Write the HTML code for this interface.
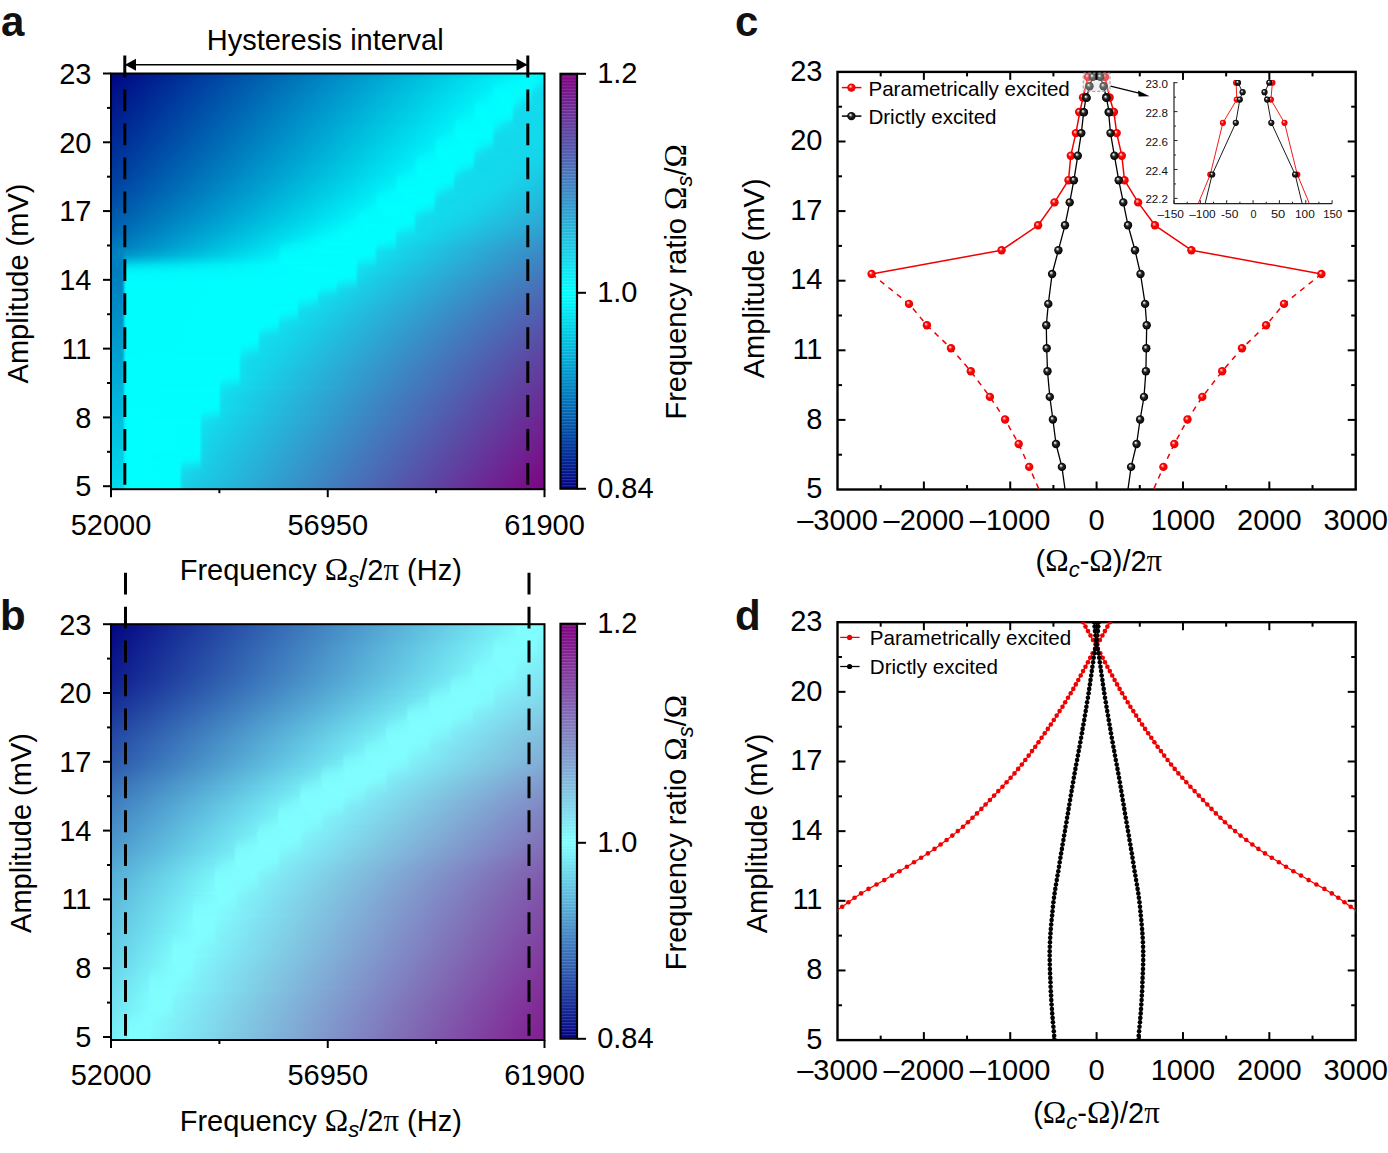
<!DOCTYPE html>
<html><head><meta charset="utf-8"><style>
html,body{margin:0;padding:0;background:#fff;}
svg{display:block;font-family:"Liberation Sans", sans-serif;}
</style></head><body>
<svg width="1388" height="1153" viewBox="0 0 1388 1153">
<defs>
<linearGradient id="g1" x1="0" x2="1" y1="0" y2="0"><stop offset="0.0012" stop-color="#000683"/><stop offset="0.9735" stop-color="#00feff"/><stop offset="0.9988" stop-color="#04f6fb"/></linearGradient>
<linearGradient id="g2" x1="0" x2="1" y1="0" y2="0"><stop offset="0.0012" stop-color="#000784"/><stop offset="0.9689" stop-color="#00feff"/><stop offset="0.9988" stop-color="#06f3f9"/></linearGradient>
<linearGradient id="g3" x1="0" x2="1" y1="0" y2="0"><stop offset="0.0012" stop-color="#000884"/><stop offset="0.8836" stop-color="#00edf6"/><stop offset="0.9689" stop-color="#01fefe"/><stop offset="0.9942" stop-color="#07f1f8"/><stop offset="0.9988" stop-color="#09eef7"/></linearGradient>
<linearGradient id="g4" x1="0" x2="1" y1="0" y2="0"><stop offset="0.0012" stop-color="#000985"/><stop offset="0.8790" stop-color="#00ecf5"/><stop offset="0.9551" stop-color="#00feff"/><stop offset="0.9827" stop-color="#04f6fb"/><stop offset="0.9988" stop-color="#0be9f4"/></linearGradient>
<linearGradient id="g5" x1="0" x2="1" y1="0" y2="0"><stop offset="0.0012" stop-color="#000a85"/><stop offset="0.8790" stop-color="#00eef6"/><stop offset="0.8998" stop-color="#00f5fa"/><stop offset="0.9620" stop-color="#01fdfe"/><stop offset="0.9850" stop-color="#08f0f8"/><stop offset="0.9988" stop-color="#0de4f2"/></linearGradient>
<linearGradient id="g6" x1="0" x2="1" y1="0" y2="0"><stop offset="0.0012" stop-color="#000c86"/><stop offset="0.8790" stop-color="#00f0f7"/><stop offset="0.8906" stop-color="#00f6fb"/><stop offset="0.9574" stop-color="#01fefe"/><stop offset="0.9735" stop-color="#05f5fa"/><stop offset="0.9988" stop-color="#0fe0f0"/></linearGradient>
<linearGradient id="g7" x1="0" x2="1" y1="0" y2="0"><stop offset="0.0012" stop-color="#000d86"/><stop offset="0.8767" stop-color="#00eff7"/><stop offset="0.8882" stop-color="#00f8fc"/><stop offset="0.9551" stop-color="#01fdfe"/><stop offset="0.9689" stop-color="#04f7fb"/><stop offset="0.9896" stop-color="#0fe1f0"/><stop offset="0.9988" stop-color="#11deee"/></linearGradient>
<linearGradient id="g8" x1="0" x2="1" y1="0" y2="0"><stop offset="0.0012" stop-color="#000e87"/><stop offset="0.8767" stop-color="#00f0f8"/><stop offset="0.8859" stop-color="#00fafd"/><stop offset="0.9528" stop-color="#01fdfe"/><stop offset="0.9666" stop-color="#03f8fc"/><stop offset="0.9781" stop-color="#0de5f2"/><stop offset="0.9988" stop-color="#12dced"/></linearGradient>
<linearGradient id="g9" x1="0" x2="1" y1="0" y2="0"><stop offset="0.0012" stop-color="#000f87"/><stop offset="0.8767" stop-color="#00f2f9"/><stop offset="0.8859" stop-color="#00fcfd"/><stop offset="0.9528" stop-color="#01fdfe"/><stop offset="0.9666" stop-color="#04f7fb"/><stop offset="0.9758" stop-color="#0fe2f1"/><stop offset="0.9988" stop-color="#12daed"/></linearGradient>
<linearGradient id="g10" x1="0" x2="1" y1="0" y2="0"><stop offset="0.0012" stop-color="#001088"/><stop offset="0.8767" stop-color="#00f4f9"/><stop offset="0.8859" stop-color="#00fdfe"/><stop offset="0.9505" stop-color="#02fcfd"/><stop offset="0.9666" stop-color="#05f5fa"/><stop offset="0.9735" stop-color="#0fe1f0"/><stop offset="0.9896" stop-color="#13daed"/><stop offset="0.9988" stop-color="#13daec"/></linearGradient>
<linearGradient id="g11" x1="0" x2="1" y1="0" y2="0"><stop offset="0.0012" stop-color="#001189"/><stop offset="0.8399" stop-color="#00ecf5"/><stop offset="0.8790" stop-color="#00f8fb"/><stop offset="0.8882" stop-color="#00fefe"/><stop offset="0.9435" stop-color="#02fcfd"/><stop offset="0.9666" stop-color="#07f1f8"/><stop offset="0.9735" stop-color="#11deef"/><stop offset="0.9988" stop-color="#13d9ec"/></linearGradient>
<linearGradient id="g12" x1="0" x2="1" y1="0" y2="0"><stop offset="0.0012" stop-color="#001289"/><stop offset="0.8353" stop-color="#00ebf5"/><stop offset="0.8790" stop-color="#00f9fc"/><stop offset="0.8906" stop-color="#00feff"/><stop offset="0.9343" stop-color="#02fcfd"/><stop offset="0.9666" stop-color="#09ecf6"/><stop offset="0.9735" stop-color="#11dcee"/><stop offset="0.9988" stop-color="#13d9ec"/></linearGradient>
<linearGradient id="g13" x1="0" x2="1" y1="0" y2="0"><stop offset="0.0012" stop-color="#00138a"/><stop offset="0.8353" stop-color="#00edf6"/><stop offset="0.8560" stop-color="#00f4fa"/><stop offset="0.8790" stop-color="#00fafd"/><stop offset="0.8952" stop-color="#00ffff"/><stop offset="0.9274" stop-color="#01fcfe"/><stop offset="0.9689" stop-color="#0ee3f1"/><stop offset="0.9758" stop-color="#13daec"/><stop offset="0.9988" stop-color="#13d9ec"/></linearGradient>
<linearGradient id="g14" x1="0" x2="1" y1="0" y2="0"><stop offset="0.0012" stop-color="#00148a"/><stop offset="0.8353" stop-color="#00eef7"/><stop offset="0.8468" stop-color="#00f5fa"/><stop offset="0.8998" stop-color="#00ffff"/><stop offset="0.9251" stop-color="#01fdfe"/><stop offset="0.9551" stop-color="#0de5f2"/><stop offset="0.9689" stop-color="#10e0ef"/><stop offset="0.9781" stop-color="#13d9ec"/><stop offset="0.9988" stop-color="#13d9ec"/></linearGradient>
<linearGradient id="g15" x1="0" x2="1" y1="0" y2="0"><stop offset="0.0012" stop-color="#00158b"/><stop offset="0.8329" stop-color="#00eef6"/><stop offset="0.8445" stop-color="#00f7fb"/><stop offset="0.9067" stop-color="#00ffff"/><stop offset="0.9251" stop-color="#02fcfd"/><stop offset="0.9459" stop-color="#0de5f2"/><stop offset="0.9827" stop-color="#13d9ec"/><stop offset="0.9988" stop-color="#13d9ec"/></linearGradient>
<linearGradient id="g16" x1="0" x2="1" y1="0" y2="0"><stop offset="0.0012" stop-color="#00168b"/><stop offset="0.8329" stop-color="#00eff7"/><stop offset="0.8422" stop-color="#00f9fc"/><stop offset="0.9182" stop-color="#00ffff"/><stop offset="0.9251" stop-color="#02fafd"/><stop offset="0.9343" stop-color="#0beaf5"/><stop offset="0.9528" stop-color="#11deee"/><stop offset="0.9988" stop-color="#13d9ec"/></linearGradient>
<linearGradient id="g17" x1="0" x2="1" y1="0" y2="0"><stop offset="0.0012" stop-color="#00178c"/><stop offset="0.8329" stop-color="#00f0f8"/><stop offset="0.8422" stop-color="#00fbfd"/><stop offset="0.9205" stop-color="#00ffff"/><stop offset="0.9251" stop-color="#03f8fc"/><stop offset="0.9320" stop-color="#0ce8f3"/><stop offset="0.9505" stop-color="#12dcee"/><stop offset="0.9988" stop-color="#13d9ec"/></linearGradient>
<linearGradient id="g18" x1="0" x2="1" y1="0" y2="0"><stop offset="0.0012" stop-color="#00188c"/><stop offset="0.8329" stop-color="#00f2f8"/><stop offset="0.8422" stop-color="#00fdfe"/><stop offset="0.9205" stop-color="#00feff"/><stop offset="0.9251" stop-color="#04f7fb"/><stop offset="0.9320" stop-color="#0ee4f1"/><stop offset="0.9528" stop-color="#12daed"/><stop offset="0.9988" stop-color="#13d9ec"/></linearGradient>
<linearGradient id="g19" x1="0" x2="1" y1="0" y2="0"><stop offset="0.0012" stop-color="#00198d"/><stop offset="0.8329" stop-color="#00f3f9"/><stop offset="0.8422" stop-color="#00fdfe"/><stop offset="0.9205" stop-color="#01fefe"/><stop offset="0.9251" stop-color="#05f5fa"/><stop offset="0.9297" stop-color="#0ee4f1"/><stop offset="0.9412" stop-color="#12dbed"/><stop offset="0.9988" stop-color="#13d9ec"/></linearGradient>
<linearGradient id="g20" x1="0" x2="1" y1="0" y2="0"><stop offset="0.0012" stop-color="#001a8d"/><stop offset="0.8329" stop-color="#00f5fa"/><stop offset="0.8422" stop-color="#00feff"/><stop offset="0.9205" stop-color="#01fdfe"/><stop offset="0.9251" stop-color="#06f3f9"/><stop offset="0.9297" stop-color="#0fe1f0"/><stop offset="0.9412" stop-color="#12daed"/><stop offset="0.9988" stop-color="#13d9ec"/></linearGradient>
<linearGradient id="g21" x1="0" x2="1" y1="0" y2="0"><stop offset="0.0012" stop-color="#001b8e"/><stop offset="0.7915" stop-color="#00ebf5"/><stop offset="0.8353" stop-color="#00f8fc"/><stop offset="0.8445" stop-color="#00ffff"/><stop offset="0.9205" stop-color="#02fbfd"/><stop offset="0.9251" stop-color="#07f1f8"/><stop offset="0.9297" stop-color="#10dfef"/><stop offset="0.9435" stop-color="#13d9ec"/><stop offset="0.9988" stop-color="#13d9ec"/></linearGradient>
<linearGradient id="g22" x1="0" x2="1" y1="0" y2="0"><stop offset="0.0012" stop-color="#001c8e"/><stop offset="0.7892" stop-color="#00ebf5"/><stop offset="0.8168" stop-color="#00f4f9"/><stop offset="0.8353" stop-color="#00fafc"/><stop offset="0.8468" stop-color="#00ffff"/><stop offset="0.9113" stop-color="#02fafd"/><stop offset="0.9228" stop-color="#05f5fa"/><stop offset="0.9297" stop-color="#11deee"/><stop offset="0.9482" stop-color="#13d9ec"/><stop offset="0.9988" stop-color="#13d9ec"/></linearGradient>
<linearGradient id="g23" x1="0" x2="1" y1="0" y2="0"><stop offset="0.0012" stop-color="#001d8f"/><stop offset="0.7892" stop-color="#00edf6"/><stop offset="0.8030" stop-color="#00f4f9"/><stop offset="0.8353" stop-color="#00fbfd"/><stop offset="0.8537" stop-color="#00ffff"/><stop offset="0.8998" stop-color="#02fafd"/><stop offset="0.9228" stop-color="#07f1f8"/><stop offset="0.9297" stop-color="#11dcee"/><stop offset="0.9689" stop-color="#13d9ec"/><stop offset="0.9988" stop-color="#13d9ec"/></linearGradient>
<linearGradient id="g24" x1="0" x2="1" y1="0" y2="0"><stop offset="0.0012" stop-color="#001e8f"/><stop offset="0.7869" stop-color="#00ecf5"/><stop offset="0.7984" stop-color="#00f6fa"/><stop offset="0.8583" stop-color="#00ffff"/><stop offset="0.8882" stop-color="#02fbfd"/><stop offset="0.9228" stop-color="#0aebf5"/><stop offset="0.9297" stop-color="#12dbed"/><stop offset="0.9988" stop-color="#13d9ec"/></linearGradient>
<linearGradient id="g25" x1="0" x2="1" y1="0" y2="0"><stop offset="0.0012" stop-color="#001f90"/><stop offset="0.7869" stop-color="#00edf6"/><stop offset="0.7961" stop-color="#00f8fb"/><stop offset="0.8652" stop-color="#00ffff"/><stop offset="0.8813" stop-color="#02fcfd"/><stop offset="0.9182" stop-color="#0ce7f3"/><stop offset="0.9251" stop-color="#0ee2f1"/><stop offset="0.9320" stop-color="#13d9ec"/><stop offset="0.9988" stop-color="#13d9ec"/></linearGradient>
<linearGradient id="g26" x1="0" x2="1" y1="0" y2="0"><stop offset="0.0012" stop-color="#002090"/><stop offset="0.7869" stop-color="#00eff7"/><stop offset="0.7961" stop-color="#00fafc"/><stop offset="0.8744" stop-color="#00ffff"/><stop offset="0.9113" stop-color="#0ee4f1"/><stop offset="0.9251" stop-color="#10dfef"/><stop offset="0.9343" stop-color="#13d9ec"/><stop offset="0.9988" stop-color="#13d9ec"/></linearGradient>
<linearGradient id="g27" x1="0" x2="1" y1="0" y2="0"><stop offset="0.0012" stop-color="#002191"/><stop offset="0.7869" stop-color="#00f0f8"/><stop offset="0.7961" stop-color="#00fcfd"/><stop offset="0.8767" stop-color="#01fefe"/><stop offset="0.8998" stop-color="#0de5f2"/><stop offset="0.9389" stop-color="#13d9ec"/><stop offset="0.9988" stop-color="#13d9ec"/></linearGradient>
<linearGradient id="g28" x1="0" x2="1" y1="0" y2="0"><stop offset="0.0012" stop-color="#002291"/><stop offset="0.7869" stop-color="#00f1f8"/><stop offset="0.7961" stop-color="#00fdfe"/><stop offset="0.8767" stop-color="#01fefe"/><stop offset="0.8882" stop-color="#0aebf5"/><stop offset="0.9090" stop-color="#11ddee"/><stop offset="0.9689" stop-color="#13d9ec"/><stop offset="0.9988" stop-color="#13d9ec"/></linearGradient>
<linearGradient id="g29" x1="0" x2="1" y1="0" y2="0"><stop offset="0.0012" stop-color="#002392"/><stop offset="0.7869" stop-color="#00f3f9"/><stop offset="0.7961" stop-color="#00fefe"/><stop offset="0.8767" stop-color="#01fdfe"/><stop offset="0.8859" stop-color="#0be9f4"/><stop offset="0.9044" stop-color="#12dcee"/><stop offset="0.9988" stop-color="#13d9ec"/></linearGradient>
<linearGradient id="g30" x1="0" x2="1" y1="0" y2="0"><stop offset="0.0012" stop-color="#002492"/><stop offset="0.7477" stop-color="#00eaf4"/><stop offset="0.7869" stop-color="#00f4fa"/><stop offset="0.7961" stop-color="#00feff"/><stop offset="0.8767" stop-color="#01fcfe"/><stop offset="0.8859" stop-color="#0de4f2"/><stop offset="0.9044" stop-color="#12dbed"/><stop offset="0.9988" stop-color="#13d9ec"/></linearGradient>
<linearGradient id="g31" x1="0" x2="1" y1="0" y2="0"><stop offset="0.0012" stop-color="#002593"/><stop offset="0.7454" stop-color="#00eaf4"/><stop offset="0.7892" stop-color="#00f9fc"/><stop offset="0.7984" stop-color="#00ffff"/><stop offset="0.8744" stop-color="#01fefe"/><stop offset="0.8790" stop-color="#05f5fa"/><stop offset="0.8836" stop-color="#0de5f2"/><stop offset="0.8952" stop-color="#12dbed"/><stop offset="0.9988" stop-color="#13d9ec"/></linearGradient>
<linearGradient id="g32" x1="0" x2="1" y1="0" y2="0"><stop offset="0.0012" stop-color="#002693"/><stop offset="0.7454" stop-color="#00ebf5"/><stop offset="0.7615" stop-color="#00f3f9"/><stop offset="0.7892" stop-color="#00fafc"/><stop offset="0.8007" stop-color="#00ffff"/><stop offset="0.8744" stop-color="#01fdfe"/><stop offset="0.8790" stop-color="#06f4f9"/><stop offset="0.8836" stop-color="#0fe2f0"/><stop offset="0.8952" stop-color="#12daed"/><stop offset="0.9988" stop-color="#13d9ec"/></linearGradient>
<linearGradient id="g33" x1="0" x2="1" y1="0" y2="0"><stop offset="0.0012" stop-color="#002794"/><stop offset="0.7431" stop-color="#00ebf5"/><stop offset="0.7546" stop-color="#00f4fa"/><stop offset="0.7915" stop-color="#00fdfe"/><stop offset="0.8721" stop-color="#02fcfd"/><stop offset="0.8767" stop-color="#03f9fc"/><stop offset="0.8836" stop-color="#10dfef"/><stop offset="0.8975" stop-color="#13d9ec"/><stop offset="0.9988" stop-color="#13d9ec"/></linearGradient>
<linearGradient id="g34" x1="0" x2="1" y1="0" y2="0"><stop offset="0.0012" stop-color="#002894"/><stop offset="0.7431" stop-color="#00ecf6"/><stop offset="0.7523" stop-color="#00f7fb"/><stop offset="0.8145" stop-color="#00ffff"/><stop offset="0.8744" stop-color="#03f8fc"/><stop offset="0.8790" stop-color="#08eff7"/><stop offset="0.8836" stop-color="#11deee"/><stop offset="0.8998" stop-color="#13d9ec"/><stop offset="0.9988" stop-color="#13d9ec"/></linearGradient>
<linearGradient id="g35" x1="0" x2="1" y1="0" y2="0"><stop offset="0.0012" stop-color="#002995"/><stop offset="0.7431" stop-color="#00eef6"/><stop offset="0.7523" stop-color="#00f9fc"/><stop offset="0.8283" stop-color="#00ffff"/><stop offset="0.8767" stop-color="#07f1f8"/><stop offset="0.8836" stop-color="#11dcee"/><stop offset="0.9182" stop-color="#13d9ec"/><stop offset="0.9988" stop-color="#13d8ec"/></linearGradient>
<linearGradient id="g36" x1="0" x2="1" y1="0" y2="0"><stop offset="0.0012" stop-color="#002a95"/><stop offset="0.7431" stop-color="#00eff7"/><stop offset="0.7523" stop-color="#00fbfd"/><stop offset="0.8329" stop-color="#00ffff"/><stop offset="0.8767" stop-color="#0aecf5"/><stop offset="0.8836" stop-color="#12dbed"/><stop offset="0.9988" stop-color="#14d8eb"/></linearGradient>
<linearGradient id="g37" x1="0" x2="1" y1="0" y2="0"><stop offset="0.0012" stop-color="#002b96"/><stop offset="0.7431" stop-color="#00f0f8"/><stop offset="0.7523" stop-color="#00fcfe"/><stop offset="0.8353" stop-color="#01fdfe"/><stop offset="0.8698" stop-color="#0be8f4"/><stop offset="0.8790" stop-color="#0ee2f1"/><stop offset="0.8859" stop-color="#13d9ec"/><stop offset="0.9988" stop-color="#14d7eb"/></linearGradient>
<linearGradient id="g38" x1="0" x2="1" y1="0" y2="0"><stop offset="0.0012" stop-color="#002c96"/><stop offset="0.7431" stop-color="#00f2f8"/><stop offset="0.7523" stop-color="#00fdfe"/><stop offset="0.8329" stop-color="#00feff"/><stop offset="0.8560" stop-color="#0be8f4"/><stop offset="0.8790" stop-color="#10dfef"/><stop offset="0.8882" stop-color="#13d9ec"/><stop offset="0.9988" stop-color="#15d6ea"/></linearGradient>
<linearGradient id="g39" x1="0" x2="1" y1="0" y2="0"><stop offset="0.0012" stop-color="#002d97"/><stop offset="0.7016" stop-color="#00e8f3"/><stop offset="0.7431" stop-color="#00f4f9"/><stop offset="0.7523" stop-color="#00fefe"/><stop offset="0.8329" stop-color="#01fefe"/><stop offset="0.8445" stop-color="#0aecf5"/><stop offset="0.8652" stop-color="#10dfef"/><stop offset="0.8998" stop-color="#13d9ec"/><stop offset="0.9919" stop-color="#15d6eb"/><stop offset="0.9988" stop-color="#15d5ea"/></linearGradient>
<linearGradient id="g40" x1="0" x2="1" y1="0" y2="0"><stop offset="0.0012" stop-color="#002e97"/><stop offset="0.6993" stop-color="#00e8f4"/><stop offset="0.7454" stop-color="#00f8fb"/><stop offset="0.7546" stop-color="#00ffff"/><stop offset="0.8329" stop-color="#01fdfe"/><stop offset="0.8422" stop-color="#0be9f4"/><stop offset="0.8629" stop-color="#11ddee"/><stop offset="0.9251" stop-color="#13d9ec"/><stop offset="0.9896" stop-color="#15d5ea"/><stop offset="0.9988" stop-color="#16d4e9"/></linearGradient>
<linearGradient id="g41" x1="0" x2="1" y1="0" y2="0"><stop offset="0.0012" stop-color="#003098"/><stop offset="0.6993" stop-color="#00eaf4"/><stop offset="0.7154" stop-color="#00f1f8"/><stop offset="0.7454" stop-color="#00f9fc"/><stop offset="0.7569" stop-color="#00ffff"/><stop offset="0.8329" stop-color="#01fcfe"/><stop offset="0.8422" stop-color="#0de4f2"/><stop offset="0.8629" stop-color="#12dbed"/><stop offset="0.9850" stop-color="#15d5ea"/><stop offset="0.9988" stop-color="#16d3e9"/></linearGradient>
<linearGradient id="g42" x1="0" x2="1" y1="0" y2="0"><stop offset="0.0012" stop-color="#003198"/><stop offset="0.6970" stop-color="#00e9f4"/><stop offset="0.7085" stop-color="#00f3f9"/><stop offset="0.7454" stop-color="#00fbfd"/><stop offset="0.7615" stop-color="#00ffff"/><stop offset="0.8306" stop-color="#01fefe"/><stop offset="0.8353" stop-color="#05f5fa"/><stop offset="0.8399" stop-color="#0de4f2"/><stop offset="0.8514" stop-color="#12dced"/><stop offset="0.9804" stop-color="#15d5ea"/><stop offset="0.9988" stop-color="#17d2e8"/></linearGradient>
<linearGradient id="g43" x1="0" x2="1" y1="0" y2="0"><stop offset="0.0012" stop-color="#003299"/><stop offset="0.6970" stop-color="#00ebf5"/><stop offset="0.7062" stop-color="#00f5fa"/><stop offset="0.7684" stop-color="#00ffff"/><stop offset="0.8306" stop-color="#01fdfe"/><stop offset="0.8353" stop-color="#06f3f9"/><stop offset="0.8399" stop-color="#0fe1f0"/><stop offset="0.8514" stop-color="#12daed"/><stop offset="0.9735" stop-color="#15d6ea"/><stop offset="0.9988" stop-color="#17d1e8"/></linearGradient>
<linearGradient id="g44" x1="0" x2="1" y1="0" y2="0"><stop offset="0.0012" stop-color="#003399"/><stop offset="0.6970" stop-color="#00ecf6"/><stop offset="0.7062" stop-color="#00f8fc"/><stop offset="0.7776" stop-color="#00ffff"/><stop offset="0.8306" stop-color="#02fbfd"/><stop offset="0.8353" stop-color="#07f1f8"/><stop offset="0.8399" stop-color="#10dfef"/><stop offset="0.8537" stop-color="#13d9ec"/><stop offset="0.9689" stop-color="#15d6ea"/><stop offset="0.9988" stop-color="#18d0e7"/></linearGradient>
<linearGradient id="g45" x1="0" x2="1" y1="0" y2="0"><stop offset="0.0012" stop-color="#00349a"/><stop offset="0.6970" stop-color="#00eef6"/><stop offset="0.7062" stop-color="#00fafd"/><stop offset="0.7892" stop-color="#00ffff"/><stop offset="0.8329" stop-color="#05f5fa"/><stop offset="0.8399" stop-color="#11deee"/><stop offset="0.8583" stop-color="#13d9ec"/><stop offset="0.9643" stop-color="#15d6ea"/><stop offset="0.9988" stop-color="#18cfe7"/></linearGradient>
<linearGradient id="g46" x1="0" x2="1" y1="0" y2="0"><stop offset="0.0012" stop-color="#00359a"/><stop offset="0.6970" stop-color="#00eff7"/><stop offset="0.7062" stop-color="#00fcfd"/><stop offset="0.7915" stop-color="#01fdfe"/><stop offset="0.8329" stop-color="#07f1f8"/><stop offset="0.8399" stop-color="#11dcee"/><stop offset="0.8790" stop-color="#13d9ec"/><stop offset="0.9597" stop-color="#15d6ea"/><stop offset="0.9988" stop-color="#19cee6"/></linearGradient>
<linearGradient id="g47" x1="0" x2="1" y1="0" y2="0"><stop offset="0.0012" stop-color="#00369b"/><stop offset="0.6970" stop-color="#00f1f8"/><stop offset="0.7062" stop-color="#00fdfe"/><stop offset="0.7892" stop-color="#01fefe"/><stop offset="0.8329" stop-color="#0aebf5"/><stop offset="0.8399" stop-color="#12dbed"/><stop offset="0.9551" stop-color="#15d5ea"/><stop offset="0.9988" stop-color="#19cce6"/></linearGradient>
<linearGradient id="g48" x1="0" x2="1" y1="0" y2="0"><stop offset="0.0012" stop-color="#00379c"/><stop offset="0.6578" stop-color="#00e7f3"/><stop offset="0.6970" stop-color="#00f3f9"/><stop offset="0.7062" stop-color="#00fefe"/><stop offset="0.7892" stop-color="#01fdfe"/><stop offset="0.8260" stop-color="#0ce8f4"/><stop offset="0.8353" stop-color="#0ee2f1"/><stop offset="0.8422" stop-color="#13d9ec"/><stop offset="0.9482" stop-color="#15d6ea"/><stop offset="0.9988" stop-color="#1acbe5"/></linearGradient>
<linearGradient id="g49" x1="0" x2="1" y1="0" y2="0"><stop offset="0.0012" stop-color="#00399c"/><stop offset="0.6555" stop-color="#00e8f3"/><stop offset="0.6993" stop-color="#00f7fb"/><stop offset="0.7085" stop-color="#00feff"/><stop offset="0.7869" stop-color="#01fefe"/><stop offset="0.8053" stop-color="#0aecf5"/><stop offset="0.8283" stop-color="#0ee2f1"/><stop offset="0.8445" stop-color="#13d9ec"/><stop offset="0.9435" stop-color="#15d6ea"/><stop offset="0.9988" stop-color="#1bcae5"/></linearGradient>
<linearGradient id="g50" x1="0" x2="1" y1="0" y2="0"><stop offset="0.0012" stop-color="#003a9d"/><stop offset="0.6555" stop-color="#00eaf4"/><stop offset="0.6717" stop-color="#00f1f8"/><stop offset="0.6993" stop-color="#00f9fc"/><stop offset="0.7085" stop-color="#00ffff"/><stop offset="0.7869" stop-color="#01fefe"/><stop offset="0.7984" stop-color="#0aecf5"/><stop offset="0.8191" stop-color="#10dfef"/><stop offset="0.8560" stop-color="#13d9ec"/><stop offset="0.9389" stop-color="#15d5ea"/><stop offset="0.9988" stop-color="#1bc9e4"/></linearGradient>
<linearGradient id="g51" x1="0" x2="1" y1="0" y2="0"><stop offset="0.0012" stop-color="#003b9d"/><stop offset="0.6532" stop-color="#00e9f4"/><stop offset="0.6647" stop-color="#00f3f9"/><stop offset="0.6993" stop-color="#00fafd"/><stop offset="0.7131" stop-color="#00ffff"/><stop offset="0.7869" stop-color="#01fdfe"/><stop offset="0.7961" stop-color="#0be9f4"/><stop offset="0.8168" stop-color="#11ddee"/><stop offset="0.8859" stop-color="#13d9ec"/><stop offset="0.9389" stop-color="#15d4ea"/><stop offset="0.9988" stop-color="#1cc8e4"/></linearGradient>
<linearGradient id="g52" x1="0" x2="1" y1="0" y2="0"><stop offset="0.0012" stop-color="#003c9e"/><stop offset="0.6532" stop-color="#00ebf5"/><stop offset="0.6624" stop-color="#00f5fa"/><stop offset="0.7016" stop-color="#00fdfe"/><stop offset="0.7869" stop-color="#01fcfe"/><stop offset="0.7961" stop-color="#0ee4f1"/><stop offset="0.8168" stop-color="#12dbed"/><stop offset="0.9297" stop-color="#15d5ea"/><stop offset="0.9988" stop-color="#1cc7e3"/></linearGradient>
<linearGradient id="g53" x1="0" x2="1" y1="0" y2="0"><stop offset="0.0012" stop-color="#003d9f"/><stop offset="0.6532" stop-color="#00edf6"/><stop offset="0.6624" stop-color="#00f8fc"/><stop offset="0.7316" stop-color="#00ffff"/><stop offset="0.7846" stop-color="#01fdfe"/><stop offset="0.7892" stop-color="#05f4fa"/><stop offset="0.7938" stop-color="#0ee3f1"/><stop offset="0.8053" stop-color="#12dbed"/><stop offset="0.9228" stop-color="#15d5ea"/><stop offset="0.9988" stop-color="#1dc5e2"/></linearGradient>
<linearGradient id="g54" x1="0" x2="1" y1="0" y2="0"><stop offset="0.0012" stop-color="#003f9f"/><stop offset="0.6532" stop-color="#00eef7"/><stop offset="0.6624" stop-color="#00fafd"/><stop offset="0.7477" stop-color="#00ffff"/><stop offset="0.7846" stop-color="#02fcfd"/><stop offset="0.7892" stop-color="#07f2f9"/><stop offset="0.7938" stop-color="#0fe0f0"/><stop offset="0.8076" stop-color="#13daed"/><stop offset="0.9159" stop-color="#15d6ea"/><stop offset="0.9988" stop-color="#1dc4e2"/></linearGradient>
<linearGradient id="g55" x1="0" x2="1" y1="0" y2="0"><stop offset="0.0012" stop-color="#0040a0"/><stop offset="0.6532" stop-color="#00f0f8"/><stop offset="0.6624" stop-color="#00fcfe"/><stop offset="0.7569" stop-color="#01fdfe"/><stop offset="0.7869" stop-color="#04f6fb"/><stop offset="0.7938" stop-color="#10deef"/><stop offset="0.8099" stop-color="#13d9ec"/><stop offset="0.9113" stop-color="#15d5ea"/><stop offset="0.9988" stop-color="#1ec3e1"/></linearGradient>
<linearGradient id="g56" x1="0" x2="1" y1="0" y2="0"><stop offset="0.0012" stop-color="#0041a1"/><stop offset="0.6532" stop-color="#00f2f8"/><stop offset="0.6624" stop-color="#00fdfe"/><stop offset="0.7477" stop-color="#01fdfe"/><stop offset="0.7869" stop-color="#07f2f8"/><stop offset="0.7938" stop-color="#11ddee"/><stop offset="0.8214" stop-color="#13d9ec"/><stop offset="0.9044" stop-color="#15d6ea"/><stop offset="0.9988" stop-color="#1fc2e1"/></linearGradient>
<linearGradient id="g57" x1="0" x2="1" y1="0" y2="0"><stop offset="0.0012" stop-color="#0043a1"/><stop offset="0.6118" stop-color="#00e8f4"/><stop offset="0.6532" stop-color="#00f4f9"/><stop offset="0.6624" stop-color="#00fefe"/><stop offset="0.7454" stop-color="#01fdfe"/><stop offset="0.7869" stop-color="#09ecf6"/><stop offset="0.7938" stop-color="#12dced"/><stop offset="0.9021" stop-color="#15d5ea"/><stop offset="0.9988" stop-color="#1fc0e0"/></linearGradient>
<linearGradient id="g58" x1="0" x2="1" y1="0" y2="0"><stop offset="0.0012" stop-color="#0044a2"/><stop offset="0.6094" stop-color="#00e8f4"/><stop offset="0.6555" stop-color="#00f8fc"/><stop offset="0.6647" stop-color="#00ffff"/><stop offset="0.7454" stop-color="#01fcfe"/><stop offset="0.7776" stop-color="#0beaf4"/><stop offset="0.7892" stop-color="#0ee3f1"/><stop offset="0.7961" stop-color="#13d9ec"/><stop offset="0.8929" stop-color="#15d6ea"/><stop offset="0.9988" stop-color="#20bfdf"/></linearGradient>
<linearGradient id="g59" x1="0" x2="1" y1="0" y2="0"><stop offset="0.0012" stop-color="#0045a3"/><stop offset="0.6094" stop-color="#00eaf5"/><stop offset="0.6256" stop-color="#00f2f8"/><stop offset="0.6555" stop-color="#00fafc"/><stop offset="0.6671" stop-color="#00ffff"/><stop offset="0.7431" stop-color="#01fefe"/><stop offset="0.7546" stop-color="#08f0f7"/><stop offset="0.7800" stop-color="#0ee3f1"/><stop offset="0.7892" stop-color="#10dfef"/><stop offset="0.7984" stop-color="#13d9ec"/><stop offset="0.8859" stop-color="#15d6eb"/><stop offset="0.9988" stop-color="#21bedf"/></linearGradient>
<linearGradient id="g60" x1="0" x2="1" y1="0" y2="0"><stop offset="0.0012" stop-color="#0047a3"/><stop offset="0.6071" stop-color="#00eaf5"/><stop offset="0.6187" stop-color="#00f3f9"/><stop offset="0.6578" stop-color="#00fdfe"/><stop offset="0.7431" stop-color="#01fdfe"/><stop offset="0.7523" stop-color="#09edf6"/><stop offset="0.7753" stop-color="#10e0ef"/><stop offset="0.8076" stop-color="#13d9ec"/><stop offset="0.8813" stop-color="#15d6ea"/><stop offset="0.9988" stop-color="#21bdde"/></linearGradient>
<linearGradient id="g61" x1="0" x2="1" y1="0" y2="0"><stop offset="0.0012" stop-color="#0048a4"/><stop offset="0.6071" stop-color="#00ecf5"/><stop offset="0.6164" stop-color="#00f6fb"/><stop offset="0.6809" stop-color="#00ffff"/><stop offset="0.7431" stop-color="#01fdfe"/><stop offset="0.7523" stop-color="#0ce8f3"/><stop offset="0.7730" stop-color="#11ddee"/><stop offset="0.8329" stop-color="#13d9ec"/><stop offset="0.8859" stop-color="#16d3e9"/><stop offset="0.9988" stop-color="#22bbdd"/></linearGradient>
<linearGradient id="g62" x1="0" x2="1" y1="0" y2="0"><stop offset="0.0012" stop-color="#004aa5"/><stop offset="0.6071" stop-color="#00eef6"/><stop offset="0.6164" stop-color="#00f9fc"/><stop offset="0.6924" stop-color="#00ffff"/><stop offset="0.7431" stop-color="#01fcfe"/><stop offset="0.7500" stop-color="#0ce7f3"/><stop offset="0.7638" stop-color="#11ddee"/><stop offset="0.8744" stop-color="#15d4ea"/><stop offset="0.9988" stop-color="#23badd"/></linearGradient>
<linearGradient id="g63" x1="0" x2="1" y1="0" y2="0"><stop offset="0.0012" stop-color="#004ba5"/><stop offset="0.6071" stop-color="#00f0f7"/><stop offset="0.6164" stop-color="#00fbfd"/><stop offset="0.7224" stop-color="#00ffff"/><stop offset="0.7431" stop-color="#02fbfd"/><stop offset="0.7500" stop-color="#0ee3f1"/><stop offset="0.7615" stop-color="#12dbed"/><stop offset="0.8652" stop-color="#15d5ea"/><stop offset="0.9988" stop-color="#23b9dc"/></linearGradient>
<linearGradient id="g64" x1="0" x2="1" y1="0" y2="0"><stop offset="0.0012" stop-color="#004da6"/><stop offset="0.6071" stop-color="#00f1f8"/><stop offset="0.6164" stop-color="#00fcfe"/><stop offset="0.7408" stop-color="#01fdfe"/><stop offset="0.7454" stop-color="#06f3f9"/><stop offset="0.7500" stop-color="#0fe0f0"/><stop offset="0.7615" stop-color="#12daed"/><stop offset="0.8583" stop-color="#15d5ea"/><stop offset="0.9988" stop-color="#24b7db"/></linearGradient>
<linearGradient id="g65" x1="0" x2="1" y1="0" y2="0"><stop offset="0.0012" stop-color="#004ea7"/><stop offset="0.6071" stop-color="#00f3f9"/><stop offset="0.6164" stop-color="#00fdfe"/><stop offset="0.7316" stop-color="#01fcfe"/><stop offset="0.7431" stop-color="#03f8fc"/><stop offset="0.7500" stop-color="#10deef"/><stop offset="0.7638" stop-color="#13d9ec"/><stop offset="0.8514" stop-color="#15d5ea"/><stop offset="0.9988" stop-color="#25b6db"/></linearGradient>
<linearGradient id="g66" x1="0" x2="1" y1="0" y2="0"><stop offset="0.0012" stop-color="#0050a8"/><stop offset="0.6071" stop-color="#00f5fa"/><stop offset="0.6164" stop-color="#00feff"/><stop offset="0.7085" stop-color="#01fcfe"/><stop offset="0.7431" stop-color="#05f5fa"/><stop offset="0.7500" stop-color="#11ddee"/><stop offset="0.7684" stop-color="#13d9ec"/><stop offset="0.8445" stop-color="#15d5ea"/><stop offset="0.9988" stop-color="#26b4da"/></linearGradient>
<linearGradient id="g67" x1="0" x2="1" y1="0" y2="0"><stop offset="0.0012" stop-color="#0051a8"/><stop offset="0.5680" stop-color="#00ecf6"/><stop offset="0.6094" stop-color="#00f9fc"/><stop offset="0.6210" stop-color="#00ffff"/><stop offset="0.6993" stop-color="#01fefe"/><stop offset="0.7431" stop-color="#07f0f8"/><stop offset="0.7500" stop-color="#12dcee"/><stop offset="0.8030" stop-color="#13d9ec"/><stop offset="0.8629" stop-color="#18d0e8"/><stop offset="0.9988" stop-color="#26b3d9"/></linearGradient>
<linearGradient id="g68" x1="0" x2="1" y1="0" y2="0"><stop offset="0.0012" stop-color="#0053a9"/><stop offset="0.5657" stop-color="#00edf6"/><stop offset="0.5979" stop-color="#00f7fb"/><stop offset="0.6233" stop-color="#00ffff"/><stop offset="0.6993" stop-color="#01fdfe"/><stop offset="0.7293" stop-color="#08eff7"/><stop offset="0.7431" stop-color="#0aebf5"/><stop offset="0.7500" stop-color="#12dbed"/><stop offset="0.8353" stop-color="#15d5ea"/><stop offset="0.9988" stop-color="#27b1d8"/></linearGradient>
<linearGradient id="g69" x1="0" x2="1" y1="0" y2="0"><stop offset="0.0012" stop-color="#0054aa"/><stop offset="0.5657" stop-color="#00eff7"/><stop offset="0.5818" stop-color="#00f6fb"/><stop offset="0.6302" stop-color="#00ffff"/><stop offset="0.6970" stop-color="#01fefe"/><stop offset="0.7085" stop-color="#07f2f8"/><stop offset="0.7431" stop-color="#0de5f2"/><stop offset="0.7523" stop-color="#13d9ec"/><stop offset="0.8260" stop-color="#15d5ea"/><stop offset="0.9988" stop-color="#28b0d8"/></linearGradient>
<linearGradient id="g70" x1="0" x2="1" y1="0" y2="0"><stop offset="0.0012" stop-color="#0056ab"/><stop offset="0.5657" stop-color="#00f1f8"/><stop offset="0.5772" stop-color="#00f8fb"/><stop offset="0.6371" stop-color="#00ffff"/><stop offset="0.6970" stop-color="#01fdfe"/><stop offset="0.7062" stop-color="#08eef7"/><stop offset="0.7362" stop-color="#0fe2f1"/><stop offset="0.7477" stop-color="#12dced"/><stop offset="0.8283" stop-color="#16d3e9"/><stop offset="0.9988" stop-color="#28aed7"/></linearGradient>
<linearGradient id="g71" x1="0" x2="1" y1="0" y2="0"><stop offset="0.0012" stop-color="#0057ac"/><stop offset="0.5634" stop-color="#00f1f8"/><stop offset="0.5749" stop-color="#00fafd"/><stop offset="0.6555" stop-color="#00ffff"/><stop offset="0.6970" stop-color="#01fdfe"/><stop offset="0.7062" stop-color="#0be9f4"/><stop offset="0.7316" stop-color="#10deef"/><stop offset="0.7684" stop-color="#13d9ec"/><stop offset="0.8214" stop-color="#16d3e9"/><stop offset="0.9988" stop-color="#29add6"/></linearGradient>
<linearGradient id="g72" x1="0" x2="1" y1="0" y2="0"><stop offset="0.0012" stop-color="#0059ac"/><stop offset="0.5634" stop-color="#00f3f9"/><stop offset="0.5749" stop-color="#00fcfd"/><stop offset="0.6947" stop-color="#00feff"/><stop offset="0.6993" stop-color="#04f7fb"/><stop offset="0.7039" stop-color="#0ce8f3"/><stop offset="0.7224" stop-color="#11ddee"/><stop offset="0.8145" stop-color="#16d3e9"/><stop offset="0.9988" stop-color="#2aabd5"/></linearGradient>
<linearGradient id="g73" x1="0" x2="1" y1="0" y2="0"><stop offset="0.0012" stop-color="#005bad"/><stop offset="0.5634" stop-color="#00f5fa"/><stop offset="0.5749" stop-color="#00fdfe"/><stop offset="0.6947" stop-color="#01fefe"/><stop offset="0.6993" stop-color="#05f5fa"/><stop offset="0.7039" stop-color="#0de4f2"/><stop offset="0.7177" stop-color="#12dced"/><stop offset="0.8030" stop-color="#16d4ea"/><stop offset="0.9988" stop-color="#2baad4"/></linearGradient>
<linearGradient id="g74" x1="0" x2="1" y1="0" y2="0"><stop offset="0.0012" stop-color="#005cae"/><stop offset="0.5634" stop-color="#00f7fb"/><stop offset="0.5749" stop-color="#00feff"/><stop offset="0.6947" stop-color="#01fdfe"/><stop offset="0.6993" stop-color="#06f3f9"/><stop offset="0.7039" stop-color="#0fe1f0"/><stop offset="0.7177" stop-color="#12daed"/><stop offset="0.7938" stop-color="#15d4ea"/><stop offset="0.9988" stop-color="#2ca8d4"/></linearGradient>
<linearGradient id="g75" x1="0" x2="1" y1="0" y2="0"><stop offset="0.0012" stop-color="#005eaf"/><stop offset="0.5219" stop-color="#00eff7"/><stop offset="0.5680" stop-color="#00fdfe"/><stop offset="0.6878" stop-color="#01fcfe"/><stop offset="0.6970" stop-color="#03f9fc"/><stop offset="0.7039" stop-color="#10dfef"/><stop offset="0.7177" stop-color="#13daec"/><stop offset="0.7846" stop-color="#15d5ea"/><stop offset="0.9988" stop-color="#2da6d3"/></linearGradient>
<linearGradient id="g76" x1="0" x2="1" y1="0" y2="0"><stop offset="0.0012" stop-color="#0060b0"/><stop offset="0.5196" stop-color="#00f0f7"/><stop offset="0.5541" stop-color="#00f9fc"/><stop offset="0.5887" stop-color="#00ffff"/><stop offset="0.6647" stop-color="#02fcfd"/><stop offset="0.6970" stop-color="#04f6fb"/><stop offset="0.7039" stop-color="#11ddee"/><stop offset="0.7200" stop-color="#13d9ec"/><stop offset="0.7800" stop-color="#16d4ea"/><stop offset="0.9988" stop-color="#2da5d2"/></linearGradient>
<linearGradient id="g77" x1="0" x2="1" y1="0" y2="0"><stop offset="0.0012" stop-color="#0062b1"/><stop offset="0.5196" stop-color="#00f2f9"/><stop offset="0.5403" stop-color="#00f9fc"/><stop offset="0.5956" stop-color="#00ffff"/><stop offset="0.6555" stop-color="#01fdfe"/><stop offset="0.6970" stop-color="#06f2f9"/><stop offset="0.7039" stop-color="#11dcee"/><stop offset="0.7362" stop-color="#13d9ec"/><stop offset="0.8491" stop-color="#1ec3e1"/><stop offset="0.9988" stop-color="#2ea3d1"/></linearGradient>
<linearGradient id="g78" x1="0" x2="1" y1="0" y2="0"><stop offset="0.0012" stop-color="#0064b2"/><stop offset="0.5196" stop-color="#00f5fa"/><stop offset="0.5380" stop-color="#00fbfd"/><stop offset="0.6348" stop-color="#00ffff"/><stop offset="0.6555" stop-color="#02fcfe"/><stop offset="0.6671" stop-color="#05f5fa"/><stop offset="0.6970" stop-color="#09edf6"/><stop offset="0.7039" stop-color="#12dbed"/><stop offset="0.7776" stop-color="#17d1e8"/><stop offset="0.9988" stop-color="#2fa1d0"/></linearGradient>
<linearGradient id="g79" x1="0" x2="1" y1="0" y2="0"><stop offset="0.0012" stop-color="#0066b3"/><stop offset="0.4781" stop-color="#00ebf5"/><stop offset="0.5196" stop-color="#00f7fb"/><stop offset="0.5403" stop-color="#00fdfe"/><stop offset="0.6532" stop-color="#01fefe"/><stop offset="0.6624" stop-color="#07f1f8"/><stop offset="0.6970" stop-color="#0ce7f3"/><stop offset="0.7062" stop-color="#13d9ec"/><stop offset="0.7638" stop-color="#16d2e9"/><stop offset="0.9988" stop-color="#309fcf"/></linearGradient>
<linearGradient id="g80" x1="0" x2="1" y1="0" y2="0"><stop offset="0.0012" stop-color="#0068b4"/><stop offset="0.4758" stop-color="#00edf6"/><stop offset="0.5357" stop-color="#00fefe"/><stop offset="0.6532" stop-color="#01fdfe"/><stop offset="0.6624" stop-color="#0aebf5"/><stop offset="0.6993" stop-color="#10e0ef"/><stop offset="0.7085" stop-color="#13d9ec"/><stop offset="0.7869" stop-color="#1acbe5"/><stop offset="0.9988" stop-color="#319dce"/></linearGradient>
<linearGradient id="g81" x1="0" x2="1" y1="0" y2="0"><stop offset="0.0012" stop-color="#006ab5"/><stop offset="0.4735" stop-color="#00eef7"/><stop offset="0.4919" stop-color="#00f6fa"/><stop offset="0.5426" stop-color="#00ffff"/><stop offset="0.6532" stop-color="#02fcfd"/><stop offset="0.6601" stop-color="#0be8f4"/><stop offset="0.6832" stop-color="#10e0ef"/><stop offset="0.7016" stop-color="#12dbed"/><stop offset="0.9988" stop-color="#329bcd"/></linearGradient>
<linearGradient id="g82" x1="0" x2="1" y1="0" y2="0"><stop offset="0.0012" stop-color="#006db6"/><stop offset="0.4297" stop-color="#00e5f2"/><stop offset="0.4781" stop-color="#00f5fa"/><stop offset="0.5426" stop-color="#00ffff"/><stop offset="0.6509" stop-color="#01fdfe"/><stop offset="0.6555" stop-color="#05f4fa"/><stop offset="0.6601" stop-color="#0ee4f1"/><stop offset="0.6763" stop-color="#11ddee"/><stop offset="0.7247" stop-color="#15d5ea"/><stop offset="0.9988" stop-color="#3399cc"/></linearGradient>
<linearGradient id="g83" x1="0" x2="1" y1="0" y2="0"><stop offset="0.0012" stop-color="#006fb7"/><stop offset="0.3882" stop-color="#00dced"/><stop offset="0.4781" stop-color="#00f8fc"/><stop offset="0.5472" stop-color="#00ffff"/><stop offset="0.6509" stop-color="#02fbfd"/><stop offset="0.6555" stop-color="#07f2f8"/><stop offset="0.6601" stop-color="#10e0f0"/><stop offset="0.6763" stop-color="#12dbed"/><stop offset="0.7200" stop-color="#16d4e9"/><stop offset="0.9988" stop-color="#3596cb"/></linearGradient>
<linearGradient id="g84" x1="0" x2="1" y1="0" y2="0"><stop offset="0.0012" stop-color="#0071b8"/><stop offset="0.3859" stop-color="#00ddee"/><stop offset="0.4551" stop-color="#00f4f9"/><stop offset="0.4988" stop-color="#00fefe"/><stop offset="0.6118" stop-color="#01fcfe"/><stop offset="0.6532" stop-color="#05f6fb"/><stop offset="0.6601" stop-color="#11deee"/><stop offset="0.6809" stop-color="#13daec"/><stop offset="0.9988" stop-color="#3694ca"/></linearGradient>
<linearGradient id="g85" x1="0" x2="1" y1="0" y2="0"><stop offset="0.0012" stop-color="#0074ba"/><stop offset="0.3859" stop-color="#00e0f0"/><stop offset="0.4021" stop-color="#00e8f4"/><stop offset="0.4320" stop-color="#00f2f8"/><stop offset="0.5012" stop-color="#00ffff"/><stop offset="0.6094" stop-color="#01fdfe"/><stop offset="0.6256" stop-color="#04f7fb"/><stop offset="0.6532" stop-color="#07f2f8"/><stop offset="0.6601" stop-color="#11dcee"/><stop offset="0.9988" stop-color="#3792c9"/></linearGradient>
<linearGradient id="g86" x1="0" x2="1" y1="0" y2="0"><stop offset="0.0012" stop-color="#0076bb"/><stop offset="0.3836" stop-color="#00e1f0"/><stop offset="0.3952" stop-color="#00ebf5"/><stop offset="0.4320" stop-color="#00f5fa"/><stop offset="0.5035" stop-color="#00ffff"/><stop offset="0.6071" stop-color="#01fefe"/><stop offset="0.6164" stop-color="#06f3f9"/><stop offset="0.6532" stop-color="#09edf6"/><stop offset="0.6601" stop-color="#12dbed"/><stop offset="0.9988" stop-color="#3890c8"/></linearGradient>
<linearGradient id="g87" x1="0" x2="1" y1="0" y2="0"><stop offset="0.0012" stop-color="#0078bc"/><stop offset="0.3836" stop-color="#00e4f1"/><stop offset="0.3929" stop-color="#00eff7"/><stop offset="0.4620" stop-color="#00fdfe"/><stop offset="0.6071" stop-color="#01fdfe"/><stop offset="0.6164" stop-color="#09eef6"/><stop offset="0.6532" stop-color="#0ce7f3"/><stop offset="0.6624" stop-color="#13d8ec"/><stop offset="0.9988" stop-color="#398ec7"/></linearGradient>
<linearGradient id="g88" x1="0" x2="1" y1="0" y2="0"><stop offset="0.0012" stop-color="#007abd"/><stop offset="0.0311" stop-color="#0085c2"/><stop offset="0.3836" stop-color="#00e7f3"/><stop offset="0.3929" stop-color="#00f3f9"/><stop offset="0.4712" stop-color="#00feff"/><stop offset="0.6071" stop-color="#01fcfe"/><stop offset="0.6141" stop-color="#0beaf5"/><stop offset="0.6463" stop-color="#0ee3f1"/><stop offset="0.6555" stop-color="#10dfef"/><stop offset="0.6647" stop-color="#15d6ea"/><stop offset="0.9988" stop-color="#3a8cc6"/></linearGradient>
<linearGradient id="g89" x1="0" x2="1" y1="0" y2="0"><stop offset="0.0012" stop-color="#007cbe"/><stop offset="0.0288" stop-color="#0085c2"/><stop offset="0.0403" stop-color="#008ec6"/><stop offset="0.3836" stop-color="#00e9f4"/><stop offset="0.3929" stop-color="#00f7fb"/><stop offset="0.4827" stop-color="#00ffff"/><stop offset="0.6048" stop-color="#01fefe"/><stop offset="0.6094" stop-color="#05f5fa"/><stop offset="0.6141" stop-color="#0de5f2"/><stop offset="0.6348" stop-color="#10dfef"/><stop offset="0.6555" stop-color="#12daed"/><stop offset="0.6717" stop-color="#16d2e9"/><stop offset="0.9988" stop-color="#3b8ac5"/></linearGradient>
<linearGradient id="g90" x1="0" x2="1" y1="0" y2="0"><stop offset="0.0012" stop-color="#007dbe"/><stop offset="0.0265" stop-color="#0085c2"/><stop offset="0.0357" stop-color="#0092c9"/><stop offset="0.3836" stop-color="#00ecf6"/><stop offset="0.3929" stop-color="#00fafc"/><stop offset="0.5104" stop-color="#00ffff"/><stop offset="0.6048" stop-color="#01fdfe"/><stop offset="0.6094" stop-color="#06f3f9"/><stop offset="0.6141" stop-color="#0fe1f0"/><stop offset="0.6302" stop-color="#11dcee"/><stop offset="0.6578" stop-color="#15d5ea"/><stop offset="0.9988" stop-color="#3c88c4"/></linearGradient>
<linearGradient id="g91" x1="0" x2="1" y1="0" y2="0"><stop offset="0.0012" stop-color="#007ebf"/><stop offset="0.0265" stop-color="#0086c3"/><stop offset="0.0334" stop-color="#0097cb"/><stop offset="0.3836" stop-color="#00eff7"/><stop offset="0.3929" stop-color="#00fcfd"/><stop offset="0.5657" stop-color="#00feff"/><stop offset="0.6048" stop-color="#02fbfd"/><stop offset="0.6094" stop-color="#07f1f8"/><stop offset="0.6141" stop-color="#10dfef"/><stop offset="0.9021" stop-color="#329ccd"/><stop offset="0.9988" stop-color="#3d86c3"/></linearGradient>
<linearGradient id="g92" x1="0" x2="1" y1="0" y2="0"><stop offset="0.0012" stop-color="#007fbf"/><stop offset="0.0265" stop-color="#0087c3"/><stop offset="0.0334" stop-color="#009fcf"/><stop offset="0.0818" stop-color="#00add6"/><stop offset="0.3836" stop-color="#00f1f8"/><stop offset="0.3929" stop-color="#00fdfe"/><stop offset="0.5657" stop-color="#01fdfe"/><stop offset="0.6071" stop-color="#05f6fa"/><stop offset="0.6141" stop-color="#11ddee"/><stop offset="0.9988" stop-color="#3d85c2"/></linearGradient>
<linearGradient id="g93" x1="0" x2="1" y1="0" y2="0"><stop offset="0.0012" stop-color="#007fbf"/><stop offset="0.0242" stop-color="#0084c2"/><stop offset="0.0265" stop-color="#0088c4"/><stop offset="0.0334" stop-color="#00aad5"/><stop offset="0.0426" stop-color="#00b0d8"/><stop offset="0.3836" stop-color="#00f4f9"/><stop offset="0.3929" stop-color="#00fefe"/><stop offset="0.5634" stop-color="#00feff"/><stop offset="0.5749" stop-color="#04f6fb"/><stop offset="0.6071" stop-color="#07f1f8"/><stop offset="0.6141" stop-color="#12dced"/><stop offset="0.9988" stop-color="#3e83c1"/></linearGradient>
<linearGradient id="g94" x1="0" x2="1" y1="0" y2="0"><stop offset="0.0012" stop-color="#007fbf"/><stop offset="0.0242" stop-color="#0083c1"/><stop offset="0.0265" stop-color="#0088c4"/><stop offset="0.0288" stop-color="#0096cb"/><stop offset="0.0311" stop-color="#00a9d4"/><stop offset="0.0334" stop-color="#00b6db"/><stop offset="0.0380" stop-color="#00bcde"/><stop offset="0.3836" stop-color="#00f6fb"/><stop offset="0.3952" stop-color="#00feff"/><stop offset="0.5634" stop-color="#01fefe"/><stop offset="0.5726" stop-color="#07f2f8"/><stop offset="0.6071" stop-color="#09ecf6"/><stop offset="0.6141" stop-color="#12daed"/><stop offset="0.9988" stop-color="#3f82c1"/></linearGradient>
<linearGradient id="g95" x1="0" x2="1" y1="0" y2="0"><stop offset="0.0012" stop-color="#007ebf"/><stop offset="0.0242" stop-color="#0082c1"/><stop offset="0.0265" stop-color="#0089c4"/><stop offset="0.0288" stop-color="#009acd"/><stop offset="0.0311" stop-color="#00b2d9"/><stop offset="0.0334" stop-color="#00c3e1"/><stop offset="0.0380" stop-color="#00cbe5"/><stop offset="0.3859" stop-color="#00fafd"/><stop offset="0.4021" stop-color="#00ffff"/><stop offset="0.5634" stop-color="#01fdfe"/><stop offset="0.5726" stop-color="#09ecf6"/><stop offset="0.6071" stop-color="#0de6f3"/><stop offset="0.6164" stop-color="#14d6eb"/><stop offset="0.9988" stop-color="#3f81c0"/></linearGradient>
<linearGradient id="g96" x1="0" x2="1" y1="0" y2="0"><stop offset="0.0012" stop-color="#007ebf"/><stop offset="0.0242" stop-color="#0081c0"/><stop offset="0.0265" stop-color="#0089c4"/><stop offset="0.0288" stop-color="#009dce"/><stop offset="0.0311" stop-color="#00bbdd"/><stop offset="0.0334" stop-color="#00cfe7"/><stop offset="0.0357" stop-color="#00d7eb"/><stop offset="0.3882" stop-color="#00fdfe"/><stop offset="0.5634" stop-color="#01fdfe"/><stop offset="0.5703" stop-color="#0be9f4"/><stop offset="0.6071" stop-color="#0fe0f0"/><stop offset="0.6164" stop-color="#15d5ea"/><stop offset="0.9988" stop-color="#407fbf"/></linearGradient>
<linearGradient id="g97" x1="0" x2="1" y1="0" y2="0"><stop offset="0.0012" stop-color="#007dbe"/><stop offset="0.0242" stop-color="#0080c0"/><stop offset="0.0265" stop-color="#0089c4"/><stop offset="0.0288" stop-color="#00a1d0"/><stop offset="0.0311" stop-color="#00c2e1"/><stop offset="0.0334" stop-color="#00daed"/><stop offset="0.0357" stop-color="#00e2f1"/><stop offset="0.4274" stop-color="#00ffff"/><stop offset="0.5611" stop-color="#00feff"/><stop offset="0.5657" stop-color="#05f5fa"/><stop offset="0.5703" stop-color="#0de5f2"/><stop offset="0.5933" stop-color="#10deef"/><stop offset="0.6094" stop-color="#13d9ec"/><stop offset="0.6256" stop-color="#17d1e8"/><stop offset="0.9988" stop-color="#417ebf"/></linearGradient>
<linearGradient id="g98" x1="0" x2="1" y1="0" y2="0"><stop offset="0.0012" stop-color="#007dbe"/><stop offset="0.0242" stop-color="#0080c0"/><stop offset="0.0265" stop-color="#0089c4"/><stop offset="0.0288" stop-color="#00a3d1"/><stop offset="0.0311" stop-color="#00c8e4"/><stop offset="0.0334" stop-color="#00e2f1"/><stop offset="0.0357" stop-color="#00ebf5"/><stop offset="0.4435" stop-color="#00ffff"/><stop offset="0.5611" stop-color="#00feff"/><stop offset="0.5657" stop-color="#06f4fa"/><stop offset="0.5703" stop-color="#0fe1f0"/><stop offset="0.5887" stop-color="#12dbed"/><stop offset="0.7200" stop-color="#22badd"/><stop offset="0.9988" stop-color="#427cbe"/></linearGradient>
<linearGradient id="g99" x1="0" x2="1" y1="0" y2="0"><stop offset="0.0012" stop-color="#007dbe"/><stop offset="0.0242" stop-color="#0080c0"/><stop offset="0.0265" stop-color="#0089c4"/><stop offset="0.0288" stop-color="#00a5d2"/><stop offset="0.0311" stop-color="#00cce6"/><stop offset="0.0334" stop-color="#00e8f3"/><stop offset="0.0357" stop-color="#00f2f8"/><stop offset="0.4735" stop-color="#00ffff"/><stop offset="0.5611" stop-color="#01fefe"/><stop offset="0.5634" stop-color="#02fbfd"/><stop offset="0.5703" stop-color="#10dfef"/><stop offset="0.5910" stop-color="#14d8ec"/><stop offset="0.9988" stop-color="#437abd"/></linearGradient>
<linearGradient id="g100" x1="0" x2="1" y1="0" y2="0"><stop offset="0.0012" stop-color="#007dbe"/><stop offset="0.0242" stop-color="#0080c0"/><stop offset="0.0265" stop-color="#008ac5"/><stop offset="0.0288" stop-color="#00a6d3"/><stop offset="0.0311" stop-color="#00cfe7"/><stop offset="0.0334" stop-color="#00ecf5"/><stop offset="0.0357" stop-color="#00f6fa"/><stop offset="0.5173" stop-color="#00ffff"/><stop offset="0.5611" stop-color="#01fdfe"/><stop offset="0.5634" stop-color="#02fafd"/><stop offset="0.5703" stop-color="#11ddee"/><stop offset="0.5910" stop-color="#15d6ea"/><stop offset="0.9988" stop-color="#4379bc"/></linearGradient>
<linearGradient id="g101" x1="0" x2="1" y1="0" y2="0"><stop offset="0.0012" stop-color="#007ebf"/><stop offset="0.0242" stop-color="#0080c0"/><stop offset="0.0265" stop-color="#008ac5"/><stop offset="0.0288" stop-color="#00a8d3"/><stop offset="0.0311" stop-color="#00d1e8"/><stop offset="0.0334" stop-color="#00eef7"/><stop offset="0.0357" stop-color="#00f9fc"/><stop offset="0.5196" stop-color="#00feff"/><stop offset="0.5611" stop-color="#02fcfe"/><stop offset="0.5634" stop-color="#03f9fc"/><stop offset="0.5703" stop-color="#12dced"/><stop offset="0.5864" stop-color="#15d5ea"/><stop offset="0.9988" stop-color="#4477bb"/></linearGradient>
<linearGradient id="g102" x1="0" x2="1" y1="0" y2="0"><stop offset="0.0012" stop-color="#007ebf"/><stop offset="0.0242" stop-color="#0081c0"/><stop offset="0.0265" stop-color="#008bc5"/><stop offset="0.0288" stop-color="#00a9d4"/><stop offset="0.0311" stop-color="#00d2e9"/><stop offset="0.0334" stop-color="#00f0f7"/><stop offset="0.0357" stop-color="#00fafd"/><stop offset="0.5196" stop-color="#01fefe"/><stop offset="0.5611" stop-color="#03fafc"/><stop offset="0.5634" stop-color="#04f7fb"/><stop offset="0.5703" stop-color="#13daed"/><stop offset="0.5864" stop-color="#16d3e9"/><stop offset="0.9988" stop-color="#4576bb"/></linearGradient>
<linearGradient id="g103" x1="0" x2="1" y1="0" y2="0"><stop offset="0.0012" stop-color="#007fbf"/><stop offset="0.0242" stop-color="#0081c0"/><stop offset="0.0265" stop-color="#008cc6"/><stop offset="0.0288" stop-color="#00a9d4"/><stop offset="0.0311" stop-color="#00d3e9"/><stop offset="0.0334" stop-color="#00f1f8"/><stop offset="0.0357" stop-color="#00fbfd"/><stop offset="0.5173" stop-color="#01fefe"/><stop offset="0.5334" stop-color="#04f8fc"/><stop offset="0.5611" stop-color="#04f6fb"/><stop offset="0.5634" stop-color="#06f3f9"/><stop offset="0.5703" stop-color="#13d8ec"/><stop offset="0.5910" stop-color="#17d0e8"/><stop offset="0.9988" stop-color="#4674ba"/></linearGradient>
<linearGradient id="g104" x1="0" x2="1" y1="0" y2="0"><stop offset="0.0012" stop-color="#0080c0"/><stop offset="0.0242" stop-color="#0082c1"/><stop offset="0.0265" stop-color="#008cc6"/><stop offset="0.0288" stop-color="#00aad5"/><stop offset="0.0311" stop-color="#00d4ea"/><stop offset="0.0334" stop-color="#00f2f8"/><stop offset="0.0357" stop-color="#00fcfe"/><stop offset="0.5173" stop-color="#01fdfe"/><stop offset="0.5288" stop-color="#06f4f9"/><stop offset="0.5634" stop-color="#08eef7"/><stop offset="0.5703" stop-color="#14d6eb"/><stop offset="0.6187" stop-color="#1bc8e4"/><stop offset="0.9988" stop-color="#4772b9"/></linearGradient>
<linearGradient id="g105" x1="0" x2="1" y1="0" y2="0"><stop offset="0.0012" stop-color="#0081c0"/><stop offset="0.0242" stop-color="#0083c1"/><stop offset="0.0265" stop-color="#008dc6"/><stop offset="0.0288" stop-color="#00abd5"/><stop offset="0.0311" stop-color="#00d4ea"/><stop offset="0.0334" stop-color="#00f2f9"/><stop offset="0.0357" stop-color="#00fcfe"/><stop offset="0.5150" stop-color="#01fdfe"/><stop offset="0.5265" stop-color="#09eef7"/><stop offset="0.5634" stop-color="#0ce8f3"/><stop offset="0.5703" stop-color="#16d4ea"/><stop offset="0.9988" stop-color="#4771b8"/></linearGradient>
<linearGradient id="g106" x1="0" x2="1" y1="0" y2="0"><stop offset="0.0012" stop-color="#0081c0"/><stop offset="0.0242" stop-color="#0083c1"/><stop offset="0.0265" stop-color="#008ec7"/><stop offset="0.0288" stop-color="#00abd5"/><stop offset="0.0311" stop-color="#00d5ea"/><stop offset="0.0334" stop-color="#00f2f9"/><stop offset="0.0357" stop-color="#00fdfe"/><stop offset="0.4781" stop-color="#01fdfe"/><stop offset="0.5173" stop-color="#03f9fc"/><stop offset="0.5242" stop-color="#0be9f4"/><stop offset="0.5634" stop-color="#0fe0f0"/><stop offset="0.5726" stop-color="#18d0e8"/><stop offset="0.9988" stop-color="#486fb7"/></linearGradient>
<linearGradient id="g107" x1="0" x2="1" y1="0" y2="0"><stop offset="0.0012" stop-color="#0082c1"/><stop offset="0.0242" stop-color="#0084c2"/><stop offset="0.0265" stop-color="#008fc7"/><stop offset="0.0288" stop-color="#00acd6"/><stop offset="0.0311" stop-color="#00d5ea"/><stop offset="0.0334" stop-color="#00f2f9"/><stop offset="0.0357" stop-color="#00fdfe"/><stop offset="0.4758" stop-color="#01fdfe"/><stop offset="0.4988" stop-color="#03f8fc"/><stop offset="0.5173" stop-color="#05f5fa"/><stop offset="0.5242" stop-color="#0ee4f1"/><stop offset="0.5634" stop-color="#13daed"/><stop offset="0.5726" stop-color="#18cfe7"/><stop offset="0.9988" stop-color="#496eb7"/></linearGradient>
<linearGradient id="g108" x1="0" x2="1" y1="0" y2="0"><stop offset="0.0012" stop-color="#0083c1"/><stop offset="0.0242" stop-color="#0085c2"/><stop offset="0.0265" stop-color="#008fc7"/><stop offset="0.0288" stop-color="#00acd6"/><stop offset="0.0311" stop-color="#00d6ea"/><stop offset="0.0334" stop-color="#00f3f9"/><stop offset="0.0357" stop-color="#00fdfe"/><stop offset="0.4735" stop-color="#01fefe"/><stop offset="0.4850" stop-color="#05f5fa"/><stop offset="0.5173" stop-color="#07f0f8"/><stop offset="0.5242" stop-color="#10dfef"/><stop offset="0.5657" stop-color="#16d3e9"/><stop offset="0.5818" stop-color="#1acbe5"/><stop offset="0.9988" stop-color="#4a6cb6"/></linearGradient>
<linearGradient id="g109" x1="0" x2="1" y1="0" y2="0"><stop offset="0.0012" stop-color="#0084c2"/><stop offset="0.0242" stop-color="#0086c3"/><stop offset="0.0265" stop-color="#0090c8"/><stop offset="0.0288" stop-color="#00add6"/><stop offset="0.0311" stop-color="#00d6eb"/><stop offset="0.0334" stop-color="#00f3f9"/><stop offset="0.0357" stop-color="#00fdfe"/><stop offset="0.4735" stop-color="#01fdfe"/><stop offset="0.4827" stop-color="#08f0f7"/><stop offset="0.5173" stop-color="#0beaf5"/><stop offset="0.5265" stop-color="#13d9ec"/><stop offset="0.5680" stop-color="#19cee6"/><stop offset="0.9988" stop-color="#4a6bb5"/></linearGradient>
<linearGradient id="g110" x1="0" x2="1" y1="0" y2="0"><stop offset="0.0012" stop-color="#0085c2"/><stop offset="0.0242" stop-color="#0087c3"/><stop offset="0.0265" stop-color="#0091c8"/><stop offset="0.0288" stop-color="#00aed6"/><stop offset="0.0311" stop-color="#00d6eb"/><stop offset="0.0334" stop-color="#00f3f9"/><stop offset="0.0357" stop-color="#00fdfe"/><stop offset="0.4712" stop-color="#01fdfe"/><stop offset="0.4758" stop-color="#04f7fb"/><stop offset="0.4804" stop-color="#0aebf5"/><stop offset="0.5173" stop-color="#0ee4f1"/><stop offset="0.5265" stop-color="#14d7eb"/><stop offset="0.9988" stop-color="#4b69b4"/></linearGradient>
<linearGradient id="g111" x1="0" x2="1" y1="0" y2="0"><stop offset="0.0012" stop-color="#0086c3"/><stop offset="0.0242" stop-color="#0088c4"/><stop offset="0.0265" stop-color="#0092c9"/><stop offset="0.0288" stop-color="#00aed7"/><stop offset="0.0311" stop-color="#00d6eb"/><stop offset="0.0334" stop-color="#00f3f9"/><stop offset="0.0357" stop-color="#00fdfe"/><stop offset="0.4620" stop-color="#01fcfe"/><stop offset="0.4735" stop-color="#03fafc"/><stop offset="0.4804" stop-color="#0de6f2"/><stop offset="0.5196" stop-color="#12dbed"/><stop offset="0.5288" stop-color="#16d4e9"/><stop offset="0.9988" stop-color="#4c68b4"/></linearGradient>
<linearGradient id="g112" x1="0" x2="1" y1="0" y2="0"><stop offset="0.0012" stop-color="#0087c3"/><stop offset="0.0242" stop-color="#0088c4"/><stop offset="0.0265" stop-color="#0092c9"/><stop offset="0.0288" stop-color="#00afd7"/><stop offset="0.0311" stop-color="#00d7eb"/><stop offset="0.0334" stop-color="#00f3f9"/><stop offset="0.0357" stop-color="#00fdfe"/><stop offset="0.4320" stop-color="#01fdfe"/><stop offset="0.4735" stop-color="#04f7fb"/><stop offset="0.4804" stop-color="#0fe1f0"/><stop offset="0.5196" stop-color="#14d7eb"/><stop offset="0.5472" stop-color="#19cee6"/><stop offset="0.9988" stop-color="#4d66b3"/></linearGradient>
<linearGradient id="g113" x1="0" x2="1" y1="0" y2="0"><stop offset="0.0012" stop-color="#0087c3"/><stop offset="0.0242" stop-color="#0089c4"/><stop offset="0.0265" stop-color="#0093c9"/><stop offset="0.0288" stop-color="#00afd7"/><stop offset="0.0311" stop-color="#00d7eb"/><stop offset="0.0334" stop-color="#00f3f9"/><stop offset="0.0357" stop-color="#00fdfe"/><stop offset="0.4297" stop-color="#01fdfe"/><stop offset="0.4482" stop-color="#04f8fb"/><stop offset="0.4735" stop-color="#06f3f9"/><stop offset="0.4804" stop-color="#10deef"/><stop offset="0.9712" stop-color="#4a6bb5"/><stop offset="0.9988" stop-color="#4d65b2"/></linearGradient>
<linearGradient id="g114" x1="0" x2="1" y1="0" y2="0"><stop offset="0.0012" stop-color="#0088c4"/><stop offset="0.0242" stop-color="#008ac5"/><stop offset="0.0265" stop-color="#0094ca"/><stop offset="0.0288" stop-color="#00b0d8"/><stop offset="0.0311" stop-color="#00d7eb"/><stop offset="0.0334" stop-color="#00f3f9"/><stop offset="0.0357" stop-color="#00fdfe"/><stop offset="0.4274" stop-color="#01fefe"/><stop offset="0.4389" stop-color="#06f4f9"/><stop offset="0.4735" stop-color="#09eef7"/><stop offset="0.4804" stop-color="#11dcee"/><stop offset="0.9988" stop-color="#4e64b2"/></linearGradient>
<linearGradient id="g115" x1="0" x2="1" y1="0" y2="0"><stop offset="0.0012" stop-color="#0089c4"/><stop offset="0.0242" stop-color="#008bc5"/><stop offset="0.0265" stop-color="#0095ca"/><stop offset="0.0288" stop-color="#00b0d8"/><stop offset="0.0311" stop-color="#00d8eb"/><stop offset="0.0334" stop-color="#00f3f9"/><stop offset="0.0357" stop-color="#00fdfe"/><stop offset="0.4274" stop-color="#01fdfe"/><stop offset="0.4366" stop-color="#08eff7"/><stop offset="0.4735" stop-color="#0be8f4"/><stop offset="0.4827" stop-color="#13d9ec"/><stop offset="0.9988" stop-color="#4f62b1"/></linearGradient>
<linearGradient id="g116" x1="0" x2="1" y1="0" y2="0"><stop offset="0.0012" stop-color="#008ac5"/><stop offset="0.0242" stop-color="#008cc6"/><stop offset="0.0265" stop-color="#0096ca"/><stop offset="0.0288" stop-color="#00b1d8"/><stop offset="0.0311" stop-color="#00d8ec"/><stop offset="0.0334" stop-color="#00f3f9"/><stop offset="0.0357" stop-color="#00fdfe"/><stop offset="0.4274" stop-color="#01fcfe"/><stop offset="0.4343" stop-color="#0aecf5"/><stop offset="0.4689" stop-color="#0de4f2"/><stop offset="0.4758" stop-color="#10e0f0"/><stop offset="0.4850" stop-color="#14d7eb"/><stop offset="0.9988" stop-color="#4f61b0"/></linearGradient>
<linearGradient id="g117" x1="0" x2="1" y1="0" y2="0"><stop offset="0.0012" stop-color="#008bc5"/><stop offset="0.0242" stop-color="#008dc6"/><stop offset="0.0265" stop-color="#0096cb"/><stop offset="0.0288" stop-color="#00b2d8"/><stop offset="0.0311" stop-color="#00d8ec"/><stop offset="0.0334" stop-color="#00f4f9"/><stop offset="0.0357" stop-color="#00fdfe"/><stop offset="0.4251" stop-color="#01fdfe"/><stop offset="0.4297" stop-color="#05f6fa"/><stop offset="0.4343" stop-color="#0ce7f3"/><stop offset="0.4597" stop-color="#10e0ef"/><stop offset="0.4758" stop-color="#11dcee"/><stop offset="0.4896" stop-color="#15d5ea"/><stop offset="0.9988" stop-color="#5060b0"/></linearGradient>
<linearGradient id="g118" x1="0" x2="1" y1="0" y2="0"><stop offset="0.0012" stop-color="#008cc6"/><stop offset="0.0242" stop-color="#008ec7"/><stop offset="0.0265" stop-color="#0097cb"/><stop offset="0.0288" stop-color="#00b2d9"/><stop offset="0.0311" stop-color="#00d9ec"/><stop offset="0.0334" stop-color="#00f4f9"/><stop offset="0.0357" stop-color="#00fdfe"/><stop offset="0.4228" stop-color="#01fdfe"/><stop offset="0.4274" stop-color="#03fafc"/><stop offset="0.4343" stop-color="#0ee3f1"/><stop offset="0.4528" stop-color="#11ddee"/><stop offset="0.4758" stop-color="#13d9ec"/><stop offset="0.6256" stop-color="#26b4da"/><stop offset="0.9988" stop-color="#515eaf"/></linearGradient>
<linearGradient id="g119" x1="0" x2="1" y1="0" y2="0"><stop offset="0.0012" stop-color="#008dc6"/><stop offset="0.0242" stop-color="#008ec7"/><stop offset="0.0265" stop-color="#0098cc"/><stop offset="0.0288" stop-color="#00b3d9"/><stop offset="0.0311" stop-color="#00d9ec"/><stop offset="0.0334" stop-color="#00f4f9"/><stop offset="0.0357" stop-color="#00fdfe"/><stop offset="0.3882" stop-color="#01fdfe"/><stop offset="0.4274" stop-color="#04f8fb"/><stop offset="0.4343" stop-color="#10e0ef"/><stop offset="0.4528" stop-color="#12dbed"/><stop offset="0.9988" stop-color="#515dae"/></linearGradient>
<linearGradient id="g120" x1="0" x2="1" y1="0" y2="0"><stop offset="0.0012" stop-color="#008dc6"/><stop offset="0.0242" stop-color="#008fc7"/><stop offset="0.0265" stop-color="#0099cc"/><stop offset="0.0288" stop-color="#00b3d9"/><stop offset="0.0311" stop-color="#00d9ec"/><stop offset="0.0334" stop-color="#00f4f9"/><stop offset="0.0357" stop-color="#00fdfe"/><stop offset="0.3859" stop-color="#01fdfe"/><stop offset="0.4274" stop-color="#05f4fa"/><stop offset="0.4343" stop-color="#11ddee"/><stop offset="0.9988" stop-color="#525cae"/></linearGradient>
<linearGradient id="g121" x1="0" x2="1" y1="0" y2="0"><stop offset="0.0012" stop-color="#008ec7"/><stop offset="0.0242" stop-color="#0090c8"/><stop offset="0.0265" stop-color="#0099cc"/><stop offset="0.0288" stop-color="#00b4da"/><stop offset="0.0311" stop-color="#00d9ec"/><stop offset="0.0334" stop-color="#00f4f9"/><stop offset="0.0357" stop-color="#00fdfe"/><stop offset="0.3836" stop-color="#01fefe"/><stop offset="0.3952" stop-color="#05f6fa"/><stop offset="0.4274" stop-color="#08eff7"/><stop offset="0.4343" stop-color="#12dcee"/><stop offset="0.9988" stop-color="#535bad"/></linearGradient>
<linearGradient id="g122" x1="0" x2="1" y1="0" y2="0"><stop offset="0.0012" stop-color="#008fc7"/><stop offset="0.0242" stop-color="#0091c8"/><stop offset="0.0265" stop-color="#009acd"/><stop offset="0.0288" stop-color="#00b5da"/><stop offset="0.0311" stop-color="#00daec"/><stop offset="0.0334" stop-color="#00f4f9"/><stop offset="0.0357" stop-color="#00fdfe"/><stop offset="0.3836" stop-color="#01fdfe"/><stop offset="0.3929" stop-color="#07f1f8"/><stop offset="0.4274" stop-color="#0beaf4"/><stop offset="0.4343" stop-color="#12dbed"/><stop offset="0.9988" stop-color="#5359ac"/></linearGradient>
<linearGradient id="g123" x1="0" x2="1" y1="0" y2="0"><stop offset="0.0012" stop-color="#0090c8"/><stop offset="0.0242" stop-color="#0092c9"/><stop offset="0.0265" stop-color="#009bcd"/><stop offset="0.0288" stop-color="#00b5da"/><stop offset="0.0311" stop-color="#00daed"/><stop offset="0.0334" stop-color="#00f4fa"/><stop offset="0.0357" stop-color="#00fdfe"/><stop offset="0.3836" stop-color="#01fdfe"/><stop offset="0.3929" stop-color="#0aecf5"/><stop offset="0.4274" stop-color="#0de4f2"/><stop offset="0.4366" stop-color="#13d9ec"/><stop offset="0.9988" stop-color="#5458ac"/></linearGradient>
<linearGradient id="g124" x1="0" x2="1" y1="0" y2="0"><stop offset="0.0012" stop-color="#0091c8"/><stop offset="0.0242" stop-color="#0093c9"/><stop offset="0.0265" stop-color="#009cce"/><stop offset="0.0288" stop-color="#00b6da"/><stop offset="0.0311" stop-color="#00daed"/><stop offset="0.0334" stop-color="#00f4fa"/><stop offset="0.0357" stop-color="#00fdfe"/><stop offset="0.3813" stop-color="#01fdfe"/><stop offset="0.3859" stop-color="#04f6fb"/><stop offset="0.3906" stop-color="#0be9f4"/><stop offset="0.4159" stop-color="#0fe1f0"/><stop offset="0.4297" stop-color="#11deef"/><stop offset="0.4435" stop-color="#14d7eb"/><stop offset="0.9988" stop-color="#5457ab"/></linearGradient>
<linearGradient id="g125" x1="0" x2="1" y1="0" y2="0"><stop offset="0.0012" stop-color="#0092c9"/><stop offset="0.0242" stop-color="#0094ca"/><stop offset="0.0265" stop-color="#009dce"/><stop offset="0.0288" stop-color="#00b6db"/><stop offset="0.0311" stop-color="#00dbed"/><stop offset="0.0334" stop-color="#00f4fa"/><stop offset="0.0357" stop-color="#00fdfe"/><stop offset="0.3721" stop-color="#01fcfe"/><stop offset="0.3836" stop-color="#03fafc"/><stop offset="0.3906" stop-color="#0de4f2"/><stop offset="0.4113" stop-color="#11deee"/><stop offset="0.4320" stop-color="#13daec"/><stop offset="0.9988" stop-color="#5556ab"/></linearGradient>
<linearGradient id="g126" x1="0" x2="1" y1="0" y2="0"><stop offset="0.0012" stop-color="#0093c9"/><stop offset="0.0242" stop-color="#0094ca"/><stop offset="0.0265" stop-color="#009dce"/><stop offset="0.0288" stop-color="#00b7db"/><stop offset="0.0311" stop-color="#00dbed"/><stop offset="0.0334" stop-color="#00f4fa"/><stop offset="0.0357" stop-color="#00fdfe"/><stop offset="0.3422" stop-color="#01fdfe"/><stop offset="0.3836" stop-color="#04f7fb"/><stop offset="0.3906" stop-color="#0fe0f0"/><stop offset="0.4090" stop-color="#12dbed"/><stop offset="0.4343" stop-color="#14d7eb"/><stop offset="0.9988" stop-color="#5654aa"/></linearGradient>
<linearGradient id="g127" x1="0" x2="1" y1="0" y2="0"><stop offset="0.0012" stop-color="#0094ca"/><stop offset="0.0242" stop-color="#0095ca"/><stop offset="0.0265" stop-color="#009ecf"/><stop offset="0.0288" stop-color="#00b7db"/><stop offset="0.0311" stop-color="#00dbed"/><stop offset="0.0334" stop-color="#00f4fa"/><stop offset="0.0357" stop-color="#00fdfe"/><stop offset="0.3399" stop-color="#01fdfe"/><stop offset="0.3652" stop-color="#04f7fb"/><stop offset="0.3836" stop-color="#06f2f9"/><stop offset="0.3906" stop-color="#11deee"/><stop offset="0.4735" stop-color="#19cde6"/><stop offset="0.9988" stop-color="#5653a9"/></linearGradient>
<linearGradient id="g128" x1="0" x2="1" y1="0" y2="0"><stop offset="0.0012" stop-color="#0094ca"/><stop offset="0.0242" stop-color="#0096cb"/><stop offset="0.0265" stop-color="#009fcf"/><stop offset="0.0288" stop-color="#00b8dc"/><stop offset="0.0311" stop-color="#00dbed"/><stop offset="0.0334" stop-color="#00f4fa"/><stop offset="0.0357" stop-color="#00fdfe"/><stop offset="0.3376" stop-color="#00feff"/><stop offset="0.3491" stop-color="#05f5fa"/><stop offset="0.3836" stop-color="#09edf6"/><stop offset="0.3906" stop-color="#12dcee"/><stop offset="0.4758" stop-color="#1acbe5"/><stop offset="0.9988" stop-color="#5752a9"/></linearGradient>
<linearGradient id="g129" x1="0" x2="1" y1="0" y2="0"><stop offset="0.0012" stop-color="#0095ca"/><stop offset="0.0242" stop-color="#0097cb"/><stop offset="0.0265" stop-color="#00a0d0"/><stop offset="0.0288" stop-color="#00b9dc"/><stop offset="0.0311" stop-color="#00dced"/><stop offset="0.0334" stop-color="#00f5fa"/><stop offset="0.0357" stop-color="#00fdfe"/><stop offset="0.3376" stop-color="#01fefe"/><stop offset="0.3468" stop-color="#07f1f8"/><stop offset="0.3836" stop-color="#0ce7f3"/><stop offset="0.3929" stop-color="#13d9ec"/><stop offset="0.4459" stop-color="#17d1e8"/><stop offset="0.9988" stop-color="#5751a8"/></linearGradient>
<linearGradient id="g130" x1="0" x2="1" y1="0" y2="0"><stop offset="0.0012" stop-color="#0096cb"/><stop offset="0.0242" stop-color="#0098cc"/><stop offset="0.0265" stop-color="#00a1d0"/><stop offset="0.0288" stop-color="#00b9dc"/><stop offset="0.0311" stop-color="#00dcee"/><stop offset="0.0334" stop-color="#00f5fa"/><stop offset="0.0357" stop-color="#00fdfe"/><stop offset="0.3376" stop-color="#01fdfe"/><stop offset="0.3468" stop-color="#0aecf6"/><stop offset="0.3859" stop-color="#10e0ef"/><stop offset="0.3952" stop-color="#13d9ec"/><stop offset="0.5380" stop-color="#22badd"/><stop offset="0.9988" stop-color="#5850a8"/></linearGradient>
<linearGradient id="g131" x1="0" x2="1" y1="0" y2="0"><stop offset="0.0012" stop-color="#0097cb"/><stop offset="0.0242" stop-color="#0099cc"/><stop offset="0.0265" stop-color="#00a1d0"/><stop offset="0.0288" stop-color="#00badd"/><stop offset="0.0311" stop-color="#00dcee"/><stop offset="0.0334" stop-color="#00f5fa"/><stop offset="0.0357" stop-color="#00fdfe"/><stop offset="0.3376" stop-color="#01fdfe"/><stop offset="0.3445" stop-color="#0beaf4"/><stop offset="0.3698" stop-color="#10dfef"/><stop offset="0.3882" stop-color="#12dbed"/><stop offset="0.9988" stop-color="#594fa7"/></linearGradient>
<linearGradient id="g132" x1="0" x2="1" y1="0" y2="0"><stop offset="0.0012" stop-color="#0098cc"/><stop offset="0.0242" stop-color="#009acc"/><stop offset="0.0265" stop-color="#00a2d1"/><stop offset="0.0288" stop-color="#00badd"/><stop offset="0.0311" stop-color="#00ddee"/><stop offset="0.0334" stop-color="#00f5fa"/><stop offset="0.0357" stop-color="#00fdfe"/><stop offset="0.3353" stop-color="#00feff"/><stop offset="0.3399" stop-color="#05f6fa"/><stop offset="0.3445" stop-color="#0de6f2"/><stop offset="0.3629" stop-color="#11ddee"/><stop offset="0.4389" stop-color="#18cfe7"/><stop offset="0.9988" stop-color="#594da7"/></linearGradient>
<linearGradient id="g133" x1="0" x2="1" y1="0" y2="0"><stop offset="0.0012" stop-color="#0099cc"/><stop offset="0.0242" stop-color="#009acd"/><stop offset="0.0265" stop-color="#00a3d1"/><stop offset="0.0288" stop-color="#00bbdd"/><stop offset="0.0311" stop-color="#00ddee"/><stop offset="0.0334" stop-color="#00f5fa"/><stop offset="0.0357" stop-color="#00fdfe"/><stop offset="0.3353" stop-color="#01fefe"/><stop offset="0.3399" stop-color="#06f4fa"/><stop offset="0.3445" stop-color="#0fe2f1"/><stop offset="0.3583" stop-color="#12dbed"/><stop offset="0.4182" stop-color="#16d3e9"/><stop offset="0.9988" stop-color="#5a4ca6"/></linearGradient>
<linearGradient id="g134" x1="0" x2="1" y1="0" y2="0"><stop offset="0.0012" stop-color="#009acd"/><stop offset="0.0242" stop-color="#009bcd"/><stop offset="0.0265" stop-color="#00a4d2"/><stop offset="0.0288" stop-color="#00bbdd"/><stop offset="0.0311" stop-color="#00ddee"/><stop offset="0.0334" stop-color="#00f5fa"/><stop offset="0.0357" stop-color="#00fdfe"/><stop offset="0.3353" stop-color="#01fdfe"/><stop offset="0.3399" stop-color="#06f2f9"/><stop offset="0.3445" stop-color="#10dfef"/><stop offset="0.3583" stop-color="#13daed"/><stop offset="0.4090" stop-color="#15d4ea"/><stop offset="0.9988" stop-color="#5a4ba5"/></linearGradient>
<linearGradient id="g135" x1="0" x2="1" y1="0" y2="0"><stop offset="0.0012" stop-color="#009bcd"/><stop offset="0.0242" stop-color="#009cce"/><stop offset="0.0265" stop-color="#00a4d2"/><stop offset="0.0288" stop-color="#00bcde"/><stop offset="0.0311" stop-color="#00ddee"/><stop offset="0.0334" stop-color="#00f5fa"/><stop offset="0.0357" stop-color="#00fdfe"/><stop offset="0.3168" stop-color="#01fcfe"/><stop offset="0.3376" stop-color="#03f8fc"/><stop offset="0.3445" stop-color="#11deee"/><stop offset="0.3583" stop-color="#13d9ec"/><stop offset="0.4044" stop-color="#15d4ea"/><stop offset="0.9988" stop-color="#5b4aa5"/></linearGradient>
<linearGradient id="g136" x1="0" x2="1" y1="0" y2="0"><stop offset="0.0012" stop-color="#009bcd"/><stop offset="0.0242" stop-color="#009dce"/><stop offset="0.0265" stop-color="#00a5d2"/><stop offset="0.0288" stop-color="#00bdde"/><stop offset="0.0311" stop-color="#00deee"/><stop offset="0.0334" stop-color="#00f5fa"/><stop offset="0.0357" stop-color="#00fdfe"/><stop offset="0.2984" stop-color="#01fdfe"/><stop offset="0.3376" stop-color="#05f5fa"/><stop offset="0.3445" stop-color="#11ddee"/><stop offset="0.3629" stop-color="#13d9ec"/><stop offset="0.4136" stop-color="#17d1e8"/><stop offset="0.9988" stop-color="#5b49a4"/></linearGradient>
<linearGradient id="g137" x1="0" x2="1" y1="0" y2="0"><stop offset="0.0012" stop-color="#009cce"/><stop offset="0.0242" stop-color="#009ecf"/><stop offset="0.0265" stop-color="#00a6d3"/><stop offset="0.0288" stop-color="#00bdde"/><stop offset="0.0311" stop-color="#00deef"/><stop offset="0.0334" stop-color="#00f5fa"/><stop offset="0.0357" stop-color="#00fdfe"/><stop offset="0.2961" stop-color="#01fdfe"/><stop offset="0.3214" stop-color="#05f6fb"/><stop offset="0.3376" stop-color="#07f1f8"/><stop offset="0.3445" stop-color="#12dcee"/><stop offset="0.4274" stop-color="#19cde6"/><stop offset="0.9988" stop-color="#5c48a4"/></linearGradient>
<linearGradient id="g138" x1="0" x2="1" y1="0" y2="0"><stop offset="0.0012" stop-color="#009dce"/><stop offset="0.0242" stop-color="#009fcf"/><stop offset="0.0265" stop-color="#00a7d3"/><stop offset="0.0288" stop-color="#00bedf"/><stop offset="0.0311" stop-color="#00deef"/><stop offset="0.0334" stop-color="#00f5fa"/><stop offset="0.0357" stop-color="#00fdfe"/><stop offset="0.2938" stop-color="#00feff"/><stop offset="0.3053" stop-color="#05f4fa"/><stop offset="0.3376" stop-color="#09ecf6"/><stop offset="0.3445" stop-color="#12dbed"/><stop offset="0.4251" stop-color="#19cce6"/><stop offset="0.9988" stop-color="#5d47a3"/></linearGradient>
<linearGradient id="g139" x1="0" x2="1" y1="0" y2="0"><stop offset="0.0012" stop-color="#009ecf"/><stop offset="0.0242" stop-color="#00a0cf"/><stop offset="0.0265" stop-color="#00a8d3"/><stop offset="0.0288" stop-color="#00bedf"/><stop offset="0.0311" stop-color="#00dfef"/><stop offset="0.0334" stop-color="#00f5fa"/><stop offset="0.0357" stop-color="#00fdfe"/><stop offset="0.2938" stop-color="#01fefe"/><stop offset="0.3030" stop-color="#07f0f8"/><stop offset="0.3376" stop-color="#0ce7f3"/><stop offset="0.3468" stop-color="#13d9ec"/><stop offset="0.3998" stop-color="#17d1e8"/><stop offset="0.9988" stop-color="#5d46a3"/></linearGradient>
<linearGradient id="g140" x1="0" x2="1" y1="0" y2="0"><stop offset="0.0012" stop-color="#009fcf"/><stop offset="0.0242" stop-color="#00a0d0"/><stop offset="0.0265" stop-color="#00a8d4"/><stop offset="0.0288" stop-color="#00bfdf"/><stop offset="0.0311" stop-color="#00dfef"/><stop offset="0.0334" stop-color="#00f5fa"/><stop offset="0.0357" stop-color="#00fdfe"/><stop offset="0.2938" stop-color="#01fdfe"/><stop offset="0.3030" stop-color="#0aecf6"/><stop offset="0.3399" stop-color="#10dfef"/><stop offset="0.3491" stop-color="#13d9ec"/><stop offset="0.4182" stop-color="#1acce6"/><stop offset="0.9988" stop-color="#5e44a2"/></linearGradient>
<linearGradient id="g141" x1="0" x2="1" y1="0" y2="0"><stop offset="0.0012" stop-color="#00a0d0"/><stop offset="0.0242" stop-color="#00a1d0"/><stop offset="0.0265" stop-color="#00a9d4"/><stop offset="0.0288" stop-color="#00c0df"/><stop offset="0.0311" stop-color="#00dfef"/><stop offset="0.0334" stop-color="#00f6fa"/><stop offset="0.0357" stop-color="#00fdfe"/><stop offset="0.2938" stop-color="#01fdfe"/><stop offset="0.3007" stop-color="#0aebf5"/><stop offset="0.3306" stop-color="#10dfef"/><stop offset="0.3583" stop-color="#13d9ec"/><stop offset="0.9988" stop-color="#5e43a2"/></linearGradient>
<linearGradient id="g142" x1="0" x2="1" y1="0" y2="0"><stop offset="0.0012" stop-color="#00a1d0"/><stop offset="0.0242" stop-color="#00a2d1"/><stop offset="0.0265" stop-color="#00aad5"/><stop offset="0.0288" stop-color="#00c0e0"/><stop offset="0.0311" stop-color="#00e0ef"/><stop offset="0.0334" stop-color="#00f6fa"/><stop offset="0.0357" stop-color="#00fdfe"/><stop offset="0.2938" stop-color="#01fdfe"/><stop offset="0.3007" stop-color="#0ce8f4"/><stop offset="0.3260" stop-color="#11ddee"/><stop offset="0.5426" stop-color="#29add6"/><stop offset="0.9988" stop-color="#5f42a1"/></linearGradient>
<linearGradient id="g143" x1="0" x2="1" y1="0" y2="0"><stop offset="0.0012" stop-color="#00a2d0"/><stop offset="0.0242" stop-color="#00a3d1"/><stop offset="0.0265" stop-color="#00abd5"/><stop offset="0.0288" stop-color="#00c1e0"/><stop offset="0.0311" stop-color="#00e0ef"/><stop offset="0.0334" stop-color="#00f6fa"/><stop offset="0.0357" stop-color="#00fefe"/><stop offset="0.2915" stop-color="#00ffff"/><stop offset="0.2961" stop-color="#05f6fa"/><stop offset="0.3007" stop-color="#0de6f2"/><stop offset="0.3214" stop-color="#12dbed"/><stop offset="0.4021" stop-color="#19cde6"/><stop offset="0.9988" stop-color="#5f41a0"/></linearGradient>
<linearGradient id="g144" x1="0" x2="1" y1="0" y2="0"><stop offset="0.0012" stop-color="#00a2d1"/><stop offset="0.0242" stop-color="#00a4d2"/><stop offset="0.0265" stop-color="#00acd5"/><stop offset="0.0288" stop-color="#00c1e0"/><stop offset="0.0311" stop-color="#00e0f0"/><stop offset="0.0334" stop-color="#00f6fa"/><stop offset="0.0357" stop-color="#00fefe"/><stop offset="0.2915" stop-color="#00ffff"/><stop offset="0.2961" stop-color="#05f5fa"/><stop offset="0.3007" stop-color="#0ee4f1"/><stop offset="0.3168" stop-color="#12dbed"/><stop offset="0.3859" stop-color="#18d0e7"/><stop offset="0.9988" stop-color="#6040a0"/></linearGradient>
<linearGradient id="g145" x1="0" x2="1" y1="0" y2="0"><stop offset="0.0012" stop-color="#00a3d1"/><stop offset="0.0242" stop-color="#00a5d2"/><stop offset="0.0265" stop-color="#00acd6"/><stop offset="0.0288" stop-color="#00c2e1"/><stop offset="0.0311" stop-color="#00e0f0"/><stop offset="0.0334" stop-color="#00f6fa"/><stop offset="0.0357" stop-color="#00fefe"/><stop offset="0.2915" stop-color="#00feff"/><stop offset="0.2961" stop-color="#05f5fa"/><stop offset="0.3007" stop-color="#0fe2f1"/><stop offset="0.3145" stop-color="#12daed"/><stop offset="0.3744" stop-color="#17d2e8"/><stop offset="0.9988" stop-color="#603f9f"/></linearGradient>
<linearGradient id="g146" x1="0" x2="1" y1="0" y2="0"><stop offset="0.0012" stop-color="#00a4d2"/><stop offset="0.0242" stop-color="#00a6d2"/><stop offset="0.0265" stop-color="#00add6"/><stop offset="0.0288" stop-color="#00c2e1"/><stop offset="0.0311" stop-color="#00e1f0"/><stop offset="0.0334" stop-color="#00f6fb"/><stop offset="0.0357" stop-color="#00fefe"/><stop offset="0.2915" stop-color="#00feff"/><stop offset="0.2938" stop-color="#02fcfd"/><stop offset="0.3007" stop-color="#0fe1f0"/><stop offset="0.3122" stop-color="#13daed"/><stop offset="0.3675" stop-color="#16d2e9"/><stop offset="0.9988" stop-color="#613e9f"/></linearGradient>
<linearGradient id="g147" x1="0" x2="1" y1="0" y2="0"><stop offset="0.0012" stop-color="#00a5d2"/><stop offset="0.0242" stop-color="#00a6d3"/><stop offset="0.0265" stop-color="#00aed7"/><stop offset="0.0288" stop-color="#00c3e1"/><stop offset="0.0311" stop-color="#00e1f0"/><stop offset="0.0334" stop-color="#00f6fb"/><stop offset="0.0357" stop-color="#00fefe"/><stop offset="0.2915" stop-color="#00feff"/><stop offset="0.2938" stop-color="#02fbfd"/><stop offset="0.3007" stop-color="#10dfef"/><stop offset="0.3122" stop-color="#13daec"/><stop offset="0.3652" stop-color="#17d2e8"/><stop offset="0.9988" stop-color="#613d9e"/></linearGradient>
<linearGradient id="g148" x1="0" x2="1" y1="0" y2="0"><stop offset="0.0012" stop-color="#00a6d3"/><stop offset="0.0242" stop-color="#00a7d3"/><stop offset="0.0265" stop-color="#00afd7"/><stop offset="0.0288" stop-color="#00c4e1"/><stop offset="0.0311" stop-color="#00e1f0"/><stop offset="0.0334" stop-color="#00f6fb"/><stop offset="0.0357" stop-color="#00fefe"/><stop offset="0.2915" stop-color="#00feff"/><stop offset="0.2938" stop-color="#02fbfd"/><stop offset="0.3007" stop-color="#10deef"/><stop offset="0.3122" stop-color="#13d9ec"/><stop offset="0.3675" stop-color="#17d0e8"/><stop offset="0.9988" stop-color="#623c9e"/></linearGradient>
<linearGradient id="g149" x1="0" x2="1" y1="0" y2="0"><stop offset="0.0012" stop-color="#00a7d3"/><stop offset="0.0242" stop-color="#00a8d4"/><stop offset="0.0265" stop-color="#00afd7"/><stop offset="0.0288" stop-color="#00c4e2"/><stop offset="0.0311" stop-color="#00e2f0"/><stop offset="0.0334" stop-color="#00f6fb"/><stop offset="0.0357" stop-color="#00fefe"/><stop offset="0.2915" stop-color="#01fefe"/><stop offset="0.2938" stop-color="#02fbfd"/><stop offset="0.3007" stop-color="#11deee"/><stop offset="0.3122" stop-color="#13d9ec"/><stop offset="0.3859" stop-color="#1acbe5"/><stop offset="0.9988" stop-color="#623b9d"/></linearGradient>
<linearGradient id="g150" x1="0" x2="1" y1="0" y2="0"><stop offset="0.0012" stop-color="#00a8d3"/><stop offset="0.0242" stop-color="#00a9d4"/><stop offset="0.0265" stop-color="#00b0d8"/><stop offset="0.0288" stop-color="#00c5e2"/><stop offset="0.0311" stop-color="#00e2f0"/><stop offset="0.0334" stop-color="#00f6fb"/><stop offset="0.0357" stop-color="#00fefe"/><stop offset="0.2915" stop-color="#01fdfe"/><stop offset="0.2938" stop-color="#03fafc"/><stop offset="0.3007" stop-color="#11ddee"/><stop offset="0.3145" stop-color="#13d9ec"/><stop offset="0.9988" stop-color="#633a9d"/></linearGradient>
<linearGradient id="g151" x1="0" x2="1" y1="0" y2="0"><stop offset="0.0012" stop-color="#00a8d4"/><stop offset="0.0242" stop-color="#00aad5"/><stop offset="0.0265" stop-color="#00b1d8"/><stop offset="0.0288" stop-color="#00c5e2"/><stop offset="0.0311" stop-color="#00e2f1"/><stop offset="0.0334" stop-color="#00f6fb"/><stop offset="0.0357" stop-color="#00fefe"/><stop offset="0.2869" stop-color="#01fcfe"/><stop offset="0.2938" stop-color="#03f9fc"/><stop offset="0.3007" stop-color="#11ddee"/><stop offset="0.3145" stop-color="#13d9ec"/><stop offset="0.9988" stop-color="#63399c"/></linearGradient>
<linearGradient id="g152" x1="0" x2="1" y1="0" y2="0"><stop offset="0.0012" stop-color="#00a9d4"/><stop offset="0.0242" stop-color="#00abd5"/><stop offset="0.0265" stop-color="#00b2d9"/><stop offset="0.0288" stop-color="#00c6e3"/><stop offset="0.0311" stop-color="#00e2f1"/><stop offset="0.0334" stop-color="#00f7fb"/><stop offset="0.0357" stop-color="#00fefe"/><stop offset="0.2523" stop-color="#01fdfe"/><stop offset="0.2915" stop-color="#03f9fc"/><stop offset="0.2961" stop-color="#08eff7"/><stop offset="0.3007" stop-color="#11dcee"/><stop offset="0.9988" stop-color="#64389c"/></linearGradient>
<linearGradient id="g153" x1="0" x2="1" y1="0" y2="0"><stop offset="0.0012" stop-color="#00aad5"/><stop offset="0.0242" stop-color="#00acd5"/><stop offset="0.0265" stop-color="#00b3d9"/><stop offset="0.0288" stop-color="#00c7e3"/><stop offset="0.0311" stop-color="#00e3f1"/><stop offset="0.0334" stop-color="#00f7fb"/><stop offset="0.0357" stop-color="#00fefe"/><stop offset="0.2500" stop-color="#01fdfe"/><stop offset="0.2730" stop-color="#04f7fb"/><stop offset="0.2938" stop-color="#06f3f9"/><stop offset="0.3007" stop-color="#12dced"/><stop offset="0.9988" stop-color="#64379b"/></linearGradient>
<linearGradient id="g154" x1="0" x2="1" y1="0" y2="0"><stop offset="0.0012" stop-color="#00abd5"/><stop offset="0.0242" stop-color="#00acd6"/><stop offset="0.0265" stop-color="#00b3d9"/><stop offset="0.0288" stop-color="#00c7e3"/><stop offset="0.0311" stop-color="#00e3f1"/><stop offset="0.0334" stop-color="#00f7fb"/><stop offset="0.0357" stop-color="#00fefe"/><stop offset="0.2477" stop-color="#00feff"/><stop offset="0.2592" stop-color="#05f5fa"/><stop offset="0.2938" stop-color="#08eef7"/><stop offset="0.3007" stop-color="#12dbed"/><stop offset="0.9988" stop-color="#65369b"/></linearGradient>
<linearGradient id="g155" x1="0" x2="1" y1="0" y2="0"><stop offset="0.0012" stop-color="#00acd6"/><stop offset="0.0242" stop-color="#00add6"/><stop offset="0.0265" stop-color="#00b4da"/><stop offset="0.0288" stop-color="#00c8e3"/><stop offset="0.0311" stop-color="#00e3f1"/><stop offset="0.0334" stop-color="#00f7fb"/><stop offset="0.0357" stop-color="#00fefe"/><stop offset="0.2477" stop-color="#01fefe"/><stop offset="0.2569" stop-color="#07f0f8"/><stop offset="0.2938" stop-color="#0be9f4"/><stop offset="0.3030" stop-color="#13d9ec"/><stop offset="0.9988" stop-color="#65359a"/></linearGradient>
<linearGradient id="g156" x1="0" x2="1" y1="0" y2="0"><stop offset="0.0012" stop-color="#00add6"/><stop offset="0.0242" stop-color="#00aed7"/><stop offset="0.0265" stop-color="#00b5da"/><stop offset="0.0288" stop-color="#00c8e4"/><stop offset="0.0311" stop-color="#00e4f1"/><stop offset="0.0334" stop-color="#00f7fb"/><stop offset="0.0357" stop-color="#00fefe"/><stop offset="0.2477" stop-color="#01fdfe"/><stop offset="0.2569" stop-color="#0aebf5"/><stop offset="0.2938" stop-color="#0ee4f1"/><stop offset="0.3030" stop-color="#13d8ec"/><stop offset="0.9988" stop-color="#66349a"/></linearGradient>
<linearGradient id="g157" x1="0" x2="1" y1="0" y2="0"><stop offset="0.0012" stop-color="#00aed6"/><stop offset="0.0242" stop-color="#00afd7"/><stop offset="0.0265" stop-color="#00b6db"/><stop offset="0.0288" stop-color="#00c9e4"/><stop offset="0.0311" stop-color="#00e4f1"/><stop offset="0.0334" stop-color="#00f7fb"/><stop offset="0.0357" stop-color="#00fefe"/><stop offset="0.2477" stop-color="#01fdfe"/><stop offset="0.2546" stop-color="#0beaf4"/><stop offset="0.2869" stop-color="#0fe0f0"/><stop offset="0.2984" stop-color="#12dbed"/><stop offset="0.9988" stop-color="#663399"/></linearGradient>
<linearGradient id="g158" x1="0" x2="1" y1="0" y2="0"><stop offset="0.0012" stop-color="#00afd7"/><stop offset="0.0242" stop-color="#00b0d8"/><stop offset="0.0265" stop-color="#00b7db"/><stop offset="0.0288" stop-color="#00c9e4"/><stop offset="0.0311" stop-color="#00e4f2"/><stop offset="0.0334" stop-color="#00f7fb"/><stop offset="0.0357" stop-color="#00fefe"/><stop offset="0.2454" stop-color="#00ffff"/><stop offset="0.2500" stop-color="#04f6fb"/><stop offset="0.2546" stop-color="#0ce6f3"/><stop offset="0.2800" stop-color="#11ddee"/><stop offset="0.2984" stop-color="#13d9ec"/><stop offset="0.9988" stop-color="#673299"/></linearGradient>
<linearGradient id="g159" x1="0" x2="1" y1="0" y2="0"><stop offset="0.0012" stop-color="#00afd7"/><stop offset="0.0242" stop-color="#00b1d8"/><stop offset="0.0265" stop-color="#00b7db"/><stop offset="0.0288" stop-color="#00cae5"/><stop offset="0.0311" stop-color="#00e4f2"/><stop offset="0.0334" stop-color="#00f7fb"/><stop offset="0.0357" stop-color="#00fefe"/><stop offset="0.2454" stop-color="#00ffff"/><stop offset="0.2500" stop-color="#05f5fa"/><stop offset="0.2546" stop-color="#0ee4f2"/><stop offset="0.2730" stop-color="#12dcee"/><stop offset="0.3053" stop-color="#15d5ea"/><stop offset="0.9988" stop-color="#673198"/></linearGradient>
<linearGradient id="g160" x1="0" x2="1" y1="0" y2="0"><stop offset="0.0012" stop-color="#00b0d8"/><stop offset="0.0242" stop-color="#00b2d8"/><stop offset="0.0265" stop-color="#00b8dc"/><stop offset="0.0288" stop-color="#00cbe5"/><stop offset="0.0311" stop-color="#00e5f2"/><stop offset="0.0334" stop-color="#00f7fb"/><stop offset="0.0357" stop-color="#00fefe"/><stop offset="0.2454" stop-color="#00feff"/><stop offset="0.2500" stop-color="#05f5fa"/><stop offset="0.2546" stop-color="#0ee2f1"/><stop offset="0.2707" stop-color="#12dbed"/><stop offset="0.3675" stop-color="#1dc5e2"/><stop offset="0.9988" stop-color="#683098"/></linearGradient>
<linearGradient id="g161" x1="0" x2="1" y1="0" y2="0"><stop offset="0.0012" stop-color="#00b1d8"/><stop offset="0.0242" stop-color="#00b2d9"/><stop offset="0.0265" stop-color="#00b9dc"/><stop offset="0.0288" stop-color="#00cbe5"/><stop offset="0.0311" stop-color="#00e5f2"/><stop offset="0.0334" stop-color="#00f7fb"/><stop offset="0.0357" stop-color="#00fefe"/><stop offset="0.2454" stop-color="#00feff"/><stop offset="0.2477" stop-color="#02fcfd"/><stop offset="0.2546" stop-color="#0fe1f0"/><stop offset="0.2684" stop-color="#13daed"/><stop offset="0.5472" stop-color="#339acd"/><stop offset="0.9988" stop-color="#682f97"/></linearGradient>
<linearGradient id="g162" x1="0" x2="1" y1="0" y2="0"><stop offset="0.0012" stop-color="#00b2d9"/><stop offset="0.0242" stop-color="#00b3d9"/><stop offset="0.0265" stop-color="#00badc"/><stop offset="0.0288" stop-color="#00cce5"/><stop offset="0.0311" stop-color="#00e5f2"/><stop offset="0.0334" stop-color="#00f7fb"/><stop offset="0.0357" stop-color="#00fefe"/><stop offset="0.2454" stop-color="#00feff"/><stop offset="0.2477" stop-color="#02fcfd"/><stop offset="0.2546" stop-color="#10e0ef"/><stop offset="0.2661" stop-color="#13daec"/><stop offset="0.9988" stop-color="#692e97"/></linearGradient>
<linearGradient id="g163" x1="0" x2="1" y1="0" y2="0"><stop offset="0.0012" stop-color="#00b3d9"/><stop offset="0.0242" stop-color="#00b4da"/><stop offset="0.0265" stop-color="#00badd"/><stop offset="0.0288" stop-color="#00cce6"/><stop offset="0.0311" stop-color="#00e6f2"/><stop offset="0.0334" stop-color="#00f7fb"/><stop offset="0.0357" stop-color="#00fefe"/><stop offset="0.2454" stop-color="#00feff"/><stop offset="0.2477" stop-color="#02fbfd"/><stop offset="0.2546" stop-color="#10dfef"/><stop offset="0.2661" stop-color="#13d9ec"/><stop offset="0.9988" stop-color="#692d96"/></linearGradient>
<linearGradient id="g164" x1="0" x2="1" y1="0" y2="0"><stop offset="0.0012" stop-color="#00b4da"/><stop offset="0.0242" stop-color="#00b5da"/><stop offset="0.0265" stop-color="#00bbdd"/><stop offset="0.0288" stop-color="#00cde6"/><stop offset="0.0311" stop-color="#00e6f2"/><stop offset="0.0334" stop-color="#00f8fb"/><stop offset="0.0357" stop-color="#00fefe"/><stop offset="0.2454" stop-color="#00feff"/><stop offset="0.2477" stop-color="#02fbfd"/><stop offset="0.2546" stop-color="#11deef"/><stop offset="0.2661" stop-color="#13d9ec"/><stop offset="0.9988" stop-color="#6a2c96"/></linearGradient>
<linearGradient id="g165" x1="0" x2="1" y1="0" y2="0"><stop offset="0.0012" stop-color="#00b5da"/><stop offset="0.0242" stop-color="#00b6db"/><stop offset="0.0265" stop-color="#00bcde"/><stop offset="0.0288" stop-color="#00cde6"/><stop offset="0.0311" stop-color="#00e6f3"/><stop offset="0.0334" stop-color="#00f8fb"/><stop offset="0.0357" stop-color="#00fefe"/><stop offset="0.2454" stop-color="#01fefe"/><stop offset="0.2477" stop-color="#02fbfd"/><stop offset="0.2546" stop-color="#11ddee"/><stop offset="0.2684" stop-color="#13d9ec"/><stop offset="0.9988" stop-color="#6a2b96"/></linearGradient>
<linearGradient id="g166" x1="0" x2="1" y1="0" y2="0"><stop offset="0.0012" stop-color="#00b6da"/><stop offset="0.0242" stop-color="#00b7db"/><stop offset="0.0265" stop-color="#00bdde"/><stop offset="0.0288" stop-color="#00cee7"/><stop offset="0.0311" stop-color="#00e6f3"/><stop offset="0.0334" stop-color="#00f8fb"/><stop offset="0.0357" stop-color="#00fefe"/><stop offset="0.2454" stop-color="#01fdfe"/><stop offset="0.2477" stop-color="#02fafd"/><stop offset="0.2546" stop-color="#11ddee"/><stop offset="0.2800" stop-color="#15d5ea"/><stop offset="0.9988" stop-color="#6b2a95"/></linearGradient>
<linearGradient id="g167" x1="0" x2="1" y1="0" y2="0"><stop offset="0.0012" stop-color="#00b6db"/><stop offset="0.0242" stop-color="#00b8db"/><stop offset="0.0265" stop-color="#00bede"/><stop offset="0.0288" stop-color="#00cfe7"/><stop offset="0.0311" stop-color="#00e7f3"/><stop offset="0.0334" stop-color="#00f8fb"/><stop offset="0.0380" stop-color="#00ffff"/><stop offset="0.2454" stop-color="#02fcfd"/><stop offset="0.2477" stop-color="#03f9fc"/><stop offset="0.2546" stop-color="#11ddee"/><stop offset="0.3306" stop-color="#1bc8e4"/><stop offset="0.9988" stop-color="#6b2995"/></linearGradient>
<linearGradient id="g168" x1="0" x2="1" y1="0" y2="0"><stop offset="0.0012" stop-color="#00b7db"/><stop offset="0.0242" stop-color="#00b8dc"/><stop offset="0.0265" stop-color="#00bedf"/><stop offset="0.0288" stop-color="#00cfe7"/><stop offset="0.0311" stop-color="#00e7f3"/><stop offset="0.0334" stop-color="#00f8fb"/><stop offset="0.0380" stop-color="#00ffff"/><stop offset="0.2085" stop-color="#01fdfe"/><stop offset="0.2454" stop-color="#03fafc"/><stop offset="0.2477" stop-color="#04f7fb"/><stop offset="0.2546" stop-color="#12dcee"/><stop offset="0.3721" stop-color="#21bede"/><stop offset="0.9988" stop-color="#6c2894"/></linearGradient>
<linearGradient id="g169" x1="0" x2="1" y1="0" y2="0"><stop offset="0.0012" stop-color="#00b8dc"/><stop offset="0.0242" stop-color="#00b9dc"/><stop offset="0.0265" stop-color="#00bfdf"/><stop offset="0.0288" stop-color="#00d0e7"/><stop offset="0.0311" stop-color="#00e7f3"/><stop offset="0.0334" stop-color="#00f8fc"/><stop offset="0.0380" stop-color="#00ffff"/><stop offset="0.2062" stop-color="#01fdfe"/><stop offset="0.2270" stop-color="#04f8fb"/><stop offset="0.2477" stop-color="#06f4f9"/><stop offset="0.2546" stop-color="#12dbed"/><stop offset="0.3813" stop-color="#22bbdd"/><stop offset="0.9988" stop-color="#6c2894"/></linearGradient>
<linearGradient id="g170" x1="0" x2="1" y1="0" y2="0"><stop offset="0.0012" stop-color="#00b9dc"/><stop offset="0.0242" stop-color="#00badd"/><stop offset="0.0265" stop-color="#00c0e0"/><stop offset="0.0288" stop-color="#00d0e8"/><stop offset="0.0311" stop-color="#00e8f3"/><stop offset="0.0334" stop-color="#00f8fc"/><stop offset="0.0380" stop-color="#00ffff"/><stop offset="0.2039" stop-color="#00feff"/><stop offset="0.2154" stop-color="#05f5fa"/><stop offset="0.2477" stop-color="#08eff7"/><stop offset="0.2546" stop-color="#12daed"/><stop offset="0.9988" stop-color="#6d2793"/></linearGradient>
<linearGradient id="g171" x1="0" x2="1" y1="0" y2="0"><stop offset="0.0012" stop-color="#00badd"/><stop offset="0.0242" stop-color="#00bbdd"/><stop offset="0.0265" stop-color="#00c1e0"/><stop offset="0.0288" stop-color="#00d1e8"/><stop offset="0.0311" stop-color="#00e8f4"/><stop offset="0.0334" stop-color="#00f8fc"/><stop offset="0.0380" stop-color="#00ffff"/><stop offset="0.2039" stop-color="#01fefe"/><stop offset="0.2131" stop-color="#08f0f7"/><stop offset="0.2477" stop-color="#0beaf4"/><stop offset="0.2546" stop-color="#13d9ec"/><stop offset="0.9988" stop-color="#6d2693"/></linearGradient>
<linearGradient id="g172" x1="0" x2="1" y1="0" y2="0"><stop offset="0.0012" stop-color="#00bbdd"/><stop offset="0.0242" stop-color="#00bcde"/><stop offset="0.0265" stop-color="#00c1e0"/><stop offset="0.0288" stop-color="#00d2e8"/><stop offset="0.0311" stop-color="#00e8f4"/><stop offset="0.0334" stop-color="#00f8fc"/><stop offset="0.0380" stop-color="#00ffff"/><stop offset="0.2039" stop-color="#01fdfe"/><stop offset="0.2108" stop-color="#09edf6"/><stop offset="0.2477" stop-color="#0ee4f2"/><stop offset="0.2569" stop-color="#14d6eb"/><stop offset="0.9988" stop-color="#6d2592"/></linearGradient>
<linearGradient id="g173" x1="0" x2="1" y1="0" y2="0"><stop offset="0.0012" stop-color="#00bcdd"/><stop offset="0.0242" stop-color="#00bdde"/><stop offset="0.0265" stop-color="#00c2e1"/><stop offset="0.0288" stop-color="#00d2e9"/><stop offset="0.0311" stop-color="#00e9f4"/><stop offset="0.0334" stop-color="#00f8fc"/><stop offset="0.0380" stop-color="#00ffff"/><stop offset="0.2039" stop-color="#01fdfe"/><stop offset="0.2108" stop-color="#0be9f4"/><stop offset="0.2500" stop-color="#11dcee"/><stop offset="0.2592" stop-color="#15d5ea"/><stop offset="0.9988" stop-color="#6e2492"/></linearGradient>
<linearGradient id="g174" x1="0" x2="1" y1="0" y2="0"><stop offset="0.0012" stop-color="#00bcde"/><stop offset="0.0242" stop-color="#00bede"/><stop offset="0.0265" stop-color="#00c3e1"/><stop offset="0.0288" stop-color="#00d3e9"/><stop offset="0.0311" stop-color="#00e9f4"/><stop offset="0.0334" stop-color="#00f8fc"/><stop offset="0.0380" stop-color="#00ffff"/><stop offset="0.2016" stop-color="#00ffff"/><stop offset="0.2062" stop-color="#05f6fa"/><stop offset="0.2108" stop-color="#0de5f2"/><stop offset="0.2339" stop-color="#11deee"/><stop offset="0.2523" stop-color="#14d7eb"/><stop offset="0.9988" stop-color="#6e2391"/></linearGradient>
<linearGradient id="g175" x1="0" x2="1" y1="0" y2="0"><stop offset="0.0012" stop-color="#00bdde"/><stop offset="0.0242" stop-color="#00bedf"/><stop offset="0.0265" stop-color="#00c4e2"/><stop offset="0.0288" stop-color="#00d3e9"/><stop offset="0.0311" stop-color="#00e9f4"/><stop offset="0.0334" stop-color="#00f9fc"/><stop offset="0.0380" stop-color="#00ffff"/><stop offset="0.2016" stop-color="#00ffff"/><stop offset="0.2062" stop-color="#05f5fa"/><stop offset="0.2108" stop-color="#0ee3f1"/><stop offset="0.2293" stop-color="#12dced"/><stop offset="0.9988" stop-color="#6f2291"/></linearGradient>
<linearGradient id="g176" x1="0" x2="1" y1="0" y2="0"><stop offset="0.0012" stop-color="#00bedf"/><stop offset="0.0242" stop-color="#00bfdf"/><stop offset="0.0265" stop-color="#00c5e2"/><stop offset="0.0288" stop-color="#00d4ea"/><stop offset="0.0311" stop-color="#00e9f4"/><stop offset="0.0334" stop-color="#00f9fc"/><stop offset="0.0380" stop-color="#00ffff"/><stop offset="0.2016" stop-color="#00feff"/><stop offset="0.2062" stop-color="#05f4fa"/><stop offset="0.2108" stop-color="#0fe1f0"/><stop offset="0.2247" stop-color="#12dbed"/><stop offset="0.9988" stop-color="#6f2191"/></linearGradient>
<linearGradient id="g177" x1="0" x2="1" y1="0" y2="0"><stop offset="0.0012" stop-color="#00bfdf"/><stop offset="0.0242" stop-color="#00c0e0"/><stop offset="0.0265" stop-color="#00c5e2"/><stop offset="0.0288" stop-color="#00d4ea"/><stop offset="0.0311" stop-color="#00eaf4"/><stop offset="0.0334" stop-color="#00f9fc"/><stop offset="0.0380" stop-color="#00ffff"/><stop offset="0.2016" stop-color="#00feff"/><stop offset="0.2039" stop-color="#02fcfd"/><stop offset="0.2108" stop-color="#10e0ef"/><stop offset="0.2247" stop-color="#13daec"/><stop offset="0.9988" stop-color="#702090"/></linearGradient>
<linearGradient id="g178" x1="0" x2="1" y1="0" y2="0"><stop offset="0.0012" stop-color="#00c0e0"/><stop offset="0.0242" stop-color="#00c1e0"/><stop offset="0.0265" stop-color="#00c6e3"/><stop offset="0.0288" stop-color="#00d5ea"/><stop offset="0.0311" stop-color="#00eaf5"/><stop offset="0.0334" stop-color="#00f9fc"/><stop offset="0.0380" stop-color="#00ffff"/><stop offset="0.2016" stop-color="#00feff"/><stop offset="0.2039" stop-color="#02fcfd"/><stop offset="0.2108" stop-color="#10dfef"/><stop offset="0.2247" stop-color="#13d9ec"/><stop offset="0.9988" stop-color="#702090"/></linearGradient>
<linearGradient id="g179" x1="0" x2="1" y1="0" y2="0"><stop offset="0.0012" stop-color="#00c1e0"/><stop offset="0.0242" stop-color="#00c2e1"/><stop offset="0.0265" stop-color="#00c7e3"/><stop offset="0.0288" stop-color="#00d6ea"/><stop offset="0.0311" stop-color="#00eaf5"/><stop offset="0.0334" stop-color="#00f9fc"/><stop offset="0.0380" stop-color="#00ffff"/><stop offset="0.2016" stop-color="#00feff"/><stop offset="0.2039" stop-color="#02fbfd"/><stop offset="0.2108" stop-color="#11deef"/><stop offset="0.2247" stop-color="#13d8ec"/><stop offset="0.9988" stop-color="#711f8f"/></linearGradient>
<linearGradient id="g180" x1="0" x2="1" y1="0" y2="0"><stop offset="0.0012" stop-color="#00c2e0"/><stop offset="0.0242" stop-color="#00c3e1"/><stop offset="0.0265" stop-color="#00c8e3"/><stop offset="0.0288" stop-color="#00d6eb"/><stop offset="0.0311" stop-color="#00ebf5"/><stop offset="0.0334" stop-color="#00f9fc"/><stop offset="0.0380" stop-color="#00ffff"/><stop offset="0.2016" stop-color="#00feff"/><stop offset="0.2039" stop-color="#02fbfd"/><stop offset="0.2108" stop-color="#11deee"/><stop offset="0.2270" stop-color="#14d7eb"/><stop offset="0.9988" stop-color="#711e8f"/></linearGradient>
<linearGradient id="g181" x1="0" x2="1" y1="0" y2="0"><stop offset="0.0012" stop-color="#00c3e1"/><stop offset="0.0242" stop-color="#00c4e1"/><stop offset="0.0265" stop-color="#00c9e4"/><stop offset="0.0288" stop-color="#00d7eb"/><stop offset="0.0311" stop-color="#00ebf5"/><stop offset="0.0334" stop-color="#00f9fc"/><stop offset="0.0380" stop-color="#00ffff"/><stop offset="0.2016" stop-color="#00feff"/><stop offset="0.2039" stop-color="#02fbfd"/><stop offset="0.2108" stop-color="#11ddee"/><stop offset="0.2293" stop-color="#15d6ea"/><stop offset="0.9988" stop-color="#711d8e"/></linearGradient>
<linearGradient id="g182" x1="0" x2="1" y1="0" y2="0"><stop offset="0.0012" stop-color="#00c3e1"/><stop offset="0.0242" stop-color="#00c4e2"/><stop offset="0.0265" stop-color="#00c9e4"/><stop offset="0.0288" stop-color="#00d7eb"/><stop offset="0.0311" stop-color="#00ebf5"/><stop offset="0.0334" stop-color="#00f9fc"/><stop offset="0.0380" stop-color="#00ffff"/><stop offset="0.2016" stop-color="#00feff"/><stop offset="0.2039" stop-color="#02fbfd"/><stop offset="0.2108" stop-color="#11ddee"/><stop offset="0.2270" stop-color="#15d6ea"/><stop offset="0.9988" stop-color="#721c8e"/></linearGradient>
<linearGradient id="g183" x1="0" x2="1" y1="0" y2="0"><stop offset="0.0012" stop-color="#00c4e2"/><stop offset="0.0242" stop-color="#00c5e2"/><stop offset="0.0265" stop-color="#00cae5"/><stop offset="0.0288" stop-color="#00d8ec"/><stop offset="0.0311" stop-color="#00ebf5"/><stop offset="0.0334" stop-color="#00f9fc"/><stop offset="0.0380" stop-color="#00ffff"/><stop offset="0.2016" stop-color="#00feff"/><stop offset="0.2039" stop-color="#02fbfd"/><stop offset="0.2108" stop-color="#11dcee"/><stop offset="0.2247" stop-color="#15d5ea"/><stop offset="0.9988" stop-color="#721b8e"/></linearGradient>
<linearGradient id="g184" x1="0" x2="1" y1="0" y2="0"><stop offset="0.0012" stop-color="#00c5e2"/><stop offset="0.0242" stop-color="#00c6e3"/><stop offset="0.0265" stop-color="#00cbe5"/><stop offset="0.0288" stop-color="#00d8ec"/><stop offset="0.0311" stop-color="#00ecf5"/><stop offset="0.0334" stop-color="#00f9fc"/><stop offset="0.0380" stop-color="#00ffff"/><stop offset="0.2016" stop-color="#00feff"/><stop offset="0.2039" stop-color="#02fbfd"/><stop offset="0.2108" stop-color="#12dced"/><stop offset="0.2224" stop-color="#15d5ea"/><stop offset="0.9988" stop-color="#731a8d"/></linearGradient>
<linearGradient id="g185" x1="0" x2="1" y1="0" y2="0"><stop offset="0.0012" stop-color="#00c6e3"/><stop offset="0.0242" stop-color="#00c7e3"/><stop offset="0.0265" stop-color="#00cce5"/><stop offset="0.0288" stop-color="#00d9ec"/><stop offset="0.0311" stop-color="#00ecf6"/><stop offset="0.0334" stop-color="#00f9fc"/><stop offset="0.0380" stop-color="#00ffff"/><stop offset="0.2016" stop-color="#00feff"/><stop offset="0.2039" stop-color="#02fbfd"/><stop offset="0.2108" stop-color="#12dbed"/><stop offset="0.2224" stop-color="#15d4ea"/><stop offset="0.9988" stop-color="#731a8d"/></linearGradient>
<linearGradient id="g186" x1="0" x2="1" y1="0" y2="0"><stop offset="0.0012" stop-color="#00c7e3"/><stop offset="0.0242" stop-color="#00c8e4"/><stop offset="0.0265" stop-color="#00cce6"/><stop offset="0.0288" stop-color="#00daec"/><stop offset="0.0311" stop-color="#00ecf6"/><stop offset="0.0334" stop-color="#00f9fc"/><stop offset="0.0380" stop-color="#00ffff"/><stop offset="0.2016" stop-color="#00feff"/><stop offset="0.2039" stop-color="#02fbfd"/><stop offset="0.2108" stop-color="#12daed"/><stop offset="0.2224" stop-color="#16d4e9"/><stop offset="0.9988" stop-color="#74198c"/></linearGradient>
<linearGradient id="g187" x1="0" x2="1" y1="0" y2="0"><stop offset="0.0012" stop-color="#00c8e3"/><stop offset="0.0242" stop-color="#00c9e4"/><stop offset="0.0265" stop-color="#00cde6"/><stop offset="0.0288" stop-color="#00daed"/><stop offset="0.0311" stop-color="#00edf6"/><stop offset="0.0334" stop-color="#00fafc"/><stop offset="0.0380" stop-color="#00ffff"/><stop offset="0.2016" stop-color="#00feff"/><stop offset="0.2039" stop-color="#02fbfd"/><stop offset="0.2108" stop-color="#13daec"/><stop offset="0.2200" stop-color="#16d3e9"/><stop offset="0.9988" stop-color="#74188c"/></linearGradient>
<linearGradient id="g188" x1="0" x2="1" y1="0" y2="0"><stop offset="0.0012" stop-color="#00c9e4"/><stop offset="0.0242" stop-color="#00cae4"/><stop offset="0.0265" stop-color="#00cee7"/><stop offset="0.0288" stop-color="#00dbed"/><stop offset="0.0311" stop-color="#00edf6"/><stop offset="0.0334" stop-color="#00fafc"/><stop offset="0.0380" stop-color="#00ffff"/><stop offset="0.2016" stop-color="#00feff"/><stop offset="0.2039" stop-color="#02fbfd"/><stop offset="0.2108" stop-color="#13d9ec"/><stop offset="0.2200" stop-color="#16d3e9"/><stop offset="0.9988" stop-color="#75178b"/></linearGradient>
<linearGradient id="g189" x1="0" x2="1" y1="0" y2="0"><stop offset="0.0012" stop-color="#00cae4"/><stop offset="0.0242" stop-color="#00cae5"/><stop offset="0.0265" stop-color="#00cfe7"/><stop offset="0.0288" stop-color="#00dbed"/><stop offset="0.0311" stop-color="#00edf6"/><stop offset="0.0334" stop-color="#00fafc"/><stop offset="0.0380" stop-color="#00ffff"/><stop offset="0.2016" stop-color="#01fefe"/><stop offset="0.2039" stop-color="#02fafd"/><stop offset="0.2108" stop-color="#14d8ec"/><stop offset="0.2200" stop-color="#17d2e8"/><stop offset="0.9988" stop-color="#75168b"/></linearGradient>
<linearGradient id="g190" x1="0" x2="1" y1="0" y2="0"><stop offset="0.0012" stop-color="#00cae5"/><stop offset="0.0242" stop-color="#00cbe5"/><stop offset="0.0265" stop-color="#00d0e7"/><stop offset="0.0288" stop-color="#00dcee"/><stop offset="0.0311" stop-color="#00edf6"/><stop offset="0.0334" stop-color="#00fafc"/><stop offset="0.0380" stop-color="#00ffff"/><stop offset="0.2016" stop-color="#01fdfe"/><stop offset="0.2039" stop-color="#03fafc"/><stop offset="0.2108" stop-color="#14d7eb"/><stop offset="0.2200" stop-color="#17d1e8"/><stop offset="0.9988" stop-color="#75158b"/></linearGradient>
<linearGradient id="g191" x1="0" x2="1" y1="0" y2="0"><stop offset="0.0012" stop-color="#00cbe5"/><stop offset="0.0242" stop-color="#00cce6"/><stop offset="0.0265" stop-color="#00d0e8"/><stop offset="0.0288" stop-color="#00ddee"/><stop offset="0.0311" stop-color="#00eef6"/><stop offset="0.0334" stop-color="#00fafc"/><stop offset="0.0380" stop-color="#00ffff"/><stop offset="0.2016" stop-color="#01fcfe"/><stop offset="0.2039" stop-color="#03f9fc"/><stop offset="0.2108" stop-color="#14d7eb"/><stop offset="0.2200" stop-color="#17d0e8"/><stop offset="0.9988" stop-color="#76148a"/></linearGradient>
<linearGradient id="g192" x1="0" x2="1" y1="0" y2="0"><stop offset="0.0012" stop-color="#00cce6"/><stop offset="0.0242" stop-color="#00cde6"/><stop offset="0.0265" stop-color="#00d1e8"/><stop offset="0.0334" stop-color="#00fafc"/><stop offset="0.0380" stop-color="#00ffff"/><stop offset="0.1647" stop-color="#01fcfe"/><stop offset="0.2016" stop-color="#02fbfd"/><stop offset="0.2039" stop-color="#04f7fb"/><stop offset="0.2108" stop-color="#15d6ea"/><stop offset="0.2200" stop-color="#18cfe7"/><stop offset="0.9988" stop-color="#76138a"/></linearGradient>
<linearGradient id="g193" x1="0" x2="1" y1="0" y2="0"><stop offset="0.0012" stop-color="#00cde6"/><stop offset="0.0242" stop-color="#00cee6"/><stop offset="0.0265" stop-color="#00d2e9"/><stop offset="0.0334" stop-color="#00fafd"/><stop offset="0.0403" stop-color="#00ffff"/><stop offset="0.1601" stop-color="#01fdfe"/><stop offset="0.1901" stop-color="#03f9fc"/><stop offset="0.2016" stop-color="#04f8fb"/><stop offset="0.2039" stop-color="#05f5fa"/><stop offset="0.2108" stop-color="#15d5ea"/><stop offset="0.2224" stop-color="#19cee7"/><stop offset="0.9988" stop-color="#771289"/></linearGradient>
<linearGradient id="g194" x1="0" x2="1" y1="0" y2="0"><stop offset="0.0012" stop-color="#00cee7"/><stop offset="0.0242" stop-color="#00cfe7"/><stop offset="0.0265" stop-color="#00d3e9"/><stop offset="0.0334" stop-color="#00fafd"/><stop offset="0.0403" stop-color="#00ffff"/><stop offset="0.1578" stop-color="#00feff"/><stop offset="0.1694" stop-color="#05f6fa"/><stop offset="0.2016" stop-color="#06f3f9"/><stop offset="0.2039" stop-color="#07f0f8"/><stop offset="0.2108" stop-color="#16d3e9"/><stop offset="0.2293" stop-color="#1acce5"/><stop offset="0.9988" stop-color="#771289"/></linearGradient>
<linearGradient id="g195" x1="0" x2="1" y1="0" y2="0"><stop offset="0.0012" stop-color="#00cfe7"/><stop offset="0.0242" stop-color="#00d0e7"/><stop offset="0.0265" stop-color="#00d4e9"/><stop offset="0.0334" stop-color="#00fafd"/><stop offset="0.0403" stop-color="#00ffff"/><stop offset="0.1578" stop-color="#01fefe"/><stop offset="0.1671" stop-color="#07f1f8"/><stop offset="0.2039" stop-color="#0aeaf5"/><stop offset="0.2108" stop-color="#17d2e9"/><stop offset="0.2615" stop-color="#1ec3e1"/><stop offset="0.9988" stop-color="#781188"/></linearGradient>
<linearGradient id="g196" x1="0" x2="1" y1="0" y2="0"><stop offset="0.0012" stop-color="#00d0e7"/><stop offset="0.0242" stop-color="#00d0e8"/><stop offset="0.0265" stop-color="#00d4ea"/><stop offset="0.0334" stop-color="#00fafd"/><stop offset="0.0403" stop-color="#00ffff"/><stop offset="0.1578" stop-color="#01fdfe"/><stop offset="0.1647" stop-color="#09ecf6"/><stop offset="0.2039" stop-color="#0ee3f1"/><stop offset="0.2108" stop-color="#17d1e8"/><stop offset="0.9988" stop-color="#781088"/></linearGradient>
<linearGradient id="g197" x1="0" x2="1" y1="0" y2="0"><stop offset="0.0012" stop-color="#00d0e8"/><stop offset="0.0242" stop-color="#00d1e8"/><stop offset="0.0265" stop-color="#00d5ea"/><stop offset="0.0334" stop-color="#00fafd"/><stop offset="0.0403" stop-color="#00ffff"/><stop offset="0.1578" stop-color="#01fcfe"/><stop offset="0.1647" stop-color="#0ce7f3"/><stop offset="0.2039" stop-color="#11dcee"/><stop offset="0.2131" stop-color="#19cde6"/><stop offset="0.9988" stop-color="#790f87"/></linearGradient>
<linearGradient id="g198" x1="0" x2="1" y1="0" y2="0"><stop offset="0.0012" stop-color="#00d1e8"/><stop offset="0.0242" stop-color="#00d2e9"/><stop offset="0.0265" stop-color="#00d6eb"/><stop offset="0.0334" stop-color="#00fafd"/><stop offset="0.0403" stop-color="#00ffff"/><stop offset="0.1555" stop-color="#00feff"/><stop offset="0.1601" stop-color="#05f4fa"/><stop offset="0.1647" stop-color="#0ee2f1"/><stop offset="0.1924" stop-color="#13daec"/><stop offset="0.2062" stop-color="#16d4ea"/><stop offset="0.2154" stop-color="#1acce6"/><stop offset="0.9988" stop-color="#790e87"/></linearGradient>
<linearGradient id="g199" x1="0" x2="1" y1="0" y2="0"><stop offset="0.0012" stop-color="#00d2e9"/><stop offset="0.0242" stop-color="#00d3e9"/><stop offset="0.0265" stop-color="#00d7eb"/><stop offset="0.0334" stop-color="#00fbfd"/><stop offset="0.0403" stop-color="#00ffff"/><stop offset="0.1555" stop-color="#00feff"/><stop offset="0.1578" stop-color="#02fcfd"/><stop offset="0.1647" stop-color="#10dfef"/><stop offset="0.1809" stop-color="#14d8ec"/><stop offset="0.2062" stop-color="#17d1e8"/><stop offset="0.2339" stop-color="#1cc7e3"/><stop offset="0.9988" stop-color="#790d86"/></linearGradient>
<linearGradient id="g200" x1="0" x2="1" y1="0" y2="0"><stop offset="0.0012" stop-color="#00d3e9"/><stop offset="0.0242" stop-color="#00d4e9"/><stop offset="0.0265" stop-color="#00d7eb"/><stop offset="0.0334" stop-color="#00fbfd"/><stop offset="0.0403" stop-color="#00ffff"/><stop offset="0.1555" stop-color="#00feff"/><stop offset="0.1578" stop-color="#02fbfd"/><stop offset="0.1647" stop-color="#11dcee"/><stop offset="0.1786" stop-color="#15d6ea"/><stop offset="0.9988" stop-color="#7a0c86"/></linearGradient>
<linearGradient id="g201" x1="0" x2="1" y1="0" y2="0"><stop offset="0.0012" stop-color="#00d4ea"/><stop offset="0.0242" stop-color="#00d5ea"/><stop offset="0.0265" stop-color="#00d8ec"/><stop offset="0.0334" stop-color="#00fbfd"/><stop offset="0.0403" stop-color="#00ffff"/><stop offset="0.1555" stop-color="#00feff"/><stop offset="0.1578" stop-color="#02fbfd"/><stop offset="0.1647" stop-color="#12dbed"/><stop offset="0.1763" stop-color="#15d4ea"/><stop offset="0.9988" stop-color="#7a0b86"/></linearGradient>
<linearGradient id="g202" x1="0" x2="1" y1="0" y2="0"><stop offset="0.0012" stop-color="#00d5ea"/><stop offset="0.0242" stop-color="#00d5ea"/><stop offset="0.0265" stop-color="#00d9ec"/><stop offset="0.0334" stop-color="#00fbfd"/><stop offset="0.0426" stop-color="#00ffff"/><stop offset="0.1555" stop-color="#00feff"/><stop offset="0.1578" stop-color="#02fbfd"/><stop offset="0.1647" stop-color="#13d9ec"/><stop offset="0.1740" stop-color="#16d3e9"/><stop offset="0.9988" stop-color="#7b0a85"/></linearGradient>
<linearGradient id="g203" x1="0" x2="1" y1="0" y2="0"><stop offset="0.0012" stop-color="#00d6ea"/><stop offset="0.0242" stop-color="#00d6eb"/><stop offset="0.0265" stop-color="#00daec"/><stop offset="0.0334" stop-color="#00fbfd"/><stop offset="0.0426" stop-color="#00ffff"/><stop offset="0.1555" stop-color="#00feff"/><stop offset="0.1578" stop-color="#02fbfd"/><stop offset="0.1647" stop-color="#13d8ec"/><stop offset="0.1740" stop-color="#17d2e9"/><stop offset="0.9988" stop-color="#7b0985"/></linearGradient>
<linearGradient id="g204" x1="0" x2="1" y1="0" y2="0"><stop offset="0.0012" stop-color="#00d7eb"/><stop offset="0.0242" stop-color="#00d7eb"/><stop offset="0.0265" stop-color="#00dbed"/><stop offset="0.0334" stop-color="#00fbfd"/><stop offset="0.0426" stop-color="#00ffff"/><stop offset="0.1555" stop-color="#00feff"/><stop offset="0.1578" stop-color="#02fbfd"/><stop offset="0.1647" stop-color="#14d8eb"/><stop offset="0.1740" stop-color="#17d1e8"/><stop offset="0.9988" stop-color="#7c0884"/></linearGradient>
<linearGradient id="g205" x1="0" x2="1" y1="0" y2="0"><stop offset="0.0012" stop-color="#00d7eb"/><stop offset="0.0242" stop-color="#00d8ec"/><stop offset="0.0265" stop-color="#00dbed"/><stop offset="0.0334" stop-color="#00fbfd"/><stop offset="0.0449" stop-color="#00ffff"/><stop offset="0.1555" stop-color="#00feff"/><stop offset="0.1578" stop-color="#02fbfd"/><stop offset="0.1647" stop-color="#14d7eb"/><stop offset="0.1717" stop-color="#17d1e8"/><stop offset="0.9988" stop-color="#7c0784"/></linearGradient>
<linearGradient id="g206" x1="0" x2="1" y1="0" y2="0"><stop offset="0.0012" stop-color="#00d8ec"/><stop offset="0.0242" stop-color="#00d9ec"/><stop offset="0.0265" stop-color="#00dcee"/><stop offset="0.0334" stop-color="#00fbfd"/><stop offset="0.0449" stop-color="#00ffff"/><stop offset="0.1555" stop-color="#00feff"/><stop offset="0.1578" stop-color="#02fbfd"/><stop offset="0.1647" stop-color="#15d6eb"/><stop offset="0.1717" stop-color="#18d0e7"/><stop offset="0.9988" stop-color="#7d0683"/></linearGradient>
<linearGradient id="g207" x1="0" x2="1" y1="0" y2="0"><stop offset="0.0012" stop-color="#00d9ec"/><stop offset="0.0242" stop-color="#00daec"/><stop offset="0.0265" stop-color="#00ddee"/><stop offset="0.0334" stop-color="#00fbfd"/><stop offset="0.0449" stop-color="#00ffff"/><stop offset="0.1555" stop-color="#00feff"/><stop offset="0.1578" stop-color="#02fafd"/><stop offset="0.1647" stop-color="#15d5ea"/><stop offset="0.1717" stop-color="#18cfe7"/><stop offset="0.9988" stop-color="#7d0583"/></linearGradient>
<linearGradient id="g208" x1="0" x2="1" y1="0" y2="0"><stop offset="0.0012" stop-color="#00daed"/><stop offset="0.0242" stop-color="#00dbed"/><stop offset="0.0265" stop-color="#00deee"/><stop offset="0.0334" stop-color="#00fbfd"/><stop offset="0.0472" stop-color="#00ffff"/><stop offset="0.1555" stop-color="#00feff"/><stop offset="0.1578" stop-color="#02fafd"/><stop offset="0.1647" stop-color="#15d4ea"/><stop offset="0.1717" stop-color="#18cee7"/><stop offset="0.9988" stop-color="#7e0482"/></linearGradient>
<linearGradient id="g209" x1="0" x2="1" y1="0" y2="0"><stop offset="0.0012" stop-color="#030683"/><stop offset="0.9297" stop-color="#7bf6fb"/><stop offset="0.9366" stop-color="#7ffdfe"/><stop offset="0.9988" stop-color="#80fefe"/></linearGradient>
<linearGradient id="g210" x1="0" x2="1" y1="0" y2="0"><stop offset="0.0012" stop-color="#030783"/><stop offset="0.9297" stop-color="#7cf7fb"/><stop offset="0.9366" stop-color="#7ffefe"/><stop offset="0.9988" stop-color="#80fdfe"/></linearGradient>
<linearGradient id="g211" x1="0" x2="1" y1="0" y2="0"><stop offset="0.0012" stop-color="#040784"/><stop offset="0.9297" stop-color="#7cf8fb"/><stop offset="0.9366" stop-color="#80feff"/><stop offset="0.9988" stop-color="#80fcfd"/></linearGradient>
<linearGradient id="g212" x1="0" x2="1" y1="0" y2="0"><stop offset="0.0012" stop-color="#040884"/><stop offset="0.9297" stop-color="#7df9fc"/><stop offset="0.9366" stop-color="#80ffff"/><stop offset="0.9942" stop-color="#80fbfd"/><stop offset="0.9988" stop-color="#80fbfd"/></linearGradient>
<linearGradient id="g213" x1="0" x2="1" y1="0" y2="0"><stop offset="0.0012" stop-color="#050985"/><stop offset="0.8813" stop-color="#77edf6"/><stop offset="0.9297" stop-color="#7dfafc"/><stop offset="0.9389" stop-color="#80ffff"/><stop offset="0.9804" stop-color="#80fdfe"/><stop offset="0.9988" stop-color="#80fafc"/></linearGradient>
<linearGradient id="g214" x1="0" x2="1" y1="0" y2="0"><stop offset="0.0012" stop-color="#050a85"/><stop offset="0.8790" stop-color="#77ecf6"/><stop offset="0.9297" stop-color="#7efbfd"/><stop offset="0.9435" stop-color="#80ffff"/><stop offset="0.9781" stop-color="#80fefe"/><stop offset="0.9988" stop-color="#80f8fc"/></linearGradient>
<linearGradient id="g215" x1="0" x2="1" y1="0" y2="0"><stop offset="0.0012" stop-color="#060b85"/><stop offset="0.8790" stop-color="#77eef6"/><stop offset="0.8952" stop-color="#7bf4fa"/><stop offset="0.9459" stop-color="#80ffff"/><stop offset="0.9781" stop-color="#80fefe"/><stop offset="0.9988" stop-color="#80f7fb"/></linearGradient>
<linearGradient id="g216" x1="0" x2="1" y1="0" y2="0"><stop offset="0.0012" stop-color="#060c86"/><stop offset="0.8790" stop-color="#78eff7"/><stop offset="0.8882" stop-color="#7bf5fa"/><stop offset="0.9505" stop-color="#80ffff"/><stop offset="0.9781" stop-color="#80fdfe"/><stop offset="0.9919" stop-color="#80f7fb"/><stop offset="0.9988" stop-color="#80f6fa"/></linearGradient>
<linearGradient id="g217" x1="0" x2="1" y1="0" y2="0"><stop offset="0.0012" stop-color="#060d86"/><stop offset="0.8790" stop-color="#79f0f8"/><stop offset="0.8859" stop-color="#7cf7fb"/><stop offset="0.9551" stop-color="#80ffff"/><stop offset="0.9781" stop-color="#80fdfe"/><stop offset="0.9896" stop-color="#80f6fb"/><stop offset="0.9988" stop-color="#80f5fa"/></linearGradient>
<linearGradient id="g218" x1="0" x2="1" y1="0" y2="0"><stop offset="0.0012" stop-color="#070e87"/><stop offset="0.8790" stop-color="#79f2f8"/><stop offset="0.8859" stop-color="#7df9fc"/><stop offset="0.9597" stop-color="#80feff"/><stop offset="0.9781" stop-color="#80fcfe"/><stop offset="0.9873" stop-color="#80f6fa"/><stop offset="0.9988" stop-color="#80f4f9"/></linearGradient>
<linearGradient id="g219" x1="0" x2="1" y1="0" y2="0"><stop offset="0.0012" stop-color="#070e87"/><stop offset="0.8790" stop-color="#7af3f9"/><stop offset="0.8859" stop-color="#7efafd"/><stop offset="0.9666" stop-color="#80fefe"/><stop offset="0.9781" stop-color="#80fcfd"/><stop offset="0.9873" stop-color="#80f5fa"/><stop offset="0.9988" stop-color="#80f3f9"/></linearGradient>
<linearGradient id="g220" x1="0" x2="1" y1="0" y2="0"><stop offset="0.0012" stop-color="#080f88"/><stop offset="0.8790" stop-color="#7bf4fa"/><stop offset="0.8859" stop-color="#7efcfd"/><stop offset="0.9712" stop-color="#80fdfe"/><stop offset="0.9781" stop-color="#80fbfd"/><stop offset="0.9873" stop-color="#80f4f9"/><stop offset="0.9988" stop-color="#80f2f8"/></linearGradient>
<linearGradient id="g221" x1="0" x2="1" y1="0" y2="0"><stop offset="0.0012" stop-color="#081088"/><stop offset="0.8790" stop-color="#7bf5fa"/><stop offset="0.8859" stop-color="#7ffdfe"/><stop offset="0.9689" stop-color="#80fcfe"/><stop offset="0.9781" stop-color="#80fafc"/><stop offset="0.9873" stop-color="#80f3f9"/><stop offset="0.9988" stop-color="#80f1f8"/></linearGradient>
<linearGradient id="g222" x1="0" x2="1" y1="0" y2="0"><stop offset="0.0012" stop-color="#091188"/><stop offset="0.8790" stop-color="#7cf6fb"/><stop offset="0.8859" stop-color="#7ffefe"/><stop offset="0.9643" stop-color="#80fbfd"/><stop offset="0.9781" stop-color="#80f9fc"/><stop offset="0.9873" stop-color="#80f2f8"/><stop offset="0.9988" stop-color="#80f0f7"/></linearGradient>
<linearGradient id="g223" x1="0" x2="1" y1="0" y2="0"><stop offset="0.0012" stop-color="#091289"/><stop offset="0.8790" stop-color="#7cf7fb"/><stop offset="0.8859" stop-color="#80feff"/><stop offset="0.9528" stop-color="#80fbfd"/><stop offset="0.9781" stop-color="#80f7fb"/><stop offset="0.9896" stop-color="#80f1f8"/><stop offset="0.9988" stop-color="#80eff7"/></linearGradient>
<linearGradient id="g224" x1="0" x2="1" y1="0" y2="0"><stop offset="0.0012" stop-color="#091389"/><stop offset="0.8790" stop-color="#7df8fc"/><stop offset="0.8859" stop-color="#80feff"/><stop offset="0.9412" stop-color="#80fcfd"/><stop offset="0.9781" stop-color="#80f6fa"/><stop offset="0.9942" stop-color="#80eff7"/><stop offset="0.9988" stop-color="#80eef7"/></linearGradient>
<linearGradient id="g225" x1="0" x2="1" y1="0" y2="0"><stop offset="0.0012" stop-color="#0a138a"/><stop offset="0.8790" stop-color="#7df9fc"/><stop offset="0.8859" stop-color="#80ffff"/><stop offset="0.9320" stop-color="#80fdfe"/><stop offset="0.9781" stop-color="#80f4fa"/><stop offset="0.9988" stop-color="#80edf6"/></linearGradient>
<linearGradient id="g226" x1="0" x2="1" y1="0" y2="0"><stop offset="0.0012" stop-color="#0a148a"/><stop offset="0.8329" stop-color="#78eef7"/><stop offset="0.8790" stop-color="#7efafd"/><stop offset="0.8882" stop-color="#80ffff"/><stop offset="0.9320" stop-color="#80fcfd"/><stop offset="0.9804" stop-color="#80f1f8"/><stop offset="0.9988" stop-color="#80ecf6"/></linearGradient>
<linearGradient id="g227" x1="0" x2="1" y1="0" y2="0"><stop offset="0.0012" stop-color="#0b158a"/><stop offset="0.8306" stop-color="#77edf6"/><stop offset="0.8491" stop-color="#7bf4fa"/><stop offset="0.8790" stop-color="#7efbfd"/><stop offset="0.8929" stop-color="#80ffff"/><stop offset="0.9297" stop-color="#80fefe"/><stop offset="0.9620" stop-color="#80f5fa"/><stop offset="0.9988" stop-color="#80ecf5"/></linearGradient>
<linearGradient id="g228" x1="0" x2="1" y1="0" y2="0"><stop offset="0.0012" stop-color="#0b168b"/><stop offset="0.8306" stop-color="#78eef7"/><stop offset="0.8422" stop-color="#7bf5fa"/><stop offset="0.8975" stop-color="#80ffff"/><stop offset="0.9297" stop-color="#80fdfe"/><stop offset="0.9459" stop-color="#80f7fb"/><stop offset="0.9988" stop-color="#80ebf5"/></linearGradient>
<linearGradient id="g229" x1="0" x2="1" y1="0" y2="0"><stop offset="0.0012" stop-color="#0b178b"/><stop offset="0.8306" stop-color="#78f0f7"/><stop offset="0.8399" stop-color="#7cf6fb"/><stop offset="0.9021" stop-color="#80ffff"/><stop offset="0.9297" stop-color="#80fdfe"/><stop offset="0.9412" stop-color="#80f7fb"/><stop offset="0.9988" stop-color="#80eaf5"/></linearGradient>
<linearGradient id="g230" x1="0" x2="1" y1="0" y2="0"><stop offset="0.0012" stop-color="#0c178c"/><stop offset="0.8306" stop-color="#79f1f8"/><stop offset="0.8376" stop-color="#7cf8fb"/><stop offset="0.9090" stop-color="#80ffff"/><stop offset="0.9297" stop-color="#80fdfe"/><stop offset="0.9389" stop-color="#80f6fb"/><stop offset="0.9988" stop-color="#80e9f4"/></linearGradient>
<linearGradient id="g231" x1="0" x2="1" y1="0" y2="0"><stop offset="0.0012" stop-color="#0c188c"/><stop offset="0.8283" stop-color="#79f0f8"/><stop offset="0.8376" stop-color="#7dfafc"/><stop offset="0.9182" stop-color="#80feff"/><stop offset="0.9297" stop-color="#80fcfe"/><stop offset="0.9389" stop-color="#80f5fa"/><stop offset="0.9988" stop-color="#80e9f4"/></linearGradient>
<linearGradient id="g232" x1="0" x2="1" y1="0" y2="0"><stop offset="0.0012" stop-color="#0d198c"/><stop offset="0.8283" stop-color="#79f1f8"/><stop offset="0.8376" stop-color="#7efbfd"/><stop offset="0.9251" stop-color="#80fdfe"/><stop offset="0.9412" stop-color="#80f4fa"/><stop offset="0.9988" stop-color="#80e8f3"/></linearGradient>
<linearGradient id="g233" x1="0" x2="1" y1="0" y2="0"><stop offset="0.0012" stop-color="#0d1a8d"/><stop offset="0.7800" stop-color="#73e5f2"/><stop offset="0.8306" stop-color="#7bf5fa"/><stop offset="0.8376" stop-color="#7ffcfe"/><stop offset="0.9274" stop-color="#80fcfe"/><stop offset="0.9389" stop-color="#80f4f9"/><stop offset="0.9988" stop-color="#80e7f3"/></linearGradient>
<linearGradient id="g234" x1="0" x2="1" y1="0" y2="0"><stop offset="0.0012" stop-color="#0d1b8d"/><stop offset="0.7800" stop-color="#74e7f3"/><stop offset="0.7984" stop-color="#77eef7"/><stop offset="0.8306" stop-color="#7cf7fb"/><stop offset="0.8376" stop-color="#7ffdfe"/><stop offset="0.9274" stop-color="#80fbfd"/><stop offset="0.9389" stop-color="#80f3f9"/><stop offset="0.9988" stop-color="#80e6f3"/></linearGradient>
<linearGradient id="g235" x1="0" x2="1" y1="0" y2="0"><stop offset="0.0012" stop-color="#0e1c8e"/><stop offset="0.7800" stop-color="#75e8f4"/><stop offset="0.7892" stop-color="#78eef7"/><stop offset="0.8306" stop-color="#7df8fc"/><stop offset="0.8376" stop-color="#7ffefe"/><stop offset="0.9205" stop-color="#80fbfd"/><stop offset="0.9297" stop-color="#80f8fc"/><stop offset="0.9389" stop-color="#80f2f8"/><stop offset="0.9988" stop-color="#80e5f2"/></linearGradient>
<linearGradient id="g236" x1="0" x2="1" y1="0" y2="0"><stop offset="0.0012" stop-color="#0e1d8e"/><stop offset="0.7800" stop-color="#75eaf4"/><stop offset="0.7869" stop-color="#79f1f8"/><stop offset="0.8306" stop-color="#7dfafc"/><stop offset="0.8399" stop-color="#80feff"/><stop offset="0.9090" stop-color="#80fbfd"/><stop offset="0.9297" stop-color="#80f7fb"/><stop offset="0.9412" stop-color="#80f0f8"/><stop offset="0.9988" stop-color="#80e4f2"/></linearGradient>
<linearGradient id="g237" x1="0" x2="1" y1="0" y2="0"><stop offset="0.0012" stop-color="#0f1e8f"/><stop offset="0.7776" stop-color="#75e9f4"/><stop offset="0.7869" stop-color="#7af3f9"/><stop offset="0.8306" stop-color="#7efbfd"/><stop offset="0.8468" stop-color="#80ffff"/><stop offset="0.8975" stop-color="#80fbfd"/><stop offset="0.9297" stop-color="#80f5fa"/><stop offset="0.9459" stop-color="#80eef7"/><stop offset="0.9988" stop-color="#80e3f1"/></linearGradient>
<linearGradient id="g238" x1="0" x2="1" y1="0" y2="0"><stop offset="0.0012" stop-color="#0f1f8f"/><stop offset="0.7776" stop-color="#76ebf5"/><stop offset="0.7869" stop-color="#7bf6fa"/><stop offset="0.8560" stop-color="#80ffff"/><stop offset="0.8859" stop-color="#80fbfd"/><stop offset="0.9297" stop-color="#80f4f9"/><stop offset="0.9666" stop-color="#80e9f4"/><stop offset="0.9988" stop-color="#80e2f1"/></linearGradient>
<linearGradient id="g239" x1="0" x2="1" y1="0" y2="0"><stop offset="0.0012" stop-color="#102090"/><stop offset="0.7339" stop-color="#71e2f0"/><stop offset="0.7800" stop-color="#78f0f7"/><stop offset="0.7846" stop-color="#7cf8fb"/><stop offset="0.8652" stop-color="#80ffff"/><stop offset="0.8813" stop-color="#80fcfd"/><stop offset="0.9320" stop-color="#80f0f7"/><stop offset="0.9988" stop-color="#80e1f0"/></linearGradient>
<linearGradient id="g240" x1="0" x2="1" y1="0" y2="0"><stop offset="0.0012" stop-color="#112191"/><stop offset="0.7316" stop-color="#71e1f0"/><stop offset="0.7661" stop-color="#77ecf6"/><stop offset="0.7800" stop-color="#79f2f8"/><stop offset="0.7846" stop-color="#7dfafc"/><stop offset="0.8767" stop-color="#80ffff"/><stop offset="0.8929" stop-color="#80f7fb"/><stop offset="0.9988" stop-color="#80e0f0"/></linearGradient>
<linearGradient id="g241" x1="0" x2="1" y1="0" y2="0"><stop offset="0.0012" stop-color="#112391"/><stop offset="0.7316" stop-color="#72e3f1"/><stop offset="0.7454" stop-color="#76eaf5"/><stop offset="0.7800" stop-color="#7af4f9"/><stop offset="0.7846" stop-color="#7efbfd"/><stop offset="0.8767" stop-color="#80feff"/><stop offset="0.8882" stop-color="#80f7fb"/><stop offset="0.9988" stop-color="#80dfef"/></linearGradient>
<linearGradient id="g242" x1="0" x2="1" y1="0" y2="0"><stop offset="0.0012" stop-color="#122492"/><stop offset="0.7316" stop-color="#73e5f2"/><stop offset="0.7408" stop-color="#77ecf6"/><stop offset="0.7800" stop-color="#7bf6fa"/><stop offset="0.7869" stop-color="#7ffdfe"/><stop offset="0.8790" stop-color="#80fcfe"/><stop offset="0.8859" stop-color="#80f6fa"/><stop offset="0.9988" stop-color="#80ddee"/></linearGradient>
<linearGradient id="g243" x1="0" x2="1" y1="0" y2="0"><stop offset="0.0012" stop-color="#132693"/><stop offset="0.7316" stop-color="#74e8f3"/><stop offset="0.7385" stop-color="#78eff7"/><stop offset="0.7800" stop-color="#7cf8fb"/><stop offset="0.7869" stop-color="#7ffefe"/><stop offset="0.8790" stop-color="#80fbfd"/><stop offset="0.8859" stop-color="#80f4fa"/><stop offset="0.9988" stop-color="#80dcee"/></linearGradient>
<linearGradient id="g244" x1="0" x2="1" y1="0" y2="0"><stop offset="0.0012" stop-color="#142793"/><stop offset="0.7293" stop-color="#74e7f3"/><stop offset="0.7385" stop-color="#7af2f9"/><stop offset="0.7800" stop-color="#7dfafc"/><stop offset="0.7892" stop-color="#80feff"/><stop offset="0.8790" stop-color="#80fbfd"/><stop offset="0.8859" stop-color="#80f3f9"/><stop offset="0.9988" stop-color="#80dbed"/></linearGradient>
<linearGradient id="g245" x1="0" x2="1" y1="0" y2="0"><stop offset="0.0012" stop-color="#142994"/><stop offset="0.7293" stop-color="#75e9f4"/><stop offset="0.7362" stop-color="#7bf5fa"/><stop offset="0.7823" stop-color="#7ffdfe"/><stop offset="0.8767" stop-color="#80fcfd"/><stop offset="0.8859" stop-color="#80f1f8"/><stop offset="0.9988" stop-color="#80d9ec"/></linearGradient>
<linearGradient id="g246" x1="0" x2="1" y1="0" y2="0"><stop offset="0.0012" stop-color="#152a95"/><stop offset="0.6832" stop-color="#70dfef"/><stop offset="0.7316" stop-color="#78eff7"/><stop offset="0.7362" stop-color="#7cf7fb"/><stop offset="0.8122" stop-color="#80ffff"/><stop offset="0.8790" stop-color="#80f8fb"/><stop offset="0.8859" stop-color="#80f0f7"/><stop offset="0.9988" stop-color="#80d8eb"/></linearGradient>
<linearGradient id="g247" x1="0" x2="1" y1="0" y2="0"><stop offset="0.0012" stop-color="#162c96"/><stop offset="0.6809" stop-color="#70dfef"/><stop offset="0.7224" stop-color="#76ecf6"/><stop offset="0.7316" stop-color="#79f1f8"/><stop offset="0.7362" stop-color="#7dfafc"/><stop offset="0.8283" stop-color="#80ffff"/><stop offset="0.8790" stop-color="#80f6fb"/><stop offset="0.8859" stop-color="#80eef7"/><stop offset="0.9988" stop-color="#80d6eb"/></linearGradient>
<linearGradient id="g248" x1="0" x2="1" y1="0" y2="0"><stop offset="0.0012" stop-color="#172d96"/><stop offset="0.6809" stop-color="#71e2f0"/><stop offset="0.6947" stop-color="#75e8f4"/><stop offset="0.7316" stop-color="#7af3f9"/><stop offset="0.7362" stop-color="#7efbfd"/><stop offset="0.8306" stop-color="#80fefe"/><stop offset="0.8790" stop-color="#80f4fa"/><stop offset="0.8859" stop-color="#80edf6"/><stop offset="0.9988" stop-color="#80d5ea"/></linearGradient>
<linearGradient id="g249" x1="0" x2="1" y1="0" y2="0"><stop offset="0.0012" stop-color="#172f97"/><stop offset="0.6809" stop-color="#72e4f1"/><stop offset="0.6901" stop-color="#76ebf5"/><stop offset="0.7316" stop-color="#7bf5fa"/><stop offset="0.7385" stop-color="#7ffdfe"/><stop offset="0.8306" stop-color="#80fdfe"/><stop offset="0.8491" stop-color="#80f7fb"/><stop offset="0.8790" stop-color="#80f2f8"/><stop offset="0.8882" stop-color="#80ebf5"/><stop offset="0.9988" stop-color="#80d3e9"/></linearGradient>
<linearGradient id="g250" x1="0" x2="1" y1="0" y2="0"><stop offset="0.0012" stop-color="#183098"/><stop offset="0.6809" stop-color="#74e6f3"/><stop offset="0.6878" stop-color="#77eef6"/><stop offset="0.7316" stop-color="#7cf7fb"/><stop offset="0.7385" stop-color="#7ffefe"/><stop offset="0.8306" stop-color="#80fcfe"/><stop offset="0.8399" stop-color="#80f7fb"/><stop offset="0.8790" stop-color="#80eff7"/><stop offset="0.8906" stop-color="#80e8f4"/><stop offset="0.9988" stop-color="#80d2e8"/></linearGradient>
<linearGradient id="g251" x1="0" x2="1" y1="0" y2="0"><stop offset="0.0012" stop-color="#193299"/><stop offset="0.6786" stop-color="#73e6f2"/><stop offset="0.6878" stop-color="#79f1f8"/><stop offset="0.7316" stop-color="#7df9fc"/><stop offset="0.7408" stop-color="#80feff"/><stop offset="0.8306" stop-color="#80fbfd"/><stop offset="0.8376" stop-color="#80f5fa"/><stop offset="0.8790" stop-color="#80edf6"/><stop offset="0.8952" stop-color="#80e6f3"/><stop offset="0.9988" stop-color="#80d0e8"/></linearGradient>
<linearGradient id="g252" x1="0" x2="1" y1="0" y2="0"><stop offset="0.0012" stop-color="#1a349a"/><stop offset="0.6786" stop-color="#74e8f3"/><stop offset="0.6855" stop-color="#7af4f9"/><stop offset="0.7316" stop-color="#7efbfd"/><stop offset="0.7500" stop-color="#80ffff"/><stop offset="0.8306" stop-color="#80fafd"/><stop offset="0.8376" stop-color="#80f3f9"/><stop offset="0.8813" stop-color="#80e8f4"/><stop offset="0.9988" stop-color="#80cee7"/></linearGradient>
<linearGradient id="g253" x1="0" x2="1" y1="0" y2="0"><stop offset="0.0012" stop-color="#1b359b"/><stop offset="0.6786" stop-color="#75eaf5"/><stop offset="0.6855" stop-color="#7cf7fb"/><stop offset="0.7592" stop-color="#80ffff"/><stop offset="0.8306" stop-color="#80f9fc"/><stop offset="0.8376" stop-color="#80f1f8"/><stop offset="0.9988" stop-color="#80cde6"/></linearGradient>
<linearGradient id="g254" x1="0" x2="1" y1="0" y2="0"><stop offset="0.0012" stop-color="#1c379b"/><stop offset="0.6786" stop-color="#77ecf6"/><stop offset="0.6855" stop-color="#7df9fc"/><stop offset="0.7730" stop-color="#80ffff"/><stop offset="0.8306" stop-color="#80f7fb"/><stop offset="0.8376" stop-color="#80eff7"/><stop offset="0.9988" stop-color="#80cbe5"/></linearGradient>
<linearGradient id="g255" x1="0" x2="1" y1="0" y2="0"><stop offset="0.0012" stop-color="#1c399c"/><stop offset="0.6348" stop-color="#72e3f1"/><stop offset="0.6786" stop-color="#78eef7"/><stop offset="0.6855" stop-color="#7efbfd"/><stop offset="0.7800" stop-color="#80fefe"/><stop offset="0.8306" stop-color="#80f5fa"/><stop offset="0.8376" stop-color="#80edf6"/><stop offset="0.9988" stop-color="#80cae5"/></linearGradient>
<linearGradient id="g256" x1="0" x2="1" y1="0" y2="0"><stop offset="0.0012" stop-color="#1d3a9d"/><stop offset="0.6325" stop-color="#72e3f1"/><stop offset="0.6809" stop-color="#7af4f9"/><stop offset="0.6855" stop-color="#7ffcfe"/><stop offset="0.7800" stop-color="#80fdfe"/><stop offset="0.8306" stop-color="#80f3f9"/><stop offset="0.8376" stop-color="#80ebf5"/><stop offset="0.9988" stop-color="#80c8e4"/></linearGradient>
<linearGradient id="g257" x1="0" x2="1" y1="0" y2="0"><stop offset="0.0012" stop-color="#1e3c9e"/><stop offset="0.6325" stop-color="#73e5f2"/><stop offset="0.6486" stop-color="#77ecf6"/><stop offset="0.6809" stop-color="#7bf6fa"/><stop offset="0.6855" stop-color="#7ffdfe"/><stop offset="0.7800" stop-color="#80fdfe"/><stop offset="0.7938" stop-color="#80f7fb"/><stop offset="0.8306" stop-color="#80f0f8"/><stop offset="0.8399" stop-color="#80e9f4"/><stop offset="0.9988" stop-color="#80c7e3"/></linearGradient>
<linearGradient id="g258" x1="0" x2="1" y1="0" y2="0"><stop offset="0.0012" stop-color="#1f3d9f"/><stop offset="0.6325" stop-color="#74e7f3"/><stop offset="0.6417" stop-color="#77eef6"/><stop offset="0.6809" stop-color="#7cf8fb"/><stop offset="0.6878" stop-color="#80feff"/><stop offset="0.7800" stop-color="#80fcfd"/><stop offset="0.7892" stop-color="#80f6fa"/><stop offset="0.8306" stop-color="#80eef6"/><stop offset="0.8422" stop-color="#80e7f3"/><stop offset="0.9988" stop-color="#80c5e2"/></linearGradient>
<linearGradient id="g259" x1="0" x2="1" y1="0" y2="0"><stop offset="0.0012" stop-color="#203f9f"/><stop offset="0.6325" stop-color="#75e9f4"/><stop offset="0.6394" stop-color="#79f0f8"/><stop offset="0.6809" stop-color="#7df9fc"/><stop offset="0.6901" stop-color="#80ffff"/><stop offset="0.7800" stop-color="#80fbfd"/><stop offset="0.7869" stop-color="#80f4f9"/><stop offset="0.8306" stop-color="#80ebf5"/><stop offset="0.8491" stop-color="#80e4f2"/><stop offset="0.9988" stop-color="#80c4e2"/></linearGradient>
<linearGradient id="g260" x1="0" x2="1" y1="0" y2="0"><stop offset="0.0012" stop-color="#2040a0"/><stop offset="0.6325" stop-color="#76ecf5"/><stop offset="0.6394" stop-color="#7af3f9"/><stop offset="0.6809" stop-color="#7efbfd"/><stop offset="0.6947" stop-color="#80ffff"/><stop offset="0.7800" stop-color="#80f9fc"/><stop offset="0.7869" stop-color="#80f2f8"/><stop offset="0.8329" stop-color="#80e7f3"/><stop offset="0.9988" stop-color="#80c2e1"/></linearGradient>
<linearGradient id="g261" x1="0" x2="1" y1="0" y2="0"><stop offset="0.0012" stop-color="#2142a1"/><stop offset="0.6302" stop-color="#76ebf5"/><stop offset="0.6371" stop-color="#7bf6fa"/><stop offset="0.7039" stop-color="#80ffff"/><stop offset="0.7800" stop-color="#80f7fb"/><stop offset="0.7869" stop-color="#80f0f7"/><stop offset="0.9988" stop-color="#80c1e0"/></linearGradient>
<linearGradient id="g262" x1="0" x2="1" y1="0" y2="0"><stop offset="0.0012" stop-color="#2244a2"/><stop offset="0.6302" stop-color="#77edf6"/><stop offset="0.6371" stop-color="#7df8fc"/><stop offset="0.7154" stop-color="#80ffff"/><stop offset="0.7800" stop-color="#80f5fa"/><stop offset="0.7869" stop-color="#80eef7"/><stop offset="0.9988" stop-color="#80bfdf"/></linearGradient>
<linearGradient id="g263" x1="0" x2="1" y1="0" y2="0"><stop offset="0.0012" stop-color="#2345a2"/><stop offset="0.6302" stop-color="#78eff7"/><stop offset="0.6371" stop-color="#7efafd"/><stop offset="0.7293" stop-color="#80feff"/><stop offset="0.7569" stop-color="#80f8fb"/><stop offset="0.7800" stop-color="#80f3f9"/><stop offset="0.7869" stop-color="#80ecf6"/><stop offset="0.9988" stop-color="#80bedf"/></linearGradient>
<linearGradient id="g264" x1="0" x2="1" y1="0" y2="0"><stop offset="0.0012" stop-color="#2346a3"/><stop offset="0.6302" stop-color="#79f1f8"/><stop offset="0.6371" stop-color="#7efcfd"/><stop offset="0.7293" stop-color="#80feff"/><stop offset="0.7431" stop-color="#80f8fb"/><stop offset="0.7800" stop-color="#80f1f8"/><stop offset="0.7892" stop-color="#80eaf5"/><stop offset="0.9988" stop-color="#80bdde"/></linearGradient>
<linearGradient id="g265" x1="0" x2="1" y1="0" y2="0"><stop offset="0.0012" stop-color="#2448a4"/><stop offset="0.5841" stop-color="#74e7f3"/><stop offset="0.6325" stop-color="#7bf5fa"/><stop offset="0.6371" stop-color="#7ffdfe"/><stop offset="0.7316" stop-color="#80fcfe"/><stop offset="0.7408" stop-color="#80f6fb"/><stop offset="0.7800" stop-color="#80eff7"/><stop offset="0.7915" stop-color="#80e8f4"/><stop offset="0.9988" stop-color="#80bbdd"/></linearGradient>
<linearGradient id="g266" x1="0" x2="1" y1="0" y2="0"><stop offset="0.0012" stop-color="#2549a4"/><stop offset="0.5818" stop-color="#74e7f3"/><stop offset="0.6325" stop-color="#7cf7fb"/><stop offset="0.6394" stop-color="#7ffefe"/><stop offset="0.7316" stop-color="#80fbfd"/><stop offset="0.7408" stop-color="#80f4fa"/><stop offset="0.7800" stop-color="#80ecf6"/><stop offset="0.8053" stop-color="#80e4f2"/><stop offset="0.9988" stop-color="#80badd"/></linearGradient>
<linearGradient id="g267" x1="0" x2="1" y1="0" y2="0"><stop offset="0.0012" stop-color="#254aa5"/><stop offset="0.5818" stop-color="#75e8f4"/><stop offset="0.5956" stop-color="#78eff7"/><stop offset="0.6325" stop-color="#7df8fc"/><stop offset="0.6394" stop-color="#80feff"/><stop offset="0.7316" stop-color="#80fafc"/><stop offset="0.7385" stop-color="#80f3f9"/><stop offset="0.7823" stop-color="#80e8f4"/><stop offset="0.9988" stop-color="#80b9dc"/></linearGradient>
<linearGradient id="g268" x1="0" x2="1" y1="0" y2="0"><stop offset="0.0012" stop-color="#264ca6"/><stop offset="0.5818" stop-color="#76eaf5"/><stop offset="0.5910" stop-color="#79f1f8"/><stop offset="0.6325" stop-color="#7dfafc"/><stop offset="0.6417" stop-color="#80ffff"/><stop offset="0.7293" stop-color="#80fbfd"/><stop offset="0.7385" stop-color="#80f1f8"/><stop offset="0.9988" stop-color="#80b8db"/></linearGradient>
<linearGradient id="g269" x1="0" x2="1" y1="0" y2="0"><stop offset="0.0012" stop-color="#274da6"/><stop offset="0.5818" stop-color="#77ecf6"/><stop offset="0.5887" stop-color="#7af3f9"/><stop offset="0.6325" stop-color="#7efbfd"/><stop offset="0.6486" stop-color="#80ffff"/><stop offset="0.7293" stop-color="#80f9fc"/><stop offset="0.7385" stop-color="#80f0f7"/><stop offset="0.9988" stop-color="#80b7db"/></linearGradient>
<linearGradient id="g270" x1="0" x2="1" y1="0" y2="0"><stop offset="0.0012" stop-color="#274ea7"/><stop offset="0.5795" stop-color="#76ecf5"/><stop offset="0.5887" stop-color="#7bf5fa"/><stop offset="0.6555" stop-color="#80ffff"/><stop offset="0.7293" stop-color="#80f7fb"/><stop offset="0.7385" stop-color="#80eef7"/><stop offset="0.9988" stop-color="#80b5da"/></linearGradient>
<linearGradient id="g271" x1="0" x2="1" y1="0" y2="0"><stop offset="0.0012" stop-color="#284fa7"/><stop offset="0.5357" stop-color="#71e2f1"/><stop offset="0.5818" stop-color="#78f0f8"/><stop offset="0.5887" stop-color="#7cf8fb"/><stop offset="0.6647" stop-color="#80ffff"/><stop offset="0.6832" stop-color="#80fcfd"/><stop offset="0.7316" stop-color="#80f3f9"/><stop offset="0.7408" stop-color="#80edf6"/><stop offset="0.9988" stop-color="#80b4da"/></linearGradient>
<linearGradient id="g272" x1="0" x2="1" y1="0" y2="0"><stop offset="0.0012" stop-color="#2850a8"/><stop offset="0.5334" stop-color="#71e1f0"/><stop offset="0.5588" stop-color="#76eaf5"/><stop offset="0.5818" stop-color="#79f2f9"/><stop offset="0.5887" stop-color="#7dfafc"/><stop offset="0.6763" stop-color="#80ffff"/><stop offset="0.7039" stop-color="#80f7fb"/><stop offset="0.7316" stop-color="#80f1f8"/><stop offset="0.7454" stop-color="#80eaf5"/><stop offset="0.9988" stop-color="#80b3d9"/></linearGradient>
<linearGradient id="g273" x1="0" x2="1" y1="0" y2="0"><stop offset="0.0012" stop-color="#2952a9"/><stop offset="0.5334" stop-color="#72e3f1"/><stop offset="0.5449" stop-color="#75eaf4"/><stop offset="0.5818" stop-color="#7af4fa"/><stop offset="0.5887" stop-color="#7efbfd"/><stop offset="0.6786" stop-color="#80feff"/><stop offset="0.6924" stop-color="#80f7fb"/><stop offset="0.7316" stop-color="#80eff7"/><stop offset="0.7615" stop-color="#80e6f2"/><stop offset="0.9988" stop-color="#80b2d9"/></linearGradient>
<linearGradient id="g274" x1="0" x2="1" y1="0" y2="0"><stop offset="0.0012" stop-color="#2a53a9"/><stop offset="0.5334" stop-color="#73e5f2"/><stop offset="0.5403" stop-color="#76ecf5"/><stop offset="0.5818" stop-color="#7bf6fa"/><stop offset="0.5887" stop-color="#7ffdfe"/><stop offset="0.6786" stop-color="#80fefe"/><stop offset="0.6901" stop-color="#80f6fa"/><stop offset="0.7339" stop-color="#80ebf5"/><stop offset="0.9988" stop-color="#80b1d8"/></linearGradient>
<linearGradient id="g275" x1="0" x2="1" y1="0" y2="0"><stop offset="0.0012" stop-color="#2a54aa"/><stop offset="0.5311" stop-color="#73e5f2"/><stop offset="0.5403" stop-color="#78eff7"/><stop offset="0.5818" stop-color="#7cf8fb"/><stop offset="0.5887" stop-color="#7ffdfe"/><stop offset="0.6786" stop-color="#80fdfe"/><stop offset="0.6878" stop-color="#80f5fa"/><stop offset="0.9988" stop-color="#80b0d8"/></linearGradient>
<linearGradient id="g276" x1="0" x2="1" y1="0" y2="0"><stop offset="0.0012" stop-color="#2b55aa"/><stop offset="0.5311" stop-color="#74e6f3"/><stop offset="0.5380" stop-color="#79f2f8"/><stop offset="0.5818" stop-color="#7dfafc"/><stop offset="0.5933" stop-color="#80feff"/><stop offset="0.6786" stop-color="#80fcfe"/><stop offset="0.6878" stop-color="#80f3f9"/><stop offset="0.9988" stop-color="#80afd7"/></linearGradient>
<linearGradient id="g277" x1="0" x2="1" y1="0" y2="0"><stop offset="0.0012" stop-color="#2b57ab"/><stop offset="0.4850" stop-color="#6edcee"/><stop offset="0.5334" stop-color="#76ecf5"/><stop offset="0.5380" stop-color="#7bf5fa"/><stop offset="0.5818" stop-color="#7efbfd"/><stop offset="0.6048" stop-color="#80ffff"/><stop offset="0.6809" stop-color="#80f9fc"/><stop offset="0.6878" stop-color="#80f2f8"/><stop offset="0.9988" stop-color="#80add6"/></linearGradient>
<linearGradient id="g278" x1="0" x2="1" y1="0" y2="0"><stop offset="0.0012" stop-color="#2c58ac"/><stop offset="0.4827" stop-color="#6edcee"/><stop offset="0.5173" stop-color="#74e7f3"/><stop offset="0.5334" stop-color="#77eef7"/><stop offset="0.5380" stop-color="#7cf7fb"/><stop offset="0.6141" stop-color="#80ffff"/><stop offset="0.6809" stop-color="#80f7fb"/><stop offset="0.6878" stop-color="#80f0f8"/><stop offset="0.9988" stop-color="#80acd6"/></linearGradient>
<linearGradient id="g279" x1="0" x2="1" y1="0" y2="0"><stop offset="0.0012" stop-color="#2d5aad"/><stop offset="0.4827" stop-color="#6fdeef"/><stop offset="0.4942" stop-color="#73e5f2"/><stop offset="0.5311" stop-color="#77edf6"/><stop offset="0.5380" stop-color="#7df9fc"/><stop offset="0.6302" stop-color="#80ffff"/><stop offset="0.6809" stop-color="#80f5fa"/><stop offset="0.6901" stop-color="#80eef7"/><stop offset="0.9988" stop-color="#80aad5"/></linearGradient>
<linearGradient id="g280" x1="0" x2="1" y1="0" y2="0"><stop offset="0.0012" stop-color="#2e5bad"/><stop offset="0.4827" stop-color="#71e0f0"/><stop offset="0.4919" stop-color="#74e7f3"/><stop offset="0.5334" stop-color="#7af3f9"/><stop offset="0.5380" stop-color="#7efbfd"/><stop offset="0.6325" stop-color="#80fefe"/><stop offset="0.6809" stop-color="#80f3f9"/><stop offset="0.6901" stop-color="#80ecf6"/><stop offset="0.9988" stop-color="#80a9d4"/></linearGradient>
<linearGradient id="g281" x1="0" x2="1" y1="0" y2="0"><stop offset="0.0012" stop-color="#2f5dae"/><stop offset="0.4827" stop-color="#72e3f1"/><stop offset="0.4896" stop-color="#76ebf5"/><stop offset="0.5334" stop-color="#7bf5fa"/><stop offset="0.5403" stop-color="#7ffdfe"/><stop offset="0.6325" stop-color="#80fdfe"/><stop offset="0.6463" stop-color="#80f7fb"/><stop offset="0.6809" stop-color="#80f0f8"/><stop offset="0.6947" stop-color="#80eaf4"/><stop offset="0.9988" stop-color="#80a7d3"/></linearGradient>
<linearGradient id="g282" x1="0" x2="1" y1="0" y2="0"><stop offset="0.0012" stop-color="#305faf"/><stop offset="0.4804" stop-color="#72e3f1"/><stop offset="0.4873" stop-color="#77eef6"/><stop offset="0.5334" stop-color="#7cf8fb"/><stop offset="0.5403" stop-color="#7ffefe"/><stop offset="0.6325" stop-color="#80fcfe"/><stop offset="0.6417" stop-color="#80f6fa"/><stop offset="0.6809" stop-color="#80eef7"/><stop offset="0.7062" stop-color="#80e5f2"/><stop offset="0.9988" stop-color="#80a5d2"/></linearGradient>
<linearGradient id="g283" x1="0" x2="1" y1="0" y2="0"><stop offset="0.0012" stop-color="#3161b0"/><stop offset="0.4804" stop-color="#73e5f2"/><stop offset="0.4873" stop-color="#79f2f8"/><stop offset="0.5334" stop-color="#7dfafc"/><stop offset="0.5449" stop-color="#80feff"/><stop offset="0.6325" stop-color="#80fbfd"/><stop offset="0.6394" stop-color="#80f4fa"/><stop offset="0.6832" stop-color="#80e9f4"/><stop offset="0.9988" stop-color="#80a3d1"/></linearGradient>
<linearGradient id="g284" x1="0" x2="1" y1="0" y2="0"><stop offset="0.0012" stop-color="#3263b1"/><stop offset="0.4804" stop-color="#74e8f3"/><stop offset="0.4873" stop-color="#7bf5fa"/><stop offset="0.5357" stop-color="#7ffefe"/><stop offset="0.6302" stop-color="#80fdfe"/><stop offset="0.6394" stop-color="#80f2f8"/><stop offset="0.9988" stop-color="#80a1d0"/></linearGradient>
<linearGradient id="g285" x1="0" x2="1" y1="0" y2="0"><stop offset="0.0012" stop-color="#3365b2"/><stop offset="0.4366" stop-color="#70deef"/><stop offset="0.4804" stop-color="#76eaf5"/><stop offset="0.4873" stop-color="#7cf8fb"/><stop offset="0.5680" stop-color="#80ffff"/><stop offset="0.6302" stop-color="#80fbfd"/><stop offset="0.6394" stop-color="#80f0f7"/><stop offset="0.9988" stop-color="#809fcf"/></linearGradient>
<linearGradient id="g286" x1="0" x2="1" y1="0" y2="0"><stop offset="0.0012" stop-color="#3467b3"/><stop offset="0.4343" stop-color="#70dfef"/><stop offset="0.4804" stop-color="#77edf6"/><stop offset="0.4873" stop-color="#7efafd"/><stop offset="0.5818" stop-color="#80feff"/><stop offset="0.6325" stop-color="#80f7fb"/><stop offset="0.6371" stop-color="#80eef7"/><stop offset="0.9988" stop-color="#809ece"/></linearGradient>
<linearGradient id="g287" x1="0" x2="1" y1="0" y2="0"><stop offset="0.0012" stop-color="#3569b4"/><stop offset="0.4343" stop-color="#71e1f0"/><stop offset="0.4505" stop-color="#75e9f4"/><stop offset="0.4827" stop-color="#7af3f9"/><stop offset="0.4873" stop-color="#7efcfd"/><stop offset="0.5818" stop-color="#80fefe"/><stop offset="0.6325" stop-color="#80f5fa"/><stop offset="0.6371" stop-color="#80ecf6"/><stop offset="0.9988" stop-color="#809cce"/></linearGradient>
<linearGradient id="g288" x1="0" x2="1" y1="0" y2="0"><stop offset="0.0012" stop-color="#366bb5"/><stop offset="0.4343" stop-color="#72e4f1"/><stop offset="0.4435" stop-color="#76eaf5"/><stop offset="0.4827" stop-color="#7bf5fa"/><stop offset="0.4873" stop-color="#7ffdfe"/><stop offset="0.5818" stop-color="#80fdfe"/><stop offset="0.6256" stop-color="#80f6fa"/><stop offset="0.6325" stop-color="#80f2f9"/><stop offset="0.6394" stop-color="#80e9f4"/><stop offset="0.9988" stop-color="#809acd"/></linearGradient>
<linearGradient id="g289" x1="0" x2="1" y1="0" y2="0"><stop offset="0.0012" stop-color="#376db6"/><stop offset="0.4343" stop-color="#74e6f3"/><stop offset="0.4412" stop-color="#77edf6"/><stop offset="0.4827" stop-color="#7cf7fb"/><stop offset="0.4896" stop-color="#7ffefe"/><stop offset="0.5818" stop-color="#80fcfe"/><stop offset="0.5956" stop-color="#80f7fb"/><stop offset="0.6325" stop-color="#80f0f7"/><stop offset="0.6394" stop-color="#80e8f3"/><stop offset="0.9988" stop-color="#8098cc"/></linearGradient>
<linearGradient id="g290" x1="0" x2="1" y1="0" y2="0"><stop offset="0.0012" stop-color="#386fb7"/><stop offset="0.4343" stop-color="#75e9f4"/><stop offset="0.4412" stop-color="#79f1f8"/><stop offset="0.4827" stop-color="#7df9fc"/><stop offset="0.4919" stop-color="#80feff"/><stop offset="0.5818" stop-color="#80fbfd"/><stop offset="0.5910" stop-color="#80f5fa"/><stop offset="0.6325" stop-color="#80edf6"/><stop offset="0.6394" stop-color="#80e6f3"/><stop offset="0.9988" stop-color="#8096cb"/></linearGradient>
<linearGradient id="g291" x1="0" x2="1" y1="0" y2="0"><stop offset="0.0012" stop-color="#3870b8"/><stop offset="0.4320" stop-color="#74e8f4"/><stop offset="0.4389" stop-color="#7af3f9"/><stop offset="0.4827" stop-color="#7efbfd"/><stop offset="0.4988" stop-color="#80ffff"/><stop offset="0.5818" stop-color="#80fafd"/><stop offset="0.5887" stop-color="#80f3f9"/><stop offset="0.6325" stop-color="#80eaf5"/><stop offset="0.6417" stop-color="#80e4f1"/><stop offset="0.9988" stop-color="#8095ca"/></linearGradient>
<linearGradient id="g292" x1="0" x2="1" y1="0" y2="0"><stop offset="0.0012" stop-color="#3972b9"/><stop offset="0.4320" stop-color="#75eaf5"/><stop offset="0.4389" stop-color="#7cf6fb"/><stop offset="0.5081" stop-color="#80ffff"/><stop offset="0.5818" stop-color="#80f8fc"/><stop offset="0.5887" stop-color="#80f1f8"/><stop offset="0.6325" stop-color="#80e8f3"/><stop offset="0.6509" stop-color="#80e0f0"/><stop offset="0.9988" stop-color="#8093c9"/></linearGradient>
<linearGradient id="g293" x1="0" x2="1" y1="0" y2="0"><stop offset="0.0012" stop-color="#3a74ba"/><stop offset="0.4320" stop-color="#76ecf6"/><stop offset="0.4389" stop-color="#7df9fc"/><stop offset="0.5219" stop-color="#80ffff"/><stop offset="0.5818" stop-color="#80f6fb"/><stop offset="0.5887" stop-color="#80eff7"/><stop offset="0.6348" stop-color="#80e3f1"/><stop offset="0.9988" stop-color="#8092c8"/></linearGradient>
<linearGradient id="g294" x1="0" x2="1" y1="0" y2="0"><stop offset="0.0012" stop-color="#3b75ba"/><stop offset="0.4320" stop-color="#77eef7"/><stop offset="0.4389" stop-color="#7efbfd"/><stop offset="0.5311" stop-color="#80ffff"/><stop offset="0.5818" stop-color="#80f4fa"/><stop offset="0.5887" stop-color="#80edf6"/><stop offset="0.9988" stop-color="#8090c8"/></linearGradient>
<linearGradient id="g295" x1="0" x2="1" y1="0" y2="0"><stop offset="0.0012" stop-color="#3c77bb"/><stop offset="0.4320" stop-color="#79f0f8"/><stop offset="0.4389" stop-color="#7ffcfe"/><stop offset="0.5334" stop-color="#80fdfe"/><stop offset="0.5541" stop-color="#80f7fb"/><stop offset="0.5818" stop-color="#80f2f8"/><stop offset="0.5887" stop-color="#80ebf5"/><stop offset="0.9988" stop-color="#808ec7"/></linearGradient>
<linearGradient id="g296" x1="0" x2="1" y1="0" y2="0"><stop offset="0.0012" stop-color="#3d79bc"/><stop offset="0.3859" stop-color="#73e6f2"/><stop offset="0.4343" stop-color="#7bf5fa"/><stop offset="0.4389" stop-color="#7ffdfe"/><stop offset="0.5334" stop-color="#80fcfe"/><stop offset="0.5449" stop-color="#80f6fb"/><stop offset="0.5818" stop-color="#80eff7"/><stop offset="0.5910" stop-color="#80e8f4"/><stop offset="0.9988" stop-color="#808dc6"/></linearGradient>
<linearGradient id="g297" x1="0" x2="1" y1="0" y2="0"><stop offset="0.0012" stop-color="#3d7abd"/><stop offset="0.3836" stop-color="#73e6f2"/><stop offset="0.4044" stop-color="#77eef6"/><stop offset="0.4343" stop-color="#7cf7fb"/><stop offset="0.4412" stop-color="#80feff"/><stop offset="0.5334" stop-color="#80fbfd"/><stop offset="0.5426" stop-color="#80f5fa"/><stop offset="0.5818" stop-color="#80edf6"/><stop offset="0.5933" stop-color="#80e6f3"/><stop offset="0.9988" stop-color="#808bc5"/></linearGradient>
<linearGradient id="g298" x1="0" x2="1" y1="0" y2="0"><stop offset="0.0012" stop-color="#3e7cbe"/><stop offset="0.3836" stop-color="#74e8f3"/><stop offset="0.3952" stop-color="#78eef7"/><stop offset="0.4343" stop-color="#7df8fc"/><stop offset="0.4412" stop-color="#80feff"/><stop offset="0.5334" stop-color="#80fafc"/><stop offset="0.5403" stop-color="#80f3f9"/><stop offset="0.5818" stop-color="#80eaf5"/><stop offset="0.6048" stop-color="#80e2f1"/><stop offset="0.9988" stop-color="#808ac5"/></linearGradient>
<linearGradient id="g299" x1="0" x2="1" y1="0" y2="0"><stop offset="0.0012" stop-color="#3f7dbe"/><stop offset="0.3836" stop-color="#75eaf4"/><stop offset="0.3929" stop-color="#79f1f8"/><stop offset="0.4343" stop-color="#7dfafd"/><stop offset="0.4435" stop-color="#80ffff"/><stop offset="0.5311" stop-color="#80fbfd"/><stop offset="0.5403" stop-color="#80f1f8"/><stop offset="0.5841" stop-color="#80e6f3"/><stop offset="0.9988" stop-color="#8088c4"/></linearGradient>
<linearGradient id="g300" x1="0" x2="1" y1="0" y2="0"><stop offset="0.0012" stop-color="#407fbf"/><stop offset="0.3836" stop-color="#76ecf5"/><stop offset="0.3906" stop-color="#7af3f9"/><stop offset="0.4343" stop-color="#7efbfd"/><stop offset="0.4528" stop-color="#80ffff"/><stop offset="0.5311" stop-color="#80f9fc"/><stop offset="0.5403" stop-color="#80eff7"/><stop offset="0.9988" stop-color="#8087c3"/></linearGradient>
<linearGradient id="g301" x1="0" x2="1" y1="0" y2="0"><stop offset="0.0012" stop-color="#4080c0"/><stop offset="0.3836" stop-color="#77edf6"/><stop offset="0.3906" stop-color="#7bf6fa"/><stop offset="0.4574" stop-color="#80ffff"/><stop offset="0.5311" stop-color="#80f7fb"/><stop offset="0.5403" stop-color="#80edf6"/><stop offset="0.9988" stop-color="#8086c3"/></linearGradient>
<linearGradient id="g302" x1="0" x2="1" y1="0" y2="0"><stop offset="0.0012" stop-color="#4182c1"/><stop offset="0.3813" stop-color="#77ecf6"/><stop offset="0.3882" stop-color="#7cf8fb"/><stop offset="0.4643" stop-color="#80ffff"/><stop offset="0.4850" stop-color="#80fbfd"/><stop offset="0.5334" stop-color="#80f2f9"/><stop offset="0.5426" stop-color="#80ebf5"/><stop offset="0.9988" stop-color="#8084c2"/></linearGradient>
<linearGradient id="g303" x1="0" x2="1" y1="0" y2="0"><stop offset="0.0012" stop-color="#4283c1"/><stop offset="0.3813" stop-color="#77eef7"/><stop offset="0.3882" stop-color="#7dfafc"/><stop offset="0.4758" stop-color="#80feff"/><stop offset="0.5058" stop-color="#80f6fa"/><stop offset="0.5334" stop-color="#80f0f8"/><stop offset="0.5449" stop-color="#80e9f4"/><stop offset="0.9988" stop-color="#8083c1"/></linearGradient>
<linearGradient id="g304" x1="0" x2="1" y1="0" y2="0"><stop offset="0.0012" stop-color="#4284c2"/><stop offset="0.3813" stop-color="#78f0f7"/><stop offset="0.3882" stop-color="#7efbfd"/><stop offset="0.4804" stop-color="#80fefe"/><stop offset="0.4919" stop-color="#80f6fb"/><stop offset="0.5334" stop-color="#80eef7"/><stop offset="0.5495" stop-color="#80e7f3"/><stop offset="0.9988" stop-color="#8082c1"/></linearGradient>
<linearGradient id="g305" x1="0" x2="1" y1="0" y2="0"><stop offset="0.0012" stop-color="#4386c3"/><stop offset="0.3813" stop-color="#79f1f8"/><stop offset="0.3882" stop-color="#7ffcfe"/><stop offset="0.4804" stop-color="#80fdfe"/><stop offset="0.4919" stop-color="#80f4fa"/><stop offset="0.5357" stop-color="#80eaf4"/><stop offset="0.9988" stop-color="#8081c0"/></linearGradient>
<linearGradient id="g306" x1="0" x2="1" y1="0" y2="0"><stop offset="0.0012" stop-color="#4487c3"/><stop offset="0.3813" stop-color="#7af3f9"/><stop offset="0.3882" stop-color="#7ffdfe"/><stop offset="0.4804" stop-color="#80fcfe"/><stop offset="0.4896" stop-color="#80f3f9"/><stop offset="0.9988" stop-color="#807fbf"/></linearGradient>
<linearGradient id="g307" x1="0" x2="1" y1="0" y2="0"><stop offset="0.0012" stop-color="#4488c4"/><stop offset="0.3376" stop-color="#75e9f4"/><stop offset="0.3836" stop-color="#7cf7fb"/><stop offset="0.3906" stop-color="#80feff"/><stop offset="0.4804" stop-color="#80fbfd"/><stop offset="0.4896" stop-color="#80f2f8"/><stop offset="0.9988" stop-color="#807ebf"/></linearGradient>
<linearGradient id="g308" x1="0" x2="1" y1="0" y2="0"><stop offset="0.0012" stop-color="#4589c4"/><stop offset="0.3353" stop-color="#75e8f4"/><stop offset="0.3537" stop-color="#78f0f7"/><stop offset="0.3836" stop-color="#7df8fc"/><stop offset="0.3906" stop-color="#80feff"/><stop offset="0.4781" stop-color="#80fafc"/><stop offset="0.4919" stop-color="#80f0f7"/><stop offset="0.9988" stop-color="#807dbe"/></linearGradient>
<linearGradient id="g309" x1="0" x2="1" y1="0" y2="0"><stop offset="0.0012" stop-color="#468bc5"/><stop offset="0.3353" stop-color="#75eaf5"/><stop offset="0.3468" stop-color="#79f1f8"/><stop offset="0.3836" stop-color="#7dfafc"/><stop offset="0.3929" stop-color="#80ffff"/><stop offset="0.4505" stop-color="#80fbfd"/><stop offset="0.4827" stop-color="#80f6fa"/><stop offset="0.4919" stop-color="#80eff7"/><stop offset="0.9988" stop-color="#807cbe"/></linearGradient>
<linearGradient id="g310" x1="0" x2="1" y1="0" y2="0"><stop offset="0.0012" stop-color="#468cc6"/><stop offset="0.3353" stop-color="#76ecf5"/><stop offset="0.3445" stop-color="#7af3f9"/><stop offset="0.3836" stop-color="#7efbfd"/><stop offset="0.3975" stop-color="#80ffff"/><stop offset="0.4366" stop-color="#80fcfe"/><stop offset="0.4827" stop-color="#80f4fa"/><stop offset="0.4919" stop-color="#80edf6"/><stop offset="0.9988" stop-color="#807bbd"/></linearGradient>
<linearGradient id="g311" x1="0" x2="1" y1="0" y2="0"><stop offset="0.0012" stop-color="#478dc6"/><stop offset="0.3353" stop-color="#77edf6"/><stop offset="0.3422" stop-color="#7bf5fa"/><stop offset="0.4044" stop-color="#80ffff"/><stop offset="0.4343" stop-color="#80fefe"/><stop offset="0.4735" stop-color="#80f5fa"/><stop offset="0.4850" stop-color="#80eff7"/><stop offset="0.9988" stop-color="#807abd"/></linearGradient>
<linearGradient id="g312" x1="0" x2="1" y1="0" y2="0"><stop offset="0.0012" stop-color="#478ec7"/><stop offset="0.3353" stop-color="#78eff7"/><stop offset="0.3422" stop-color="#7cf7fb"/><stop offset="0.4113" stop-color="#80ffff"/><stop offset="0.4343" stop-color="#80fdfe"/><stop offset="0.4482" stop-color="#80f7fb"/><stop offset="0.4827" stop-color="#80f0f8"/><stop offset="0.5081" stop-color="#80e7f3"/><stop offset="0.9988" stop-color="#8078bc"/></linearGradient>
<linearGradient id="g313" x1="0" x2="1" y1="0" y2="0"><stop offset="0.0012" stop-color="#488fc7"/><stop offset="0.3329" stop-color="#77eef7"/><stop offset="0.3399" stop-color="#7df9fc"/><stop offset="0.4182" stop-color="#80ffff"/><stop offset="0.4343" stop-color="#80fdfe"/><stop offset="0.4435" stop-color="#80f6fb"/><stop offset="0.4850" stop-color="#80ecf6"/><stop offset="0.9988" stop-color="#8077bb"/></linearGradient>
<linearGradient id="g314" x1="0" x2="1" y1="0" y2="0"><stop offset="0.0012" stop-color="#4991c8"/><stop offset="0.3329" stop-color="#78f0f7"/><stop offset="0.3399" stop-color="#7efbfd"/><stop offset="0.4297" stop-color="#80fefe"/><stop offset="0.4435" stop-color="#80f5fa"/><stop offset="0.9988" stop-color="#8076bb"/></linearGradient>
<linearGradient id="g315" x1="0" x2="1" y1="0" y2="0"><stop offset="0.0012" stop-color="#4992c9"/><stop offset="0.2869" stop-color="#73e5f2"/><stop offset="0.3353" stop-color="#7bf4fa"/><stop offset="0.3399" stop-color="#7efcfd"/><stop offset="0.4320" stop-color="#80fdfe"/><stop offset="0.4412" stop-color="#80f4fa"/><stop offset="0.9988" stop-color="#8075ba"/></linearGradient>
<linearGradient id="g316" x1="0" x2="1" y1="0" y2="0"><stop offset="0.0012" stop-color="#4a93c9"/><stop offset="0.2846" stop-color="#73e4f2"/><stop offset="0.3053" stop-color="#77ecf6"/><stop offset="0.3353" stop-color="#7bf6fa"/><stop offset="0.3422" stop-color="#7ffdfe"/><stop offset="0.4320" stop-color="#80fcfe"/><stop offset="0.4412" stop-color="#80f3f9"/><stop offset="0.9988" stop-color="#8074ba"/></linearGradient>
<linearGradient id="g317" x1="0" x2="1" y1="0" y2="0"><stop offset="0.0012" stop-color="#4a94ca"/><stop offset="0.2846" stop-color="#73e6f2"/><stop offset="0.2961" stop-color="#77edf6"/><stop offset="0.3353" stop-color="#7cf7fb"/><stop offset="0.3422" stop-color="#7ffefe"/><stop offset="0.4320" stop-color="#80fbfd"/><stop offset="0.4412" stop-color="#80f1f8"/><stop offset="0.9988" stop-color="#8073b9"/></linearGradient>
<linearGradient id="g318" x1="0" x2="1" y1="0" y2="0"><stop offset="0.0012" stop-color="#4b95ca"/><stop offset="0.2846" stop-color="#74e8f3"/><stop offset="0.2915" stop-color="#78eef7"/><stop offset="0.3353" stop-color="#7df9fc"/><stop offset="0.3422" stop-color="#80feff"/><stop offset="0.4297" stop-color="#80fafc"/><stop offset="0.4435" stop-color="#80f0f7"/><stop offset="0.9988" stop-color="#8071b8"/></linearGradient>
<linearGradient id="g319" x1="0" x2="1" y1="0" y2="0"><stop offset="0.0012" stop-color="#4c97cb"/><stop offset="0.2846" stop-color="#75e9f4"/><stop offset="0.2915" stop-color="#79f1f8"/><stop offset="0.3353" stop-color="#7efafd"/><stop offset="0.3468" stop-color="#80ffff"/><stop offset="0.4090" stop-color="#80fbfd"/><stop offset="0.4343" stop-color="#80f6fa"/><stop offset="0.4435" stop-color="#80eef7"/><stop offset="0.9988" stop-color="#8070b8"/></linearGradient>
<linearGradient id="g320" x1="0" x2="1" y1="0" y2="0"><stop offset="0.0012" stop-color="#4c98cc"/><stop offset="0.2846" stop-color="#76ebf5"/><stop offset="0.2892" stop-color="#7af4f9"/><stop offset="0.3376" stop-color="#7ffefe"/><stop offset="0.3859" stop-color="#80fdfe"/><stop offset="0.4343" stop-color="#80f4f9"/><stop offset="0.4435" stop-color="#80edf6"/><stop offset="0.9988" stop-color="#806fb7"/></linearGradient>
<linearGradient id="g321" x1="0" x2="1" y1="0" y2="0"><stop offset="0.0012" stop-color="#4d99cc"/><stop offset="0.2823" stop-color="#75eaf4"/><stop offset="0.2892" stop-color="#7cf6fb"/><stop offset="0.3606" stop-color="#80ffff"/><stop offset="0.3859" stop-color="#80fcfd"/><stop offset="0.4343" stop-color="#80f2f9"/><stop offset="0.4482" stop-color="#80ebf5"/><stop offset="0.9988" stop-color="#806eb7"/></linearGradient>
<linearGradient id="g322" x1="0" x2="1" y1="0" y2="0"><stop offset="0.0012" stop-color="#4e9bcd"/><stop offset="0.2823" stop-color="#76ebf5"/><stop offset="0.2892" stop-color="#7df9fc"/><stop offset="0.3721" stop-color="#80ffff"/><stop offset="0.3836" stop-color="#80fdfe"/><stop offset="0.3998" stop-color="#80f7fb"/><stop offset="0.4343" stop-color="#80f0f8"/><stop offset="0.4597" stop-color="#80e7f3"/><stop offset="0.9988" stop-color="#806cb6"/></linearGradient>
<linearGradient id="g323" x1="0" x2="1" y1="0" y2="0"><stop offset="0.0012" stop-color="#4e9cce"/><stop offset="0.2823" stop-color="#77edf6"/><stop offset="0.2892" stop-color="#7efafd"/><stop offset="0.3813" stop-color="#80feff"/><stop offset="0.3929" stop-color="#80f7fb"/><stop offset="0.4366" stop-color="#80ecf5"/><stop offset="0.9988" stop-color="#806bb5"/></linearGradient>
<linearGradient id="g324" x1="0" x2="1" y1="0" y2="0"><stop offset="0.0012" stop-color="#4f9ecf"/><stop offset="0.2823" stop-color="#78eff7"/><stop offset="0.2892" stop-color="#7efcfd"/><stop offset="0.3813" stop-color="#80fefe"/><stop offset="0.3906" stop-color="#80f5fa"/><stop offset="0.9988" stop-color="#806ab5"/></linearGradient>
<linearGradient id="g325" x1="0" x2="1" y1="0" y2="0"><stop offset="0.0012" stop-color="#509fcf"/><stop offset="0.2823" stop-color="#79f1f8"/><stop offset="0.2892" stop-color="#7ffdfe"/><stop offset="0.3813" stop-color="#80fdfe"/><stop offset="0.3906" stop-color="#80f4f9"/><stop offset="0.9988" stop-color="#8068b4"/></linearGradient>
<linearGradient id="g326" x1="0" x2="1" y1="0" y2="0"><stop offset="0.0012" stop-color="#51a1d0"/><stop offset="0.2823" stop-color="#7af3f9"/><stop offset="0.2892" stop-color="#7ffefe"/><stop offset="0.3813" stop-color="#80fdfe"/><stop offset="0.3906" stop-color="#80f2f9"/><stop offset="0.9988" stop-color="#8067b3"/></linearGradient>
<linearGradient id="g327" x1="0" x2="1" y1="0" y2="0"><stop offset="0.0012" stop-color="#52a3d1"/><stop offset="0.2385" stop-color="#75e9f4"/><stop offset="0.2846" stop-color="#7cf7fb"/><stop offset="0.2915" stop-color="#80feff"/><stop offset="0.3813" stop-color="#80fbfd"/><stop offset="0.3906" stop-color="#80f1f8"/><stop offset="0.9988" stop-color="#8065b2"/></linearGradient>
<linearGradient id="g328" x1="0" x2="1" y1="0" y2="0"><stop offset="0.0012" stop-color="#52a4d2"/><stop offset="0.2362" stop-color="#75e8f4"/><stop offset="0.2546" stop-color="#78f0f8"/><stop offset="0.2846" stop-color="#7df9fc"/><stop offset="0.2915" stop-color="#80ffff"/><stop offset="0.3813" stop-color="#80fafc"/><stop offset="0.3906" stop-color="#80eff7"/><stop offset="0.9988" stop-color="#8063b2"/></linearGradient>
<linearGradient id="g329" x1="0" x2="1" y1="0" y2="0"><stop offset="0.0012" stop-color="#53a6d3"/><stop offset="0.2362" stop-color="#76eaf5"/><stop offset="0.2477" stop-color="#79f1f8"/><stop offset="0.2846" stop-color="#7efafd"/><stop offset="0.2938" stop-color="#80ffff"/><stop offset="0.3491" stop-color="#80fbfd"/><stop offset="0.3836" stop-color="#80f6fa"/><stop offset="0.3906" stop-color="#80eef6"/><stop offset="0.9988" stop-color="#8062b1"/></linearGradient>
<linearGradient id="g330" x1="0" x2="1" y1="0" y2="0"><stop offset="0.0012" stop-color="#54a7d3"/><stop offset="0.2362" stop-color="#77ecf6"/><stop offset="0.2454" stop-color="#7af3f9"/><stop offset="0.2869" stop-color="#7ffefe"/><stop offset="0.3353" stop-color="#80fefe"/><stop offset="0.3836" stop-color="#80f4f9"/><stop offset="0.3906" stop-color="#80ecf6"/><stop offset="0.9988" stop-color="#8060b0"/></linearGradient>
<linearGradient id="g331" x1="0" x2="1" y1="0" y2="0"><stop offset="0.0012" stop-color="#55a9d4"/><stop offset="0.2362" stop-color="#77eef7"/><stop offset="0.2431" stop-color="#7bf5fa"/><stop offset="0.3053" stop-color="#80ffff"/><stop offset="0.3353" stop-color="#80fdfe"/><stop offset="0.3560" stop-color="#80f7fb"/><stop offset="0.3836" stop-color="#80f1f8"/><stop offset="0.3929" stop-color="#80eaf5"/><stop offset="0.9988" stop-color="#805faf"/></linearGradient>
<linearGradient id="g332" x1="0" x2="1" y1="0" y2="0"><stop offset="0.0012" stop-color="#55aad5"/><stop offset="0.2362" stop-color="#78f0f7"/><stop offset="0.2431" stop-color="#7cf8fb"/><stop offset="0.3122" stop-color="#80ffff"/><stop offset="0.3353" stop-color="#80fdfe"/><stop offset="0.3468" stop-color="#80f7fb"/><stop offset="0.3836" stop-color="#80eff7"/><stop offset="0.3952" stop-color="#80e9f4"/><stop offset="0.9988" stop-color="#805eaf"/></linearGradient>
<linearGradient id="g333" x1="0" x2="1" y1="0" y2="0"><stop offset="0.0012" stop-color="#56acd5"/><stop offset="0.2362" stop-color="#79f1f8"/><stop offset="0.2408" stop-color="#7df9fc"/><stop offset="0.3168" stop-color="#80feff"/><stop offset="0.3353" stop-color="#80fcfe"/><stop offset="0.3445" stop-color="#80f5fa"/><stop offset="0.3836" stop-color="#80edf6"/><stop offset="0.4067" stop-color="#80e5f2"/><stop offset="0.9988" stop-color="#805cae"/></linearGradient>
<linearGradient id="g334" x1="0" x2="1" y1="0" y2="0"><stop offset="0.0012" stop-color="#57add6"/><stop offset="0.2362" stop-color="#7af3f9"/><stop offset="0.2408" stop-color="#7efbfd"/><stop offset="0.3260" stop-color="#80fefe"/><stop offset="0.3353" stop-color="#80fbfd"/><stop offset="0.3422" stop-color="#80f4fa"/><stop offset="0.3859" stop-color="#80e9f4"/><stop offset="0.9988" stop-color="#805bad"/></linearGradient>
<linearGradient id="g335" x1="0" x2="1" y1="0" y2="0"><stop offset="0.0012" stop-color="#57aed7"/><stop offset="0.2362" stop-color="#7bf4fa"/><stop offset="0.2408" stop-color="#7ffcfe"/><stop offset="0.3306" stop-color="#80fdfe"/><stop offset="0.3445" stop-color="#80f2f9"/><stop offset="0.9988" stop-color="#805aad"/></linearGradient>
<linearGradient id="g336" x1="0" x2="1" y1="0" y2="0"><stop offset="0.0012" stop-color="#58afd7"/><stop offset="0.2362" stop-color="#7bf5fa"/><stop offset="0.2408" stop-color="#7ffdfe"/><stop offset="0.3283" stop-color="#80fcfd"/><stop offset="0.3353" stop-color="#80f9fc"/><stop offset="0.3422" stop-color="#80f2f8"/><stop offset="0.9988" stop-color="#8059ac"/></linearGradient>
<linearGradient id="g337" x1="0" x2="1" y1="0" y2="0"><stop offset="0.0012" stop-color="#58b0d8"/><stop offset="0.2362" stop-color="#7cf6fb"/><stop offset="0.2408" stop-color="#7ffefe"/><stop offset="0.3191" stop-color="#80fbfd"/><stop offset="0.3353" stop-color="#80f8fb"/><stop offset="0.3422" stop-color="#80f0f8"/><stop offset="0.9988" stop-color="#8058ac"/></linearGradient>
<linearGradient id="g338" x1="0" x2="1" y1="0" y2="0"><stop offset="0.0012" stop-color="#59b1d8"/><stop offset="0.2362" stop-color="#7cf7fb"/><stop offset="0.2431" stop-color="#80feff"/><stop offset="0.3076" stop-color="#80fbfd"/><stop offset="0.3353" stop-color="#80f6fb"/><stop offset="0.3422" stop-color="#80eff7"/><stop offset="0.9988" stop-color="#8057ab"/></linearGradient>
<linearGradient id="g339" x1="0" x2="1" y1="0" y2="0"><stop offset="0.0012" stop-color="#59b2d9"/><stop offset="0.2362" stop-color="#7cf8fb"/><stop offset="0.2431" stop-color="#80ffff"/><stop offset="0.2915" stop-color="#80fcfd"/><stop offset="0.3353" stop-color="#80f4fa"/><stop offset="0.3445" stop-color="#80eef6"/><stop offset="0.9988" stop-color="#8056ab"/></linearGradient>
<linearGradient id="g340" x1="0" x2="1" y1="0" y2="0"><stop offset="0.0012" stop-color="#5ab3d9"/><stop offset="0.2362" stop-color="#7df9fc"/><stop offset="0.2431" stop-color="#80ffff"/><stop offset="0.2869" stop-color="#80fcfe"/><stop offset="0.3353" stop-color="#80f3f9"/><stop offset="0.3491" stop-color="#80ecf5"/><stop offset="0.9988" stop-color="#8055aa"/></linearGradient>
<linearGradient id="g341" x1="0" x2="1" y1="0" y2="0"><stop offset="0.0012" stop-color="#5ab4da"/><stop offset="0.2362" stop-color="#7dfafc"/><stop offset="0.2454" stop-color="#80ffff"/><stop offset="0.2846" stop-color="#80fefe"/><stop offset="0.3353" stop-color="#80f1f8"/><stop offset="0.3629" stop-color="#80e8f3"/><stop offset="0.9988" stop-color="#8054aa"/></linearGradient>
<linearGradient id="g342" x1="0" x2="1" y1="0" y2="0"><stop offset="0.0012" stop-color="#5bb5da"/><stop offset="0.2362" stop-color="#7efafd"/><stop offset="0.2477" stop-color="#80ffff"/><stop offset="0.2846" stop-color="#80fdfe"/><stop offset="0.3007" stop-color="#80f7fb"/><stop offset="0.3376" stop-color="#80edf6"/><stop offset="0.9988" stop-color="#8053aa"/></linearGradient>
<linearGradient id="g343" x1="0" x2="1" y1="0" y2="0"><stop offset="0.0012" stop-color="#5bb6db"/><stop offset="0.2385" stop-color="#7ffefe"/><stop offset="0.2846" stop-color="#80fdfe"/><stop offset="0.2961" stop-color="#80f7fb"/><stop offset="0.9988" stop-color="#8053a9"/></linearGradient>
<linearGradient id="g344" x1="0" x2="1" y1="0" y2="0"><stop offset="0.0012" stop-color="#5cb7db"/><stop offset="0.2500" stop-color="#80ffff"/><stop offset="0.2846" stop-color="#80fdfe"/><stop offset="0.2938" stop-color="#80f6fb"/><stop offset="0.9988" stop-color="#8052a9"/></linearGradient>
<linearGradient id="g345" x1="0" x2="1" y1="0" y2="0"><stop offset="0.0012" stop-color="#5cb8db"/><stop offset="0.1878" stop-color="#78f0f7"/><stop offset="0.2500" stop-color="#80ffff"/><stop offset="0.2846" stop-color="#80fcfe"/><stop offset="0.2938" stop-color="#80f5fa"/><stop offset="0.9988" stop-color="#8051a8"/></linearGradient>
<linearGradient id="g346" x1="0" x2="1" y1="0" y2="0"><stop offset="0.0012" stop-color="#5db8dc"/><stop offset="0.1855" stop-color="#78eff7"/><stop offset="0.2131" stop-color="#7cf8fb"/><stop offset="0.2546" stop-color="#80ffff"/><stop offset="0.2846" stop-color="#80fbfd"/><stop offset="0.2938" stop-color="#80f4fa"/><stop offset="0.9988" stop-color="#8050a8"/></linearGradient>
<linearGradient id="g347" x1="0" x2="1" y1="0" y2="0"><stop offset="0.0012" stop-color="#5db9dc"/><stop offset="0.1855" stop-color="#78f0f7"/><stop offset="0.1993" stop-color="#7cf7fb"/><stop offset="0.2523" stop-color="#80feff"/><stop offset="0.2846" stop-color="#80fbfd"/><stop offset="0.2938" stop-color="#80f3f9"/><stop offset="0.9988" stop-color="#804fa7"/></linearGradient>
<linearGradient id="g348" x1="0" x2="1" y1="0" y2="0"><stop offset="0.0012" stop-color="#5dbadd"/><stop offset="0.1855" stop-color="#79f1f8"/><stop offset="0.1947" stop-color="#7cf7fb"/><stop offset="0.2523" stop-color="#80fefe"/><stop offset="0.2846" stop-color="#80fafc"/><stop offset="0.2938" stop-color="#80f2f9"/><stop offset="0.9988" stop-color="#804ea7"/></linearGradient>
<linearGradient id="g349" x1="0" x2="1" y1="0" y2="0"><stop offset="0.0012" stop-color="#5ebbdd"/><stop offset="0.1855" stop-color="#7af2f9"/><stop offset="0.1924" stop-color="#7df9fc"/><stop offset="0.2500" stop-color="#80fefe"/><stop offset="0.2846" stop-color="#80f8fc"/><stop offset="0.2938" stop-color="#80f2f8"/><stop offset="0.9988" stop-color="#804ea7"/></linearGradient>
<linearGradient id="g350" x1="0" x2="1" y1="0" y2="0"><stop offset="0.0012" stop-color="#5ebcde"/><stop offset="0.1855" stop-color="#7af3f9"/><stop offset="0.1924" stop-color="#7efafd"/><stop offset="0.2477" stop-color="#80fdfe"/><stop offset="0.2846" stop-color="#80f7fb"/><stop offset="0.2961" stop-color="#80f0f8"/><stop offset="0.9988" stop-color="#804da6"/></linearGradient>
<linearGradient id="g351" x1="0" x2="1" y1="0" y2="0"><stop offset="0.0012" stop-color="#5fbdde"/><stop offset="0.1855" stop-color="#7bf4fa"/><stop offset="0.1924" stop-color="#7efcfd"/><stop offset="0.2454" stop-color="#80fdfe"/><stop offset="0.2846" stop-color="#80f6fa"/><stop offset="0.3030" stop-color="#80eef7"/><stop offset="0.9988" stop-color="#804ca6"/></linearGradient>
<linearGradient id="g352" x1="0" x2="1" y1="0" y2="0"><stop offset="0.0012" stop-color="#5fbdde"/><stop offset="0.1855" stop-color="#7bf5fa"/><stop offset="0.1924" stop-color="#7ffdfe"/><stop offset="0.2431" stop-color="#80fcfe"/><stop offset="0.2846" stop-color="#80f4fa"/><stop offset="0.3721" stop-color="#80ddee"/><stop offset="0.9988" stop-color="#804ba6"/></linearGradient>
<linearGradient id="g353" x1="0" x2="1" y1="0" y2="0"><stop offset="0.0012" stop-color="#5fbedf"/><stop offset="0.1855" stop-color="#7bf6fa"/><stop offset="0.1924" stop-color="#7ffdfe"/><stop offset="0.2408" stop-color="#80fcfe"/><stop offset="0.2869" stop-color="#80f1f8"/><stop offset="0.9988" stop-color="#804ba5"/></linearGradient>
<linearGradient id="g354" x1="0" x2="1" y1="0" y2="0"><stop offset="0.0012" stop-color="#60bfdf"/><stop offset="0.1855" stop-color="#7cf7fb"/><stop offset="0.1924" stop-color="#7ffefe"/><stop offset="0.2385" stop-color="#80fcfe"/><stop offset="0.9988" stop-color="#804aa5"/></linearGradient>
<linearGradient id="g355" x1="0" x2="1" y1="0" y2="0"><stop offset="0.0012" stop-color="#60c0df"/><stop offset="0.1855" stop-color="#7cf7fb"/><stop offset="0.1924" stop-color="#80feff"/><stop offset="0.2362" stop-color="#80fefe"/><stop offset="0.9988" stop-color="#8049a5"/></linearGradient>
<linearGradient id="g356" x1="0" x2="1" y1="0" y2="0"><stop offset="0.0012" stop-color="#61c0e0"/><stop offset="0.1855" stop-color="#7cf8fb"/><stop offset="0.1924" stop-color="#80ffff"/><stop offset="0.2362" stop-color="#80fefe"/><stop offset="0.3237" stop-color="#80e6f3"/><stop offset="0.9988" stop-color="#8049a4"/></linearGradient>
<linearGradient id="g357" x1="0" x2="1" y1="0" y2="0"><stop offset="0.0012" stop-color="#61c1e0"/><stop offset="0.1855" stop-color="#7df9fc"/><stop offset="0.1924" stop-color="#80ffff"/><stop offset="0.2362" stop-color="#80fdfe"/><stop offset="0.2546" stop-color="#80f6fb"/><stop offset="0.9988" stop-color="#8048a4"/></linearGradient>
<linearGradient id="g358" x1="0" x2="1" y1="0" y2="0"><stop offset="0.0012" stop-color="#61c2e1"/><stop offset="0.1855" stop-color="#7df9fc"/><stop offset="0.1924" stop-color="#80ffff"/><stop offset="0.2362" stop-color="#80fdfe"/><stop offset="0.2500" stop-color="#80f6fb"/><stop offset="0.9988" stop-color="#8047a3"/></linearGradient>
<linearGradient id="g359" x1="0" x2="1" y1="0" y2="0"><stop offset="0.0012" stop-color="#62c2e1"/><stop offset="0.1855" stop-color="#7dfafc"/><stop offset="0.1947" stop-color="#80ffff"/><stop offset="0.2362" stop-color="#80fdfe"/><stop offset="0.2477" stop-color="#80f6fb"/><stop offset="0.9988" stop-color="#8047a3"/></linearGradient>
<linearGradient id="g360" x1="0" x2="1" y1="0" y2="0"><stop offset="0.0012" stop-color="#62c3e1"/><stop offset="0.1855" stop-color="#7efafd"/><stop offset="0.1970" stop-color="#80ffff"/><stop offset="0.2362" stop-color="#80fdfe"/><stop offset="0.2454" stop-color="#80f6fb"/><stop offset="0.9988" stop-color="#8046a3"/></linearGradient>
<linearGradient id="g361" x1="0" x2="1" y1="0" y2="0"><stop offset="0.0012" stop-color="#62c4e2"/><stop offset="0.1855" stop-color="#7efbfd"/><stop offset="0.2016" stop-color="#80ffff"/><stop offset="0.2362" stop-color="#80fdfe"/><stop offset="0.2454" stop-color="#80f5fa"/><stop offset="0.9988" stop-color="#8045a2"/></linearGradient>
<linearGradient id="g362" x1="0" x2="1" y1="0" y2="0"><stop offset="0.0012" stop-color="#63c5e2"/><stop offset="0.1993" stop-color="#80ffff"/><stop offset="0.2362" stop-color="#80fcfe"/><stop offset="0.2454" stop-color="#80f5fa"/><stop offset="0.9988" stop-color="#8045a2"/></linearGradient>
<linearGradient id="g363" x1="0" x2="1" y1="0" y2="0"><stop offset="0.0012" stop-color="#63c5e2"/><stop offset="0.1970" stop-color="#80ffff"/><stop offset="0.2362" stop-color="#80fcfd"/><stop offset="0.2454" stop-color="#80f4fa"/><stop offset="0.9988" stop-color="#8044a2"/></linearGradient>
<linearGradient id="g364" x1="0" x2="1" y1="0" y2="0"><stop offset="0.0012" stop-color="#63c6e3"/><stop offset="0.1394" stop-color="#79f1f8"/><stop offset="0.2016" stop-color="#80ffff"/><stop offset="0.2362" stop-color="#80fbfd"/><stop offset="0.2454" stop-color="#80f4f9"/><stop offset="0.9988" stop-color="#8043a1"/></linearGradient>
<linearGradient id="g365" x1="0" x2="1" y1="0" y2="0"><stop offset="0.0012" stop-color="#64c7e3"/><stop offset="0.1371" stop-color="#78f0f7"/><stop offset="0.1532" stop-color="#7cf6fb"/><stop offset="0.2016" stop-color="#80feff"/><stop offset="0.2362" stop-color="#80fafd"/><stop offset="0.2454" stop-color="#80f3f9"/><stop offset="0.9988" stop-color="#8042a1"/></linearGradient>
<linearGradient id="g366" x1="0" x2="1" y1="0" y2="0"><stop offset="0.0012" stop-color="#64c8e3"/><stop offset="0.1371" stop-color="#79f1f8"/><stop offset="0.1463" stop-color="#7cf7fb"/><stop offset="0.2016" stop-color="#80fefe"/><stop offset="0.2362" stop-color="#80f9fc"/><stop offset="0.2454" stop-color="#80f2f9"/><stop offset="0.9988" stop-color="#8042a1"/></linearGradient>
<linearGradient id="g367" x1="0" x2="1" y1="0" y2="0"><stop offset="0.0012" stop-color="#65c8e4"/><stop offset="0.1371" stop-color="#79f2f8"/><stop offset="0.1463" stop-color="#7df8fc"/><stop offset="0.1993" stop-color="#80fefe"/><stop offset="0.2362" stop-color="#80f8fb"/><stop offset="0.2477" stop-color="#80f1f8"/><stop offset="0.9988" stop-color="#8041a0"/></linearGradient>
<linearGradient id="g368" x1="0" x2="1" y1="0" y2="0"><stop offset="0.0012" stop-color="#65c9e4"/><stop offset="0.1371" stop-color="#7af3f9"/><stop offset="0.1440" stop-color="#7dfafc"/><stop offset="0.1970" stop-color="#80fdfe"/><stop offset="0.2362" stop-color="#80f7fb"/><stop offset="0.2546" stop-color="#80eff7"/><stop offset="0.9988" stop-color="#8040a0"/></linearGradient>
<linearGradient id="g369" x1="0" x2="1" y1="0" y2="0"><stop offset="0.0012" stop-color="#65cae4"/><stop offset="0.1371" stop-color="#7af4f9"/><stop offset="0.1440" stop-color="#7efbfd"/><stop offset="0.1947" stop-color="#80fdfe"/><stop offset="0.2362" stop-color="#80f5fa"/><stop offset="0.2938" stop-color="#80e5f2"/><stop offset="0.9988" stop-color="#8040a0"/></linearGradient>
<linearGradient id="g370" x1="0" x2="1" y1="0" y2="0"><stop offset="0.0012" stop-color="#66cae5"/><stop offset="0.1371" stop-color="#7bf4fa"/><stop offset="0.1440" stop-color="#7ffcfe"/><stop offset="0.1924" stop-color="#80fdfe"/><stop offset="0.2385" stop-color="#80f2f9"/><stop offset="0.9988" stop-color="#803f9f"/></linearGradient>
<linearGradient id="g371" x1="0" x2="1" y1="0" y2="0"><stop offset="0.0012" stop-color="#66cbe5"/><stop offset="0.1371" stop-color="#7bf5fa"/><stop offset="0.1440" stop-color="#7ffdfe"/><stop offset="0.1924" stop-color="#80fcfe"/><stop offset="0.9988" stop-color="#803e9f"/></linearGradient>
<linearGradient id="g372" x1="0" x2="1" y1="0" y2="0"><stop offset="0.0012" stop-color="#66cce6"/><stop offset="0.1371" stop-color="#7cf6fb"/><stop offset="0.1440" stop-color="#7ffefe"/><stop offset="0.1878" stop-color="#80fdfe"/><stop offset="0.9988" stop-color="#803d9f"/></linearGradient>
<linearGradient id="g373" x1="0" x2="1" y1="0" y2="0"><stop offset="0.0012" stop-color="#67cde6"/><stop offset="0.1371" stop-color="#7cf7fb"/><stop offset="0.1440" stop-color="#80feff"/><stop offset="0.1878" stop-color="#80fcfe"/><stop offset="0.9988" stop-color="#803d9e"/></linearGradient>
<linearGradient id="g374" x1="0" x2="1" y1="0" y2="0"><stop offset="0.0012" stop-color="#67cee6"/><stop offset="0.1371" stop-color="#7cf8fb"/><stop offset="0.1440" stop-color="#80feff"/><stop offset="0.1855" stop-color="#80fefe"/><stop offset="0.9988" stop-color="#803c9e"/></linearGradient>
<linearGradient id="g375" x1="0" x2="1" y1="0" y2="0"><stop offset="0.0012" stop-color="#68cee7"/><stop offset="0.1371" stop-color="#7df8fc"/><stop offset="0.1440" stop-color="#80ffff"/><stop offset="0.1855" stop-color="#80fefe"/><stop offset="0.2477" stop-color="#80ecf6"/><stop offset="0.9988" stop-color="#803b9e"/></linearGradient>
<linearGradient id="g376" x1="0" x2="1" y1="0" y2="0"><stop offset="0.0012" stop-color="#68cfe7"/><stop offset="0.1371" stop-color="#7df9fc"/><stop offset="0.1440" stop-color="#80ffff"/><stop offset="0.1855" stop-color="#80fefe"/><stop offset="0.2039" stop-color="#80f6fa"/><stop offset="0.9988" stop-color="#803a9d"/></linearGradient>
<linearGradient id="g377" x1="0" x2="1" y1="0" y2="0"><stop offset="0.0012" stop-color="#68d0e8"/><stop offset="0.1371" stop-color="#7dfafc"/><stop offset="0.1463" stop-color="#80ffff"/><stop offset="0.1855" stop-color="#80fdfe"/><stop offset="0.1993" stop-color="#80f6fb"/><stop offset="0.9988" stop-color="#803a9d"/></linearGradient>
<linearGradient id="g378" x1="0" x2="1" y1="0" y2="0"><stop offset="0.0012" stop-color="#69d1e8"/><stop offset="0.1371" stop-color="#7efafd"/><stop offset="0.1463" stop-color="#80ffff"/><stop offset="0.1855" stop-color="#80fdfe"/><stop offset="0.1970" stop-color="#80f6fb"/><stop offset="0.9988" stop-color="#80399c"/></linearGradient>
<linearGradient id="g379" x1="0" x2="1" y1="0" y2="0"><stop offset="0.0012" stop-color="#69d2e8"/><stop offset="0.1371" stop-color="#7efbfd"/><stop offset="0.1532" stop-color="#80ffff"/><stop offset="0.1855" stop-color="#80fdfe"/><stop offset="0.1947" stop-color="#80f6fa"/><stop offset="0.9988" stop-color="#80389c"/></linearGradient>
<linearGradient id="g380" x1="0" x2="1" y1="0" y2="0"><stop offset="0.0012" stop-color="#6ad2e9"/><stop offset="0.1509" stop-color="#80ffff"/><stop offset="0.1855" stop-color="#80fcfe"/><stop offset="0.1947" stop-color="#80f5fa"/><stop offset="0.9988" stop-color="#80379c"/></linearGradient>
<linearGradient id="g381" x1="0" x2="1" y1="0" y2="0"><stop offset="0.0012" stop-color="#6ad3e9"/><stop offset="0.0887" stop-color="#78eff7"/><stop offset="0.1509" stop-color="#80ffff"/><stop offset="0.1855" stop-color="#80fcfd"/><stop offset="0.1947" stop-color="#80f4fa"/><stop offset="0.9988" stop-color="#80379b"/></linearGradient>
<linearGradient id="g382" x1="0" x2="1" y1="0" y2="0"><stop offset="0.0012" stop-color="#6ad4ea"/><stop offset="0.0864" stop-color="#77eef7"/><stop offset="0.1094" stop-color="#7cf6fb"/><stop offset="0.1555" stop-color="#80ffff"/><stop offset="0.1855" stop-color="#80fbfd"/><stop offset="0.1947" stop-color="#80f4f9"/><stop offset="0.9988" stop-color="#80369b"/></linearGradient>
<linearGradient id="g383" x1="0" x2="1" y1="0" y2="0"><stop offset="0.0012" stop-color="#6bd5ea"/><stop offset="0.0864" stop-color="#78eff7"/><stop offset="0.0979" stop-color="#7bf6fa"/><stop offset="0.1532" stop-color="#80feff"/><stop offset="0.1855" stop-color="#80fafd"/><stop offset="0.1947" stop-color="#80f3f9"/><stop offset="0.9988" stop-color="#80359a"/></linearGradient>
<linearGradient id="g384" x1="0" x2="1" y1="0" y2="0"><stop offset="0.0012" stop-color="#6bd6ea"/><stop offset="0.0864" stop-color="#79f0f8"/><stop offset="0.0956" stop-color="#7cf7fb"/><stop offset="0.1532" stop-color="#80fefe"/><stop offset="0.1855" stop-color="#80f9fc"/><stop offset="0.1947" stop-color="#80f2f9"/><stop offset="0.9988" stop-color="#80349a"/></linearGradient>
<linearGradient id="g385" x1="0" x2="1" y1="0" y2="0"><stop offset="0.0012" stop-color="#6cd6eb"/><stop offset="0.0864" stop-color="#79f1f8"/><stop offset="0.0933" stop-color="#7df8fc"/><stop offset="0.1509" stop-color="#80fefe"/><stop offset="0.1855" stop-color="#80f8fc"/><stop offset="0.1970" stop-color="#80f1f8"/><stop offset="0.9988" stop-color="#80349a"/></linearGradient>
<linearGradient id="g386" x1="0" x2="1" y1="0" y2="0"><stop offset="0.0012" stop-color="#6cd7eb"/><stop offset="0.0864" stop-color="#7af2f9"/><stop offset="0.0933" stop-color="#7dfafc"/><stop offset="0.1486" stop-color="#80fdfe"/><stop offset="0.1855" stop-color="#80f7fb"/><stop offset="0.1993" stop-color="#80f0f8"/><stop offset="0.9988" stop-color="#803399"/></linearGradient>
<linearGradient id="g387" x1="0" x2="1" y1="0" y2="0"><stop offset="0.0012" stop-color="#6cd8ec"/><stop offset="0.0864" stop-color="#7af3f9"/><stop offset="0.0933" stop-color="#7efbfd"/><stop offset="0.1463" stop-color="#80fdfe"/><stop offset="0.1855" stop-color="#80f6fa"/><stop offset="0.2108" stop-color="#80edf6"/><stop offset="0.9988" stop-color="#803299"/></linearGradient>
<linearGradient id="g388" x1="0" x2="1" y1="0" y2="0"><stop offset="0.0012" stop-color="#6dd9ec"/><stop offset="0.0864" stop-color="#7bf4fa"/><stop offset="0.0910" stop-color="#7ffcfe"/><stop offset="0.1440" stop-color="#80fdfe"/><stop offset="0.1878" stop-color="#80f2f9"/><stop offset="0.9988" stop-color="#803199"/></linearGradient>
<linearGradient id="g389" x1="0" x2="1" y1="0" y2="0"><stop offset="0.0012" stop-color="#6ddaec"/><stop offset="0.0864" stop-color="#7bf5fa"/><stop offset="0.0910" stop-color="#7ffdfe"/><stop offset="0.1417" stop-color="#80fcfe"/><stop offset="0.9988" stop-color="#803098"/></linearGradient>
<linearGradient id="g390" x1="0" x2="1" y1="0" y2="0"><stop offset="0.0012" stop-color="#6edbed"/><stop offset="0.0864" stop-color="#7bf6fb"/><stop offset="0.0910" stop-color="#7ffefe"/><stop offset="0.1394" stop-color="#80fdfe"/><stop offset="0.9988" stop-color="#803098"/></linearGradient>
<linearGradient id="g391" x1="0" x2="1" y1="0" y2="0"><stop offset="0.0012" stop-color="#6edbed"/><stop offset="0.0864" stop-color="#7cf7fb"/><stop offset="0.0910" stop-color="#7ffeff"/><stop offset="0.1371" stop-color="#80fefe"/><stop offset="0.9988" stop-color="#802f97"/></linearGradient>
<linearGradient id="g392" x1="0" x2="1" y1="0" y2="0"><stop offset="0.0012" stop-color="#6edcee"/><stop offset="0.0864" stop-color="#7cf7fb"/><stop offset="0.0933" stop-color="#80ffff"/><stop offset="0.1371" stop-color="#80fefe"/><stop offset="0.5104" stop-color="#80a2d1"/><stop offset="0.9988" stop-color="#802e97"/></linearGradient>
<linearGradient id="g393" x1="0" x2="1" y1="0" y2="0"><stop offset="0.0012" stop-color="#6fddee"/><stop offset="0.0864" stop-color="#7df8fc"/><stop offset="0.0933" stop-color="#80ffff"/><stop offset="0.1371" stop-color="#80fefe"/><stop offset="0.1601" stop-color="#80f5fa"/><stop offset="0.9988" stop-color="#802d97"/></linearGradient>
<linearGradient id="g394" x1="0" x2="1" y1="0" y2="0"><stop offset="0.0012" stop-color="#6fdeee"/><stop offset="0.0864" stop-color="#7df9fc"/><stop offset="0.0933" stop-color="#80ffff"/><stop offset="0.1371" stop-color="#80fdfe"/><stop offset="0.1509" stop-color="#80f6fb"/><stop offset="0.9988" stop-color="#802d96"/></linearGradient>
<linearGradient id="g395" x1="0" x2="1" y1="0" y2="0"><stop offset="0.0012" stop-color="#70deef"/><stop offset="0.0864" stop-color="#7df9fc"/><stop offset="0.0933" stop-color="#80ffff"/><stop offset="0.1371" stop-color="#80fdfe"/><stop offset="0.1486" stop-color="#80f6fb"/><stop offset="0.9988" stop-color="#802c96"/></linearGradient>
<linearGradient id="g396" x1="0" x2="1" y1="0" y2="0"><stop offset="0.0012" stop-color="#70dfef"/><stop offset="0.0864" stop-color="#7dfafc"/><stop offset="0.0956" stop-color="#80ffff"/><stop offset="0.1371" stop-color="#80fdfe"/><stop offset="0.1463" stop-color="#80f6fb"/><stop offset="0.9988" stop-color="#802b95"/></linearGradient>
<linearGradient id="g397" x1="0" x2="1" y1="0" y2="0"><stop offset="0.0012" stop-color="#70e0f0"/><stop offset="0.0864" stop-color="#7efafd"/><stop offset="0.0979" stop-color="#80ffff"/><stop offset="0.1371" stop-color="#80fdfe"/><stop offset="0.1463" stop-color="#80f5fa"/><stop offset="0.9988" stop-color="#802a95"/></linearGradient>
<linearGradient id="g398" x1="0" x2="1" y1="0" y2="0"><stop offset="0.0012" stop-color="#71e1f0"/><stop offset="0.0887" stop-color="#7ffdfe"/><stop offset="0.1371" stop-color="#80fcfe"/><stop offset="0.1463" stop-color="#80f5fa"/><stop offset="0.9988" stop-color="#802a95"/></linearGradient>
<linearGradient id="g399" x1="0" x2="1" y1="0" y2="0"><stop offset="0.0012" stop-color="#71e2f0"/><stop offset="0.1002" stop-color="#80ffff"/><stop offset="0.1371" stop-color="#80fcfd"/><stop offset="0.1463" stop-color="#80f4fa"/><stop offset="0.9988" stop-color="#802994"/></linearGradient>
<linearGradient id="g400" x1="0" x2="1" y1="0" y2="0"><stop offset="0.0012" stop-color="#72e2f1"/><stop offset="0.1002" stop-color="#80ffff"/><stop offset="0.1371" stop-color="#80fbfd"/><stop offset="0.1463" stop-color="#80f4f9"/><stop offset="0.9988" stop-color="#802894"/></linearGradient>
<linearGradient id="g401" x1="0" x2="1" y1="0" y2="0"><stop offset="0.0012" stop-color="#72e3f1"/><stop offset="0.0979" stop-color="#80ffff"/><stop offset="0.1371" stop-color="#80fafd"/><stop offset="0.1463" stop-color="#80f3f9"/><stop offset="0.9988" stop-color="#802894"/></linearGradient>
<linearGradient id="g402" x1="0" x2="1" y1="0" y2="0"><stop offset="0.0012" stop-color="#72e4f1"/><stop offset="0.0933" stop-color="#80ffff"/><stop offset="0.1371" stop-color="#80f9fc"/><stop offset="0.1463" stop-color="#80f2f9"/><stop offset="0.9988" stop-color="#802793"/></linearGradient>
<linearGradient id="g403" x1="0" x2="1" y1="0" y2="0"><stop offset="0.0012" stop-color="#73e5f2"/><stop offset="0.0795" stop-color="#7ffcfe"/><stop offset="0.1141" stop-color="#80fcfe"/><stop offset="0.1371" stop-color="#80f8fb"/><stop offset="0.1486" stop-color="#80f1f8"/><stop offset="0.9988" stop-color="#802693"/></linearGradient>
<linearGradient id="g404" x1="0" x2="1" y1="0" y2="0"><stop offset="0.0012" stop-color="#73e5f2"/><stop offset="0.0380" stop-color="#79f1f8"/><stop offset="0.0588" stop-color="#7df9fc"/><stop offset="0.0979" stop-color="#80fefe"/><stop offset="0.1371" stop-color="#80f7fb"/><stop offset="0.1555" stop-color="#80eff7"/><stop offset="0.9988" stop-color="#802593"/></linearGradient>
<linearGradient id="g405" x1="0" x2="1" y1="0" y2="0"><stop offset="0.0012" stop-color="#73e6f3"/><stop offset="0.0380" stop-color="#79f2f9"/><stop offset="0.0495" stop-color="#7df8fc"/><stop offset="0.0933" stop-color="#80fefe"/><stop offset="0.1371" stop-color="#80f6fa"/><stop offset="0.1993" stop-color="#80e4f1"/><stop offset="0.9988" stop-color="#802592"/></linearGradient>
<linearGradient id="g406" x1="0" x2="1" y1="0" y2="0"><stop offset="0.0012" stop-color="#74e7f3"/><stop offset="0.0380" stop-color="#7af3f9"/><stop offset="0.0472" stop-color="#7df9fc"/><stop offset="0.0933" stop-color="#80fdfe"/><stop offset="0.1394" stop-color="#80f2f9"/><stop offset="0.9988" stop-color="#802492"/></linearGradient>
<linearGradient id="g407" x1="0" x2="1" y1="0" y2="0"><stop offset="0.0012" stop-color="#74e7f3"/><stop offset="0.0380" stop-color="#7af4f9"/><stop offset="0.0449" stop-color="#7efafd"/><stop offset="0.0910" stop-color="#80fdfe"/><stop offset="0.9988" stop-color="#802492"/></linearGradient>
<linearGradient id="g408" x1="0" x2="1" y1="0" y2="0"><stop offset="0.0012" stop-color="#74e8f4"/><stop offset="0.0380" stop-color="#7bf5fa"/><stop offset="0.0449" stop-color="#7efcfd"/><stop offset="0.0887" stop-color="#80fdfe"/><stop offset="0.9988" stop-color="#802391"/></linearGradient>
<linearGradient id="g409" x1="0" x2="1" y1="0" y2="0"><stop offset="0.0012" stop-color="#75e9f4"/><stop offset="0.0380" stop-color="#7bf5fa"/><stop offset="0.0449" stop-color="#7ffdfe"/><stop offset="0.0887" stop-color="#80fdfe"/><stop offset="0.9988" stop-color="#802291"/></linearGradient>
<linearGradient id="g410" x1="0" x2="1" y1="0" y2="0"><stop offset="0.0012" stop-color="#75e9f4"/><stop offset="0.0380" stop-color="#7cf6fb"/><stop offset="0.0449" stop-color="#7ffdfe"/><stop offset="0.0887" stop-color="#80fcfe"/><stop offset="0.9988" stop-color="#802291"/></linearGradient>
<linearGradient id="g411" x1="0" x2="1" y1="0" y2="0"><stop offset="0.0012" stop-color="#75eaf4"/><stop offset="0.0380" stop-color="#7cf7fb"/><stop offset="0.0449" stop-color="#7ffefe"/><stop offset="0.0887" stop-color="#80fcfd"/><stop offset="0.9988" stop-color="#802190"/></linearGradient>
<linearGradient id="g412" x1="0" x2="1" y1="0" y2="0"><stop offset="0.0012" stop-color="#76ebf5"/><stop offset="0.0380" stop-color="#7cf7fb"/><stop offset="0.0449" stop-color="#80feff"/><stop offset="0.0864" stop-color="#80fefe"/><stop offset="0.9988" stop-color="#802090"/></linearGradient>
<linearGradient id="g413" x1="0" x2="1" y1="0" y2="0"><stop offset="0.0012" stop-color="#76ebf5"/><stop offset="0.0380" stop-color="#7cf8fb"/><stop offset="0.0449" stop-color="#80ffff"/><stop offset="0.0864" stop-color="#80fefe"/><stop offset="0.1348" stop-color="#80eff7"/><stop offset="0.9988" stop-color="#802090"/></linearGradient>
<linearGradient id="g414" x1="0" x2="1" y1="0" y2="0"><stop offset="0.0012" stop-color="#76ecf5"/><stop offset="0.0380" stop-color="#7df8fc"/><stop offset="0.0449" stop-color="#80ffff"/><stop offset="0.0864" stop-color="#80fefe"/><stop offset="0.1071" stop-color="#80f5fa"/><stop offset="0.9988" stop-color="#801f90"/></linearGradient>
<linearGradient id="g415" x1="0" x2="1" y1="0" y2="0"><stop offset="0.0012" stop-color="#77ecf6"/><stop offset="0.0380" stop-color="#7df9fc"/><stop offset="0.0449" stop-color="#80ffff"/><stop offset="0.0864" stop-color="#80fdfe"/><stop offset="0.1025" stop-color="#80f6fa"/><stop offset="0.9988" stop-color="#801f8f"/></linearGradient>
<linearGradient id="g416" x1="0" x2="1" y1="0" y2="0"><stop offset="0.0012" stop-color="#77edf6"/><stop offset="0.0380" stop-color="#7df9fc"/><stop offset="0.0449" stop-color="#80ffff"/><stop offset="0.0864" stop-color="#80fdfe"/><stop offset="0.1002" stop-color="#80f6fb"/><stop offset="0.9988" stop-color="#801e8f"/></linearGradient>
<linearGradient id="cba" x1="0" x2="0" y1="1" y2="0"><stop offset="0" stop-color="#000080"/><stop offset="0.472" stop-color="#00ffff"/><stop offset="1" stop-color="#800080"/></linearGradient>
<linearGradient id="cbb" x1="0" x2="0" y1="1" y2="0"><stop offset="0" stop-color="#000080"/><stop offset="0.472" stop-color="#80ffff"/><stop offset="1" stop-color="#800080"/></linearGradient>
<pattern id="band" x="0" y="0.3" width="20" height="3.05" patternUnits="userSpaceOnUse"><rect x="0" y="0" width="20" height="1" fill="#fff" fill-opacity="0.16"/></pattern>
<radialGradient id="sb" cx="0.5" cy="0.5" r="0.5" fx="0.36" fy="0.32"><stop offset="0" stop-color="#ffffff"/><stop offset="0.18" stop-color="#c0c0c0"/><stop offset="0.45" stop-color="#282828"/><stop offset="1" stop-color="#000"/></radialGradient>
<radialGradient id="sr" cx="0.5" cy="0.5" r="0.5" fx="0.36" fy="0.32"><stop offset="0" stop-color="#fff4f4"/><stop offset="0.18" stop-color="#ff9c9c"/><stop offset="0.45" stop-color="#ff0808"/><stop offset="1" stop-color="#e80000"/></radialGradient>
</defs>
<rect width="1388" height="1153" fill="#fff"/>
<g shape-rendering="crispEdges">
<rect x="111.00" y="73.50" width="434.00" height="2.60" fill="url(#g1)"/>
<rect x="111.00" y="75.50" width="434.00" height="2.60" fill="url(#g2)"/>
<rect x="111.00" y="77.50" width="434.00" height="2.60" fill="url(#g3)"/>
<rect x="111.00" y="79.50" width="434.00" height="2.60" fill="url(#g4)"/>
<rect x="111.00" y="81.50" width="434.00" height="2.60" fill="url(#g5)"/>
<rect x="111.00" y="83.50" width="434.00" height="2.60" fill="url(#g6)"/>
<rect x="111.00" y="85.50" width="434.00" height="2.60" fill="url(#g7)"/>
<rect x="111.00" y="87.50" width="434.00" height="2.60" fill="url(#g8)"/>
<rect x="111.00" y="89.50" width="434.00" height="2.60" fill="url(#g9)"/>
<rect x="111.00" y="91.50" width="434.00" height="2.60" fill="url(#g10)"/>
<rect x="111.00" y="93.50" width="434.00" height="2.60" fill="url(#g11)"/>
<rect x="111.00" y="95.50" width="434.00" height="2.60" fill="url(#g12)"/>
<rect x="111.00" y="97.50" width="434.00" height="2.60" fill="url(#g13)"/>
<rect x="111.00" y="99.50" width="434.00" height="2.60" fill="url(#g14)"/>
<rect x="111.00" y="101.50" width="434.00" height="2.60" fill="url(#g15)"/>
<rect x="111.00" y="103.50" width="434.00" height="2.60" fill="url(#g16)"/>
<rect x="111.00" y="105.50" width="434.00" height="2.60" fill="url(#g17)"/>
<rect x="111.00" y="107.50" width="434.00" height="2.60" fill="url(#g18)"/>
<rect x="111.00" y="109.50" width="434.00" height="2.60" fill="url(#g19)"/>
<rect x="111.00" y="111.50" width="434.00" height="2.60" fill="url(#g20)"/>
<rect x="111.00" y="113.50" width="434.00" height="2.60" fill="url(#g21)"/>
<rect x="111.00" y="115.50" width="434.00" height="2.60" fill="url(#g22)"/>
<rect x="111.00" y="117.50" width="434.00" height="2.60" fill="url(#g23)"/>
<rect x="111.00" y="119.50" width="434.00" height="2.60" fill="url(#g24)"/>
<rect x="111.00" y="121.50" width="434.00" height="2.60" fill="url(#g25)"/>
<rect x="111.00" y="123.50" width="434.00" height="2.60" fill="url(#g26)"/>
<rect x="111.00" y="125.50" width="434.00" height="2.60" fill="url(#g27)"/>
<rect x="111.00" y="127.50" width="434.00" height="2.60" fill="url(#g28)"/>
<rect x="111.00" y="129.50" width="434.00" height="2.60" fill="url(#g29)"/>
<rect x="111.00" y="131.50" width="434.00" height="2.60" fill="url(#g30)"/>
<rect x="111.00" y="133.50" width="434.00" height="2.60" fill="url(#g31)"/>
<rect x="111.00" y="135.50" width="434.00" height="2.60" fill="url(#g32)"/>
<rect x="111.00" y="137.50" width="434.00" height="2.60" fill="url(#g33)"/>
<rect x="111.00" y="139.50" width="434.00" height="2.60" fill="url(#g34)"/>
<rect x="111.00" y="141.50" width="434.00" height="2.60" fill="url(#g35)"/>
<rect x="111.00" y="143.50" width="434.00" height="2.60" fill="url(#g36)"/>
<rect x="111.00" y="145.50" width="434.00" height="2.60" fill="url(#g37)"/>
<rect x="111.00" y="147.50" width="434.00" height="2.60" fill="url(#g38)"/>
<rect x="111.00" y="149.50" width="434.00" height="2.60" fill="url(#g39)"/>
<rect x="111.00" y="151.50" width="434.00" height="2.60" fill="url(#g40)"/>
<rect x="111.00" y="153.50" width="434.00" height="2.60" fill="url(#g41)"/>
<rect x="111.00" y="155.50" width="434.00" height="2.60" fill="url(#g42)"/>
<rect x="111.00" y="157.50" width="434.00" height="2.60" fill="url(#g43)"/>
<rect x="111.00" y="159.50" width="434.00" height="2.60" fill="url(#g44)"/>
<rect x="111.00" y="161.50" width="434.00" height="2.60" fill="url(#g45)"/>
<rect x="111.00" y="163.50" width="434.00" height="2.60" fill="url(#g46)"/>
<rect x="111.00" y="165.50" width="434.00" height="2.60" fill="url(#g47)"/>
<rect x="111.00" y="167.50" width="434.00" height="2.60" fill="url(#g48)"/>
<rect x="111.00" y="169.50" width="434.00" height="2.60" fill="url(#g49)"/>
<rect x="111.00" y="171.50" width="434.00" height="2.60" fill="url(#g50)"/>
<rect x="111.00" y="173.50" width="434.00" height="2.60" fill="url(#g51)"/>
<rect x="111.00" y="175.50" width="434.00" height="2.60" fill="url(#g52)"/>
<rect x="111.00" y="177.50" width="434.00" height="2.60" fill="url(#g53)"/>
<rect x="111.00" y="179.50" width="434.00" height="2.60" fill="url(#g54)"/>
<rect x="111.00" y="181.50" width="434.00" height="2.60" fill="url(#g55)"/>
<rect x="111.00" y="183.50" width="434.00" height="2.60" fill="url(#g56)"/>
<rect x="111.00" y="185.50" width="434.00" height="2.60" fill="url(#g57)"/>
<rect x="111.00" y="187.50" width="434.00" height="2.60" fill="url(#g58)"/>
<rect x="111.00" y="189.50" width="434.00" height="2.60" fill="url(#g59)"/>
<rect x="111.00" y="191.50" width="434.00" height="2.60" fill="url(#g60)"/>
<rect x="111.00" y="193.50" width="434.00" height="2.60" fill="url(#g61)"/>
<rect x="111.00" y="195.50" width="434.00" height="2.60" fill="url(#g62)"/>
<rect x="111.00" y="197.50" width="434.00" height="2.60" fill="url(#g63)"/>
<rect x="111.00" y="199.50" width="434.00" height="2.60" fill="url(#g64)"/>
<rect x="111.00" y="201.50" width="434.00" height="2.60" fill="url(#g65)"/>
<rect x="111.00" y="203.50" width="434.00" height="2.60" fill="url(#g66)"/>
<rect x="111.00" y="205.50" width="434.00" height="2.60" fill="url(#g67)"/>
<rect x="111.00" y="207.50" width="434.00" height="2.60" fill="url(#g68)"/>
<rect x="111.00" y="209.50" width="434.00" height="2.60" fill="url(#g69)"/>
<rect x="111.00" y="211.50" width="434.00" height="2.60" fill="url(#g70)"/>
<rect x="111.00" y="213.50" width="434.00" height="2.60" fill="url(#g71)"/>
<rect x="111.00" y="215.50" width="434.00" height="2.60" fill="url(#g72)"/>
<rect x="111.00" y="217.50" width="434.00" height="2.60" fill="url(#g73)"/>
<rect x="111.00" y="219.50" width="434.00" height="2.60" fill="url(#g74)"/>
<rect x="111.00" y="221.50" width="434.00" height="2.60" fill="url(#g75)"/>
<rect x="111.00" y="223.50" width="434.00" height="2.60" fill="url(#g76)"/>
<rect x="111.00" y="225.50" width="434.00" height="2.60" fill="url(#g77)"/>
<rect x="111.00" y="227.50" width="434.00" height="2.60" fill="url(#g78)"/>
<rect x="111.00" y="229.50" width="434.00" height="2.60" fill="url(#g79)"/>
<rect x="111.00" y="231.50" width="434.00" height="2.60" fill="url(#g80)"/>
<rect x="111.00" y="233.50" width="434.00" height="2.60" fill="url(#g81)"/>
<rect x="111.00" y="235.50" width="434.00" height="2.60" fill="url(#g82)"/>
<rect x="111.00" y="237.50" width="434.00" height="2.60" fill="url(#g83)"/>
<rect x="111.00" y="239.50" width="434.00" height="2.60" fill="url(#g84)"/>
<rect x="111.00" y="241.50" width="434.00" height="2.60" fill="url(#g85)"/>
<rect x="111.00" y="243.50" width="434.00" height="2.60" fill="url(#g86)"/>
<rect x="111.00" y="245.50" width="434.00" height="2.60" fill="url(#g87)"/>
<rect x="111.00" y="247.50" width="434.00" height="2.60" fill="url(#g88)"/>
<rect x="111.00" y="249.50" width="434.00" height="2.60" fill="url(#g89)"/>
<rect x="111.00" y="251.50" width="434.00" height="2.60" fill="url(#g90)"/>
<rect x="111.00" y="253.50" width="434.00" height="2.60" fill="url(#g91)"/>
<rect x="111.00" y="255.50" width="434.00" height="2.60" fill="url(#g92)"/>
<rect x="111.00" y="257.50" width="434.00" height="2.60" fill="url(#g93)"/>
<rect x="111.00" y="259.50" width="434.00" height="2.60" fill="url(#g94)"/>
<rect x="111.00" y="261.50" width="434.00" height="2.60" fill="url(#g95)"/>
<rect x="111.00" y="263.50" width="434.00" height="2.60" fill="url(#g96)"/>
<rect x="111.00" y="265.50" width="434.00" height="2.60" fill="url(#g97)"/>
<rect x="111.00" y="267.50" width="434.00" height="2.60" fill="url(#g98)"/>
<rect x="111.00" y="269.50" width="434.00" height="2.60" fill="url(#g99)"/>
<rect x="111.00" y="271.50" width="434.00" height="2.60" fill="url(#g100)"/>
<rect x="111.00" y="273.50" width="434.00" height="2.60" fill="url(#g101)"/>
<rect x="111.00" y="275.50" width="434.00" height="2.60" fill="url(#g102)"/>
<rect x="111.00" y="277.50" width="434.00" height="2.60" fill="url(#g103)"/>
<rect x="111.00" y="279.50" width="434.00" height="2.60" fill="url(#g104)"/>
<rect x="111.00" y="281.50" width="434.00" height="2.60" fill="url(#g105)"/>
<rect x="111.00" y="283.50" width="434.00" height="2.60" fill="url(#g106)"/>
<rect x="111.00" y="285.50" width="434.00" height="2.60" fill="url(#g107)"/>
<rect x="111.00" y="287.50" width="434.00" height="2.60" fill="url(#g108)"/>
<rect x="111.00" y="289.50" width="434.00" height="2.60" fill="url(#g109)"/>
<rect x="111.00" y="291.50" width="434.00" height="2.60" fill="url(#g110)"/>
<rect x="111.00" y="293.50" width="434.00" height="2.60" fill="url(#g111)"/>
<rect x="111.00" y="295.50" width="434.00" height="2.60" fill="url(#g112)"/>
<rect x="111.00" y="297.50" width="434.00" height="2.60" fill="url(#g113)"/>
<rect x="111.00" y="299.50" width="434.00" height="2.60" fill="url(#g114)"/>
<rect x="111.00" y="301.50" width="434.00" height="2.60" fill="url(#g115)"/>
<rect x="111.00" y="303.50" width="434.00" height="2.60" fill="url(#g116)"/>
<rect x="111.00" y="305.50" width="434.00" height="2.60" fill="url(#g117)"/>
<rect x="111.00" y="307.50" width="434.00" height="2.60" fill="url(#g118)"/>
<rect x="111.00" y="309.50" width="434.00" height="2.60" fill="url(#g119)"/>
<rect x="111.00" y="311.50" width="434.00" height="2.60" fill="url(#g120)"/>
<rect x="111.00" y="313.50" width="434.00" height="2.60" fill="url(#g121)"/>
<rect x="111.00" y="315.50" width="434.00" height="2.60" fill="url(#g122)"/>
<rect x="111.00" y="317.50" width="434.00" height="2.60" fill="url(#g123)"/>
<rect x="111.00" y="319.50" width="434.00" height="2.60" fill="url(#g124)"/>
<rect x="111.00" y="321.50" width="434.00" height="2.60" fill="url(#g125)"/>
<rect x="111.00" y="323.50" width="434.00" height="2.60" fill="url(#g126)"/>
<rect x="111.00" y="325.50" width="434.00" height="2.60" fill="url(#g127)"/>
<rect x="111.00" y="327.50" width="434.00" height="2.60" fill="url(#g128)"/>
<rect x="111.00" y="329.50" width="434.00" height="2.60" fill="url(#g129)"/>
<rect x="111.00" y="331.50" width="434.00" height="2.60" fill="url(#g130)"/>
<rect x="111.00" y="333.50" width="434.00" height="2.60" fill="url(#g131)"/>
<rect x="111.00" y="335.50" width="434.00" height="2.60" fill="url(#g132)"/>
<rect x="111.00" y="337.50" width="434.00" height="2.60" fill="url(#g133)"/>
<rect x="111.00" y="339.50" width="434.00" height="2.60" fill="url(#g134)"/>
<rect x="111.00" y="341.50" width="434.00" height="2.60" fill="url(#g135)"/>
<rect x="111.00" y="343.50" width="434.00" height="2.60" fill="url(#g136)"/>
<rect x="111.00" y="345.50" width="434.00" height="2.60" fill="url(#g137)"/>
<rect x="111.00" y="347.50" width="434.00" height="2.60" fill="url(#g138)"/>
<rect x="111.00" y="349.50" width="434.00" height="2.60" fill="url(#g139)"/>
<rect x="111.00" y="351.50" width="434.00" height="2.60" fill="url(#g140)"/>
<rect x="111.00" y="353.50" width="434.00" height="2.60" fill="url(#g141)"/>
<rect x="111.00" y="355.50" width="434.00" height="2.60" fill="url(#g142)"/>
<rect x="111.00" y="357.50" width="434.00" height="2.60" fill="url(#g143)"/>
<rect x="111.00" y="359.50" width="434.00" height="2.60" fill="url(#g144)"/>
<rect x="111.00" y="361.50" width="434.00" height="2.60" fill="url(#g145)"/>
<rect x="111.00" y="363.50" width="434.00" height="2.60" fill="url(#g146)"/>
<rect x="111.00" y="365.50" width="434.00" height="2.60" fill="url(#g147)"/>
<rect x="111.00" y="367.50" width="434.00" height="2.60" fill="url(#g148)"/>
<rect x="111.00" y="369.50" width="434.00" height="2.60" fill="url(#g149)"/>
<rect x="111.00" y="371.50" width="434.00" height="2.60" fill="url(#g150)"/>
<rect x="111.00" y="373.50" width="434.00" height="2.60" fill="url(#g151)"/>
<rect x="111.00" y="375.50" width="434.00" height="2.60" fill="url(#g152)"/>
<rect x="111.00" y="377.50" width="434.00" height="2.60" fill="url(#g153)"/>
<rect x="111.00" y="379.50" width="434.00" height="2.60" fill="url(#g154)"/>
<rect x="111.00" y="381.50" width="434.00" height="2.60" fill="url(#g155)"/>
<rect x="111.00" y="383.50" width="434.00" height="2.60" fill="url(#g156)"/>
<rect x="111.00" y="385.50" width="434.00" height="2.60" fill="url(#g157)"/>
<rect x="111.00" y="387.50" width="434.00" height="2.60" fill="url(#g158)"/>
<rect x="111.00" y="389.50" width="434.00" height="2.60" fill="url(#g159)"/>
<rect x="111.00" y="391.50" width="434.00" height="2.60" fill="url(#g160)"/>
<rect x="111.00" y="393.50" width="434.00" height="2.60" fill="url(#g161)"/>
<rect x="111.00" y="395.50" width="434.00" height="2.60" fill="url(#g162)"/>
<rect x="111.00" y="397.50" width="434.00" height="2.60" fill="url(#g163)"/>
<rect x="111.00" y="399.50" width="434.00" height="2.60" fill="url(#g164)"/>
<rect x="111.00" y="401.50" width="434.00" height="2.60" fill="url(#g165)"/>
<rect x="111.00" y="403.50" width="434.00" height="2.60" fill="url(#g166)"/>
<rect x="111.00" y="405.50" width="434.00" height="2.60" fill="url(#g167)"/>
<rect x="111.00" y="407.50" width="434.00" height="2.60" fill="url(#g168)"/>
<rect x="111.00" y="409.50" width="434.00" height="2.60" fill="url(#g169)"/>
<rect x="111.00" y="411.50" width="434.00" height="2.60" fill="url(#g170)"/>
<rect x="111.00" y="413.50" width="434.00" height="2.60" fill="url(#g171)"/>
<rect x="111.00" y="415.50" width="434.00" height="2.60" fill="url(#g172)"/>
<rect x="111.00" y="417.50" width="434.00" height="2.60" fill="url(#g173)"/>
<rect x="111.00" y="419.50" width="434.00" height="2.60" fill="url(#g174)"/>
<rect x="111.00" y="421.50" width="434.00" height="2.60" fill="url(#g175)"/>
<rect x="111.00" y="423.50" width="434.00" height="2.60" fill="url(#g176)"/>
<rect x="111.00" y="425.50" width="434.00" height="2.60" fill="url(#g177)"/>
<rect x="111.00" y="427.50" width="434.00" height="2.60" fill="url(#g178)"/>
<rect x="111.00" y="429.50" width="434.00" height="2.60" fill="url(#g179)"/>
<rect x="111.00" y="431.50" width="434.00" height="2.60" fill="url(#g180)"/>
<rect x="111.00" y="433.50" width="434.00" height="2.60" fill="url(#g181)"/>
<rect x="111.00" y="435.50" width="434.00" height="2.60" fill="url(#g182)"/>
<rect x="111.00" y="437.50" width="434.00" height="2.60" fill="url(#g183)"/>
<rect x="111.00" y="439.50" width="434.00" height="2.60" fill="url(#g184)"/>
<rect x="111.00" y="441.50" width="434.00" height="2.60" fill="url(#g185)"/>
<rect x="111.00" y="443.50" width="434.00" height="2.60" fill="url(#g186)"/>
<rect x="111.00" y="445.50" width="434.00" height="2.60" fill="url(#g187)"/>
<rect x="111.00" y="447.50" width="434.00" height="2.60" fill="url(#g188)"/>
<rect x="111.00" y="449.50" width="434.00" height="2.60" fill="url(#g189)"/>
<rect x="111.00" y="451.50" width="434.00" height="2.60" fill="url(#g190)"/>
<rect x="111.00" y="453.50" width="434.00" height="2.60" fill="url(#g191)"/>
<rect x="111.00" y="455.50" width="434.00" height="2.60" fill="url(#g192)"/>
<rect x="111.00" y="457.50" width="434.00" height="2.60" fill="url(#g193)"/>
<rect x="111.00" y="459.50" width="434.00" height="2.60" fill="url(#g194)"/>
<rect x="111.00" y="461.50" width="434.00" height="2.60" fill="url(#g195)"/>
<rect x="111.00" y="463.50" width="434.00" height="2.60" fill="url(#g196)"/>
<rect x="111.00" y="465.50" width="434.00" height="2.60" fill="url(#g197)"/>
<rect x="111.00" y="467.50" width="434.00" height="2.60" fill="url(#g198)"/>
<rect x="111.00" y="469.50" width="434.00" height="2.60" fill="url(#g199)"/>
<rect x="111.00" y="471.50" width="434.00" height="2.60" fill="url(#g200)"/>
<rect x="111.00" y="473.50" width="434.00" height="2.60" fill="url(#g201)"/>
<rect x="111.00" y="475.50" width="434.00" height="2.60" fill="url(#g202)"/>
<rect x="111.00" y="477.50" width="434.00" height="2.60" fill="url(#g203)"/>
<rect x="111.00" y="479.50" width="434.00" height="2.60" fill="url(#g204)"/>
<rect x="111.00" y="481.50" width="434.00" height="2.60" fill="url(#g205)"/>
<rect x="111.00" y="483.50" width="434.00" height="2.60" fill="url(#g206)"/>
<rect x="111.00" y="485.50" width="434.00" height="2.60" fill="url(#g207)"/>
<rect x="111.00" y="487.50" width="434.00" height="2.60" fill="url(#g208)"/>
<rect x="111.00" y="624.20" width="434.00" height="2.60" fill="url(#g209)"/>
<rect x="111.00" y="626.20" width="434.00" height="2.60" fill="url(#g210)"/>
<rect x="111.00" y="628.20" width="434.00" height="2.60" fill="url(#g211)"/>
<rect x="111.00" y="630.20" width="434.00" height="2.60" fill="url(#g212)"/>
<rect x="111.00" y="632.20" width="434.00" height="2.60" fill="url(#g213)"/>
<rect x="111.00" y="634.20" width="434.00" height="2.60" fill="url(#g214)"/>
<rect x="111.00" y="636.20" width="434.00" height="2.60" fill="url(#g215)"/>
<rect x="111.00" y="638.20" width="434.00" height="2.60" fill="url(#g216)"/>
<rect x="111.00" y="640.20" width="434.00" height="2.60" fill="url(#g217)"/>
<rect x="111.00" y="642.20" width="434.00" height="2.60" fill="url(#g218)"/>
<rect x="111.00" y="644.20" width="434.00" height="2.60" fill="url(#g219)"/>
<rect x="111.00" y="646.20" width="434.00" height="2.60" fill="url(#g220)"/>
<rect x="111.00" y="648.20" width="434.00" height="2.60" fill="url(#g221)"/>
<rect x="111.00" y="650.20" width="434.00" height="2.60" fill="url(#g222)"/>
<rect x="111.00" y="652.20" width="434.00" height="2.60" fill="url(#g223)"/>
<rect x="111.00" y="654.20" width="434.00" height="2.60" fill="url(#g224)"/>
<rect x="111.00" y="656.20" width="434.00" height="2.60" fill="url(#g225)"/>
<rect x="111.00" y="658.20" width="434.00" height="2.60" fill="url(#g226)"/>
<rect x="111.00" y="660.20" width="434.00" height="2.60" fill="url(#g227)"/>
<rect x="111.00" y="662.20" width="434.00" height="2.60" fill="url(#g228)"/>
<rect x="111.00" y="664.20" width="434.00" height="2.60" fill="url(#g229)"/>
<rect x="111.00" y="666.20" width="434.00" height="2.60" fill="url(#g230)"/>
<rect x="111.00" y="668.20" width="434.00" height="2.60" fill="url(#g231)"/>
<rect x="111.00" y="670.20" width="434.00" height="2.60" fill="url(#g232)"/>
<rect x="111.00" y="672.20" width="434.00" height="2.60" fill="url(#g233)"/>
<rect x="111.00" y="674.20" width="434.00" height="2.60" fill="url(#g234)"/>
<rect x="111.00" y="676.20" width="434.00" height="2.60" fill="url(#g235)"/>
<rect x="111.00" y="678.20" width="434.00" height="2.60" fill="url(#g236)"/>
<rect x="111.00" y="680.20" width="434.00" height="2.60" fill="url(#g237)"/>
<rect x="111.00" y="682.20" width="434.00" height="2.60" fill="url(#g238)"/>
<rect x="111.00" y="684.20" width="434.00" height="2.60" fill="url(#g239)"/>
<rect x="111.00" y="686.20" width="434.00" height="2.60" fill="url(#g240)"/>
<rect x="111.00" y="688.20" width="434.00" height="2.60" fill="url(#g241)"/>
<rect x="111.00" y="690.20" width="434.00" height="2.60" fill="url(#g242)"/>
<rect x="111.00" y="692.20" width="434.00" height="2.60" fill="url(#g243)"/>
<rect x="111.00" y="694.20" width="434.00" height="2.60" fill="url(#g244)"/>
<rect x="111.00" y="696.20" width="434.00" height="2.60" fill="url(#g245)"/>
<rect x="111.00" y="698.20" width="434.00" height="2.60" fill="url(#g246)"/>
<rect x="111.00" y="700.20" width="434.00" height="2.60" fill="url(#g247)"/>
<rect x="111.00" y="702.20" width="434.00" height="2.60" fill="url(#g248)"/>
<rect x="111.00" y="704.20" width="434.00" height="2.60" fill="url(#g249)"/>
<rect x="111.00" y="706.20" width="434.00" height="2.60" fill="url(#g250)"/>
<rect x="111.00" y="708.20" width="434.00" height="2.60" fill="url(#g251)"/>
<rect x="111.00" y="710.20" width="434.00" height="2.60" fill="url(#g252)"/>
<rect x="111.00" y="712.20" width="434.00" height="2.60" fill="url(#g253)"/>
<rect x="111.00" y="714.20" width="434.00" height="2.60" fill="url(#g254)"/>
<rect x="111.00" y="716.20" width="434.00" height="2.60" fill="url(#g255)"/>
<rect x="111.00" y="718.20" width="434.00" height="2.60" fill="url(#g256)"/>
<rect x="111.00" y="720.20" width="434.00" height="2.60" fill="url(#g257)"/>
<rect x="111.00" y="722.20" width="434.00" height="2.60" fill="url(#g258)"/>
<rect x="111.00" y="724.20" width="434.00" height="2.60" fill="url(#g259)"/>
<rect x="111.00" y="726.20" width="434.00" height="2.60" fill="url(#g260)"/>
<rect x="111.00" y="728.20" width="434.00" height="2.60" fill="url(#g261)"/>
<rect x="111.00" y="730.20" width="434.00" height="2.60" fill="url(#g262)"/>
<rect x="111.00" y="732.20" width="434.00" height="2.60" fill="url(#g263)"/>
<rect x="111.00" y="734.20" width="434.00" height="2.60" fill="url(#g264)"/>
<rect x="111.00" y="736.20" width="434.00" height="2.60" fill="url(#g265)"/>
<rect x="111.00" y="738.20" width="434.00" height="2.60" fill="url(#g266)"/>
<rect x="111.00" y="740.20" width="434.00" height="2.60" fill="url(#g267)"/>
<rect x="111.00" y="742.20" width="434.00" height="2.60" fill="url(#g268)"/>
<rect x="111.00" y="744.20" width="434.00" height="2.60" fill="url(#g269)"/>
<rect x="111.00" y="746.20" width="434.00" height="2.60" fill="url(#g270)"/>
<rect x="111.00" y="748.20" width="434.00" height="2.60" fill="url(#g271)"/>
<rect x="111.00" y="750.20" width="434.00" height="2.60" fill="url(#g272)"/>
<rect x="111.00" y="752.20" width="434.00" height="2.60" fill="url(#g273)"/>
<rect x="111.00" y="754.20" width="434.00" height="2.60" fill="url(#g274)"/>
<rect x="111.00" y="756.20" width="434.00" height="2.60" fill="url(#g275)"/>
<rect x="111.00" y="758.20" width="434.00" height="2.60" fill="url(#g276)"/>
<rect x="111.00" y="760.20" width="434.00" height="2.60" fill="url(#g277)"/>
<rect x="111.00" y="762.20" width="434.00" height="2.60" fill="url(#g278)"/>
<rect x="111.00" y="764.20" width="434.00" height="2.60" fill="url(#g279)"/>
<rect x="111.00" y="766.20" width="434.00" height="2.60" fill="url(#g280)"/>
<rect x="111.00" y="768.20" width="434.00" height="2.60" fill="url(#g281)"/>
<rect x="111.00" y="770.20" width="434.00" height="2.60" fill="url(#g282)"/>
<rect x="111.00" y="772.20" width="434.00" height="2.60" fill="url(#g283)"/>
<rect x="111.00" y="774.20" width="434.00" height="2.60" fill="url(#g284)"/>
<rect x="111.00" y="776.20" width="434.00" height="2.60" fill="url(#g285)"/>
<rect x="111.00" y="778.20" width="434.00" height="2.60" fill="url(#g286)"/>
<rect x="111.00" y="780.20" width="434.00" height="2.60" fill="url(#g287)"/>
<rect x="111.00" y="782.20" width="434.00" height="2.60" fill="url(#g288)"/>
<rect x="111.00" y="784.20" width="434.00" height="2.60" fill="url(#g289)"/>
<rect x="111.00" y="786.20" width="434.00" height="2.60" fill="url(#g290)"/>
<rect x="111.00" y="788.20" width="434.00" height="2.60" fill="url(#g291)"/>
<rect x="111.00" y="790.20" width="434.00" height="2.60" fill="url(#g292)"/>
<rect x="111.00" y="792.20" width="434.00" height="2.60" fill="url(#g293)"/>
<rect x="111.00" y="794.20" width="434.00" height="2.60" fill="url(#g294)"/>
<rect x="111.00" y="796.20" width="434.00" height="2.60" fill="url(#g295)"/>
<rect x="111.00" y="798.20" width="434.00" height="2.60" fill="url(#g296)"/>
<rect x="111.00" y="800.20" width="434.00" height="2.60" fill="url(#g297)"/>
<rect x="111.00" y="802.20" width="434.00" height="2.60" fill="url(#g298)"/>
<rect x="111.00" y="804.20" width="434.00" height="2.60" fill="url(#g299)"/>
<rect x="111.00" y="806.20" width="434.00" height="2.60" fill="url(#g300)"/>
<rect x="111.00" y="808.20" width="434.00" height="2.60" fill="url(#g301)"/>
<rect x="111.00" y="810.20" width="434.00" height="2.60" fill="url(#g302)"/>
<rect x="111.00" y="812.20" width="434.00" height="2.60" fill="url(#g303)"/>
<rect x="111.00" y="814.20" width="434.00" height="2.60" fill="url(#g304)"/>
<rect x="111.00" y="816.20" width="434.00" height="2.60" fill="url(#g305)"/>
<rect x="111.00" y="818.20" width="434.00" height="2.60" fill="url(#g306)"/>
<rect x="111.00" y="820.20" width="434.00" height="2.60" fill="url(#g307)"/>
<rect x="111.00" y="822.20" width="434.00" height="2.60" fill="url(#g308)"/>
<rect x="111.00" y="824.20" width="434.00" height="2.60" fill="url(#g309)"/>
<rect x="111.00" y="826.20" width="434.00" height="2.60" fill="url(#g310)"/>
<rect x="111.00" y="828.20" width="434.00" height="2.60" fill="url(#g311)"/>
<rect x="111.00" y="830.20" width="434.00" height="2.60" fill="url(#g312)"/>
<rect x="111.00" y="832.20" width="434.00" height="2.60" fill="url(#g313)"/>
<rect x="111.00" y="834.20" width="434.00" height="2.60" fill="url(#g314)"/>
<rect x="111.00" y="836.20" width="434.00" height="2.60" fill="url(#g315)"/>
<rect x="111.00" y="838.20" width="434.00" height="2.60" fill="url(#g316)"/>
<rect x="111.00" y="840.20" width="434.00" height="2.60" fill="url(#g317)"/>
<rect x="111.00" y="842.20" width="434.00" height="2.60" fill="url(#g318)"/>
<rect x="111.00" y="844.20" width="434.00" height="2.60" fill="url(#g319)"/>
<rect x="111.00" y="846.20" width="434.00" height="2.60" fill="url(#g320)"/>
<rect x="111.00" y="848.20" width="434.00" height="2.60" fill="url(#g321)"/>
<rect x="111.00" y="850.20" width="434.00" height="2.60" fill="url(#g322)"/>
<rect x="111.00" y="852.20" width="434.00" height="2.60" fill="url(#g323)"/>
<rect x="111.00" y="854.20" width="434.00" height="2.60" fill="url(#g324)"/>
<rect x="111.00" y="856.20" width="434.00" height="2.60" fill="url(#g325)"/>
<rect x="111.00" y="858.20" width="434.00" height="2.60" fill="url(#g326)"/>
<rect x="111.00" y="860.20" width="434.00" height="2.60" fill="url(#g327)"/>
<rect x="111.00" y="862.20" width="434.00" height="2.60" fill="url(#g328)"/>
<rect x="111.00" y="864.20" width="434.00" height="2.60" fill="url(#g329)"/>
<rect x="111.00" y="866.20" width="434.00" height="2.60" fill="url(#g330)"/>
<rect x="111.00" y="868.20" width="434.00" height="2.60" fill="url(#g331)"/>
<rect x="111.00" y="870.20" width="434.00" height="2.60" fill="url(#g332)"/>
<rect x="111.00" y="872.20" width="434.00" height="2.60" fill="url(#g333)"/>
<rect x="111.00" y="874.20" width="434.00" height="2.60" fill="url(#g334)"/>
<rect x="111.00" y="876.20" width="434.00" height="2.60" fill="url(#g335)"/>
<rect x="111.00" y="878.20" width="434.00" height="2.60" fill="url(#g336)"/>
<rect x="111.00" y="880.20" width="434.00" height="2.60" fill="url(#g337)"/>
<rect x="111.00" y="882.20" width="434.00" height="2.60" fill="url(#g338)"/>
<rect x="111.00" y="884.20" width="434.00" height="2.60" fill="url(#g339)"/>
<rect x="111.00" y="886.20" width="434.00" height="2.60" fill="url(#g340)"/>
<rect x="111.00" y="888.20" width="434.00" height="2.60" fill="url(#g341)"/>
<rect x="111.00" y="890.20" width="434.00" height="2.60" fill="url(#g342)"/>
<rect x="111.00" y="892.20" width="434.00" height="2.60" fill="url(#g343)"/>
<rect x="111.00" y="894.20" width="434.00" height="2.60" fill="url(#g344)"/>
<rect x="111.00" y="896.20" width="434.00" height="2.60" fill="url(#g345)"/>
<rect x="111.00" y="898.20" width="434.00" height="2.60" fill="url(#g346)"/>
<rect x="111.00" y="900.20" width="434.00" height="2.60" fill="url(#g347)"/>
<rect x="111.00" y="902.20" width="434.00" height="2.60" fill="url(#g348)"/>
<rect x="111.00" y="904.20" width="434.00" height="2.60" fill="url(#g349)"/>
<rect x="111.00" y="906.20" width="434.00" height="2.60" fill="url(#g350)"/>
<rect x="111.00" y="908.20" width="434.00" height="2.60" fill="url(#g351)"/>
<rect x="111.00" y="910.20" width="434.00" height="2.60" fill="url(#g352)"/>
<rect x="111.00" y="912.20" width="434.00" height="2.60" fill="url(#g353)"/>
<rect x="111.00" y="914.20" width="434.00" height="2.60" fill="url(#g354)"/>
<rect x="111.00" y="916.20" width="434.00" height="2.60" fill="url(#g355)"/>
<rect x="111.00" y="918.20" width="434.00" height="2.60" fill="url(#g356)"/>
<rect x="111.00" y="920.20" width="434.00" height="2.60" fill="url(#g357)"/>
<rect x="111.00" y="922.20" width="434.00" height="2.60" fill="url(#g358)"/>
<rect x="111.00" y="924.20" width="434.00" height="2.60" fill="url(#g359)"/>
<rect x="111.00" y="926.20" width="434.00" height="2.60" fill="url(#g360)"/>
<rect x="111.00" y="928.20" width="434.00" height="2.60" fill="url(#g361)"/>
<rect x="111.00" y="930.20" width="434.00" height="2.60" fill="url(#g362)"/>
<rect x="111.00" y="932.20" width="434.00" height="2.60" fill="url(#g363)"/>
<rect x="111.00" y="934.20" width="434.00" height="2.60" fill="url(#g364)"/>
<rect x="111.00" y="936.20" width="434.00" height="2.60" fill="url(#g365)"/>
<rect x="111.00" y="938.20" width="434.00" height="2.60" fill="url(#g366)"/>
<rect x="111.00" y="940.20" width="434.00" height="2.60" fill="url(#g367)"/>
<rect x="111.00" y="942.20" width="434.00" height="2.60" fill="url(#g368)"/>
<rect x="111.00" y="944.20" width="434.00" height="2.60" fill="url(#g369)"/>
<rect x="111.00" y="946.20" width="434.00" height="2.60" fill="url(#g370)"/>
<rect x="111.00" y="948.20" width="434.00" height="2.60" fill="url(#g371)"/>
<rect x="111.00" y="950.20" width="434.00" height="2.60" fill="url(#g372)"/>
<rect x="111.00" y="952.20" width="434.00" height="2.60" fill="url(#g373)"/>
<rect x="111.00" y="954.20" width="434.00" height="2.60" fill="url(#g374)"/>
<rect x="111.00" y="956.20" width="434.00" height="2.60" fill="url(#g375)"/>
<rect x="111.00" y="958.20" width="434.00" height="2.60" fill="url(#g376)"/>
<rect x="111.00" y="960.20" width="434.00" height="2.60" fill="url(#g377)"/>
<rect x="111.00" y="962.20" width="434.00" height="2.60" fill="url(#g378)"/>
<rect x="111.00" y="964.20" width="434.00" height="2.60" fill="url(#g379)"/>
<rect x="111.00" y="966.20" width="434.00" height="2.60" fill="url(#g380)"/>
<rect x="111.00" y="968.20" width="434.00" height="2.60" fill="url(#g381)"/>
<rect x="111.00" y="970.20" width="434.00" height="2.60" fill="url(#g382)"/>
<rect x="111.00" y="972.20" width="434.00" height="2.60" fill="url(#g383)"/>
<rect x="111.00" y="974.20" width="434.00" height="2.60" fill="url(#g384)"/>
<rect x="111.00" y="976.20" width="434.00" height="2.60" fill="url(#g385)"/>
<rect x="111.00" y="978.20" width="434.00" height="2.60" fill="url(#g386)"/>
<rect x="111.00" y="980.20" width="434.00" height="2.60" fill="url(#g387)"/>
<rect x="111.00" y="982.20" width="434.00" height="2.60" fill="url(#g388)"/>
<rect x="111.00" y="984.20" width="434.00" height="2.60" fill="url(#g389)"/>
<rect x="111.00" y="986.20" width="434.00" height="2.60" fill="url(#g390)"/>
<rect x="111.00" y="988.20" width="434.00" height="2.60" fill="url(#g391)"/>
<rect x="111.00" y="990.20" width="434.00" height="2.60" fill="url(#g392)"/>
<rect x="111.00" y="992.20" width="434.00" height="2.60" fill="url(#g393)"/>
<rect x="111.00" y="994.20" width="434.00" height="2.60" fill="url(#g394)"/>
<rect x="111.00" y="996.20" width="434.00" height="2.60" fill="url(#g395)"/>
<rect x="111.00" y="998.20" width="434.00" height="2.60" fill="url(#g396)"/>
<rect x="111.00" y="1000.20" width="434.00" height="2.60" fill="url(#g397)"/>
<rect x="111.00" y="1002.20" width="434.00" height="2.60" fill="url(#g398)"/>
<rect x="111.00" y="1004.20" width="434.00" height="2.60" fill="url(#g399)"/>
<rect x="111.00" y="1006.20" width="434.00" height="2.60" fill="url(#g400)"/>
<rect x="111.00" y="1008.20" width="434.00" height="2.60" fill="url(#g401)"/>
<rect x="111.00" y="1010.20" width="434.00" height="2.60" fill="url(#g402)"/>
<rect x="111.00" y="1012.20" width="434.00" height="2.60" fill="url(#g403)"/>
<rect x="111.00" y="1014.20" width="434.00" height="2.60" fill="url(#g404)"/>
<rect x="111.00" y="1016.20" width="434.00" height="2.60" fill="url(#g405)"/>
<rect x="111.00" y="1018.20" width="434.00" height="2.60" fill="url(#g406)"/>
<rect x="111.00" y="1020.20" width="434.00" height="2.60" fill="url(#g407)"/>
<rect x="111.00" y="1022.20" width="434.00" height="2.60" fill="url(#g408)"/>
<rect x="111.00" y="1024.20" width="434.00" height="2.60" fill="url(#g409)"/>
<rect x="111.00" y="1026.20" width="434.00" height="2.60" fill="url(#g410)"/>
<rect x="111.00" y="1028.20" width="434.00" height="2.60" fill="url(#g411)"/>
<rect x="111.00" y="1030.20" width="434.00" height="2.60" fill="url(#g412)"/>
<rect x="111.00" y="1032.20" width="434.00" height="2.60" fill="url(#g413)"/>
<rect x="111.00" y="1034.20" width="434.00" height="2.60" fill="url(#g414)"/>
<rect x="111.00" y="1036.20" width="434.00" height="2.60" fill="url(#g415)"/>
<rect x="111.00" y="1038.20" width="434.00" height="2.60" fill="url(#g416)"/>
</g>
<rect x="560.5" y="73.8" width="16.5" height="414.9" fill="url(#cba)"/>
<rect x="560.5" y="73.8" width="16.5" height="414.9" fill="url(#band)" stroke="#000" stroke-width="2.2"/>
<rect x="560.5" y="623.8" width="16.5" height="414.8" fill="url(#cbb)"/>
<rect x="560.5" y="623.8" width="16.5" height="414.8" fill="url(#band)" stroke="#000" stroke-width="2.2"/>
<rect x="111.0" y="73.5" width="433.5" height="415.7" fill="none" stroke="#000" stroke-width="2"/>
<line x1="103.00" y1="73.50" x2="111.00" y2="73.50" stroke="#000" stroke-width="2.00" />
<line x1="107.00" y1="107.89" x2="111.00" y2="107.89" stroke="#000" stroke-width="2.00" />
<line x1="103.00" y1="142.28" x2="111.00" y2="142.28" stroke="#000" stroke-width="2.00" />
<line x1="107.00" y1="176.68" x2="111.00" y2="176.68" stroke="#000" stroke-width="2.00" />
<line x1="103.00" y1="211.07" x2="111.00" y2="211.07" stroke="#000" stroke-width="2.00" />
<line x1="107.00" y1="245.46" x2="111.00" y2="245.46" stroke="#000" stroke-width="2.00" />
<line x1="103.00" y1="279.85" x2="111.00" y2="279.85" stroke="#000" stroke-width="2.00" />
<line x1="107.00" y1="314.24" x2="111.00" y2="314.24" stroke="#000" stroke-width="2.00" />
<line x1="103.00" y1="348.63" x2="111.00" y2="348.63" stroke="#000" stroke-width="2.00" />
<line x1="107.00" y1="383.02" x2="111.00" y2="383.02" stroke="#000" stroke-width="2.00" />
<line x1="103.00" y1="417.42" x2="111.00" y2="417.42" stroke="#000" stroke-width="2.00" />
<line x1="107.00" y1="451.81" x2="111.00" y2="451.81" stroke="#000" stroke-width="2.00" />
<line x1="103.00" y1="486.20" x2="111.00" y2="486.20" stroke="#000" stroke-width="2.00" />
<line x1="111.00" y1="489.20" x2="111.00" y2="497.20" stroke="#000" stroke-width="2.00" />
<line x1="219.38" y1="489.20" x2="219.38" y2="493.20" stroke="#000" stroke-width="2.00" />
<line x1="327.75" y1="489.20" x2="327.75" y2="497.20" stroke="#000" stroke-width="2.00" />
<line x1="436.12" y1="489.20" x2="436.12" y2="493.20" stroke="#000" stroke-width="2.00" />
<line x1="544.50" y1="489.20" x2="544.50" y2="497.20" stroke="#000" stroke-width="2.00" />
<line x1="577.00" y1="73.80" x2="586.00" y2="73.80" stroke="#000" stroke-width="2.00" />
<line x1="577.00" y1="292.80" x2="586.00" y2="292.80" stroke="#000" stroke-width="2.00" />
<line x1="577.00" y1="488.80" x2="586.00" y2="488.80" stroke="#000" stroke-width="2.00" />
<rect x="111.0" y="624.2" width="433.5" height="415.8" fill="none" stroke="#000" stroke-width="2"/>
<line x1="103.00" y1="624.20" x2="111.00" y2="624.20" stroke="#000" stroke-width="2.00" />
<line x1="107.00" y1="658.60" x2="111.00" y2="658.60" stroke="#000" stroke-width="2.00" />
<line x1="103.00" y1="693.00" x2="111.00" y2="693.00" stroke="#000" stroke-width="2.00" />
<line x1="107.00" y1="727.40" x2="111.00" y2="727.40" stroke="#000" stroke-width="2.00" />
<line x1="103.00" y1="761.80" x2="111.00" y2="761.80" stroke="#000" stroke-width="2.00" />
<line x1="107.00" y1="796.20" x2="111.00" y2="796.20" stroke="#000" stroke-width="2.00" />
<line x1="103.00" y1="830.60" x2="111.00" y2="830.60" stroke="#000" stroke-width="2.00" />
<line x1="107.00" y1="865.00" x2="111.00" y2="865.00" stroke="#000" stroke-width="2.00" />
<line x1="103.00" y1="899.40" x2="111.00" y2="899.40" stroke="#000" stroke-width="2.00" />
<line x1="107.00" y1="933.80" x2="111.00" y2="933.80" stroke="#000" stroke-width="2.00" />
<line x1="103.00" y1="968.20" x2="111.00" y2="968.20" stroke="#000" stroke-width="2.00" />
<line x1="107.00" y1="1002.60" x2="111.00" y2="1002.60" stroke="#000" stroke-width="2.00" />
<line x1="103.00" y1="1037.00" x2="111.00" y2="1037.00" stroke="#000" stroke-width="2.00" />
<line x1="111.00" y1="1040.00" x2="111.00" y2="1048.00" stroke="#000" stroke-width="2.00" />
<line x1="219.38" y1="1040.00" x2="219.38" y2="1044.00" stroke="#000" stroke-width="2.00" />
<line x1="327.75" y1="1040.00" x2="327.75" y2="1048.00" stroke="#000" stroke-width="2.00" />
<line x1="436.12" y1="1040.00" x2="436.12" y2="1044.00" stroke="#000" stroke-width="2.00" />
<line x1="544.50" y1="1040.00" x2="544.50" y2="1048.00" stroke="#000" stroke-width="2.00" />
<line x1="577.00" y1="623.80" x2="586.00" y2="623.80" stroke="#000" stroke-width="2.00" />
<line x1="577.00" y1="842.80" x2="586.00" y2="842.80" stroke="#000" stroke-width="2.00" />
<line x1="577.00" y1="1038.80" x2="586.00" y2="1038.80" stroke="#000" stroke-width="2.00" />
<text x="91.5" y="84.0" font-size="29.0" text-anchor="end" font-weight="normal" >23</text>
<text x="91.5" y="152.7" font-size="29.0" text-anchor="end" font-weight="normal" >20</text>
<text x="91.5" y="221.4" font-size="29.0" text-anchor="end" font-weight="normal" >17</text>
<text x="91.5" y="290.1" font-size="29.0" text-anchor="end" font-weight="normal" >14</text>
<text x="91.5" y="358.8" font-size="29.0" text-anchor="end" font-weight="normal" >11</text>
<text x="91.5" y="427.5" font-size="29.0" text-anchor="end" font-weight="normal" >8</text>
<text x="91.5" y="496.2" font-size="29.0" text-anchor="end" font-weight="normal" >5</text>
<text x="91.5" y="634.7" font-size="29.0" text-anchor="end" font-weight="normal" >23</text>
<text x="91.5" y="703.4" font-size="29.0" text-anchor="end" font-weight="normal" >20</text>
<text x="91.5" y="772.0" font-size="29.0" text-anchor="end" font-weight="normal" >17</text>
<text x="91.5" y="840.7" font-size="29.0" text-anchor="end" font-weight="normal" >14</text>
<text x="91.5" y="909.4" font-size="29.0" text-anchor="end" font-weight="normal" >11</text>
<text x="91.5" y="978.1" font-size="29.0" text-anchor="end" font-weight="normal" >8</text>
<text x="91.5" y="1046.7" font-size="29.0" text-anchor="end" font-weight="normal" >5</text>
<text x="111.0" y="535.0" font-size="29.0" text-anchor="middle" font-weight="normal" >52000</text>
<text x="327.8" y="535.0" font-size="29.0" text-anchor="middle" font-weight="normal" >56950</text>
<text x="544.5" y="535.0" font-size="29.0" text-anchor="middle" font-weight="normal" >61900</text>
<text x="111.0" y="1085.3" font-size="29.0" text-anchor="middle" font-weight="normal" >52000</text>
<text x="327.8" y="1085.3" font-size="29.0" text-anchor="middle" font-weight="normal" >56950</text>
<text x="544.5" y="1085.3" font-size="29.0" text-anchor="middle" font-weight="normal" >61900</text>
<text x="597.2" y="83.3" font-size="29.0" text-anchor="start" font-weight="normal" >1.2</text>
<text x="597.2" y="302.3" font-size="29.0" text-anchor="start" font-weight="normal" >1.0</text>
<text x="597.2" y="498.3" font-size="29.0" text-anchor="start" font-weight="normal" >0.84</text>
<text x="597.2" y="633.3" font-size="29.0" text-anchor="start" font-weight="normal" >1.2</text>
<text x="597.2" y="852.3" font-size="29.0" text-anchor="start" font-weight="normal" >1.0</text>
<text x="597.2" y="1048.3" font-size="29.0" text-anchor="start" font-weight="normal" >0.84</text>
<text x="27.5" y="283.5" font-size="29.0" text-anchor="middle" font-weight="normal" transform="rotate(-90 27.5 283.5)">Amplitude (mV)</text>
<text x="30.5" y="833.0" font-size="29.0" text-anchor="middle" font-weight="normal" transform="rotate(-90 30.5 833.0)">Amplitude (mV)</text>
<text x="686.0" y="281.8" font-size="29.0" text-anchor="middle" font-weight="normal" transform="rotate(-90 686.0 281.8)">Frequency ratio <tspan font-family='Liberation Serif' font-size="31.5">&#937;</tspan><tspan font-size="22" font-style="italic" dy="6.5">s</tspan><tspan dy="-6.5">/</tspan><tspan font-family='Liberation Serif' font-size="31.5">&#937;</tspan></text>
<text x="686.0" y="832.5" font-size="29.0" text-anchor="middle" font-weight="normal" transform="rotate(-90 686.0 832.5)">Frequency ratio <tspan font-family='Liberation Serif' font-size="31.5">&#937;</tspan><tspan font-size="22" font-style="italic" dy="6.5">s</tspan><tspan dy="-6.5">/</tspan><tspan font-family='Liberation Serif' font-size="31.5">&#937;</tspan></text>
<text x="320.8" y="580.0" font-size="29.0" text-anchor="middle" font-weight="normal" >Frequency <tspan font-family='Liberation Serif' font-size="31.5">&#937;</tspan><tspan font-size="22" font-style="italic" dy="6.5">s</tspan><tspan dy="-6.5">/2</tspan><tspan font-family='Liberation Serif' font-size="31">&#960;</tspan> (Hz)</text>
<text x="320.8" y="1130.5" font-size="29.0" text-anchor="middle" font-weight="normal" >Frequency <tspan font-family='Liberation Serif' font-size="31.5">&#937;</tspan><tspan font-size="22" font-style="italic" dy="6.5">s</tspan><tspan dy="-6.5">/2</tspan><tspan font-family='Liberation Serif' font-size="31">&#960;</tspan> (Hz)</text>
<text x="325.2" y="50.1" font-size="29.0" text-anchor="middle" font-weight="normal" >Hysteresis interval</text>
<line x1="125.00" y1="64.80" x2="527.50" y2="64.80" stroke="#000" stroke-width="1.60" />
<path d="M125 64.8 L136 58.8 L136 70.8 Z" fill="#000"/>
<path d="M527.5 64.8 L516.5 58.8 L516.5 70.8 Z" fill="#000"/>
<line x1="124.8" y1="55.6" x2="124.8" y2="487" stroke="#000" stroke-width="3" stroke-dasharray="21.8 12.15"/>
<line x1="527.8" y1="55.6" x2="527.8" y2="487" stroke="#000" stroke-width="3" stroke-dasharray="21.8 12.15"/>
<line x1="125.5" y1="572.7" x2="125.5" y2="1036" stroke="#000" stroke-width="3" stroke-dasharray="21.8 12.15"/>
<line x1="529.0" y1="572.7" x2="529.0" y2="1036" stroke="#000" stroke-width="3" stroke-dasharray="21.8 12.15"/>
<text x="1.0" y="35.8" font-size="42.0" text-anchor="start" font-weight="bold" fill="#111">a</text>
<text x="0.0" y="630.0" font-size="42.0" text-anchor="start" font-weight="bold" fill="#111">b</text>
<text x="735.0" y="35.8" font-size="42.0" text-anchor="start" font-weight="bold" fill="#111">c</text>
<text x="735.0" y="630.0" font-size="42.0" text-anchor="start" font-weight="bold" fill="#111">d</text>
<rect x="837.5" y="71.9" width="518.2" height="417.6" fill="none" stroke="#000" stroke-width="2.4"/>
<line x1="880.68" y1="489.50" x2="880.68" y2="485.00" stroke="#000" stroke-width="2.00" />
<line x1="880.68" y1="71.90" x2="880.68" y2="76.40" stroke="#000" stroke-width="2.00" />
<line x1="923.87" y1="489.50" x2="923.87" y2="481.50" stroke="#000" stroke-width="2.00" />
<line x1="923.87" y1="71.90" x2="923.87" y2="79.90" stroke="#000" stroke-width="2.00" />
<line x1="967.05" y1="489.50" x2="967.05" y2="485.00" stroke="#000" stroke-width="2.00" />
<line x1="967.05" y1="71.90" x2="967.05" y2="76.40" stroke="#000" stroke-width="2.00" />
<line x1="1010.23" y1="489.50" x2="1010.23" y2="481.50" stroke="#000" stroke-width="2.00" />
<line x1="1010.23" y1="71.90" x2="1010.23" y2="79.90" stroke="#000" stroke-width="2.00" />
<line x1="1053.42" y1="489.50" x2="1053.42" y2="485.00" stroke="#000" stroke-width="2.00" />
<line x1="1053.42" y1="71.90" x2="1053.42" y2="76.40" stroke="#000" stroke-width="2.00" />
<line x1="1096.60" y1="489.50" x2="1096.60" y2="481.50" stroke="#000" stroke-width="2.00" />
<line x1="1096.60" y1="71.90" x2="1096.60" y2="79.90" stroke="#000" stroke-width="2.00" />
<line x1="1139.78" y1="489.50" x2="1139.78" y2="485.00" stroke="#000" stroke-width="2.00" />
<line x1="1139.78" y1="71.90" x2="1139.78" y2="76.40" stroke="#000" stroke-width="2.00" />
<line x1="1182.97" y1="489.50" x2="1182.97" y2="481.50" stroke="#000" stroke-width="2.00" />
<line x1="1182.97" y1="71.90" x2="1182.97" y2="79.90" stroke="#000" stroke-width="2.00" />
<line x1="1226.15" y1="489.50" x2="1226.15" y2="485.00" stroke="#000" stroke-width="2.00" />
<line x1="1226.15" y1="71.90" x2="1226.15" y2="76.40" stroke="#000" stroke-width="2.00" />
<line x1="1269.33" y1="489.50" x2="1269.33" y2="481.50" stroke="#000" stroke-width="2.00" />
<line x1="1269.33" y1="71.90" x2="1269.33" y2="79.90" stroke="#000" stroke-width="2.00" />
<line x1="1312.52" y1="489.50" x2="1312.52" y2="485.00" stroke="#000" stroke-width="2.00" />
<line x1="1312.52" y1="71.90" x2="1312.52" y2="76.40" stroke="#000" stroke-width="2.00" />
<line x1="837.50" y1="106.70" x2="842.00" y2="106.70" stroke="#000" stroke-width="2.00" />
<line x1="1355.70" y1="106.70" x2="1351.20" y2="106.70" stroke="#000" stroke-width="2.00" />
<line x1="837.50" y1="141.50" x2="845.50" y2="141.50" stroke="#000" stroke-width="2.00" />
<line x1="1355.70" y1="141.50" x2="1347.70" y2="141.50" stroke="#000" stroke-width="2.00" />
<line x1="837.50" y1="176.30" x2="842.00" y2="176.30" stroke="#000" stroke-width="2.00" />
<line x1="1355.70" y1="176.30" x2="1351.20" y2="176.30" stroke="#000" stroke-width="2.00" />
<line x1="837.50" y1="211.10" x2="845.50" y2="211.10" stroke="#000" stroke-width="2.00" />
<line x1="1355.70" y1="211.10" x2="1347.70" y2="211.10" stroke="#000" stroke-width="2.00" />
<line x1="837.50" y1="245.90" x2="842.00" y2="245.90" stroke="#000" stroke-width="2.00" />
<line x1="1355.70" y1="245.90" x2="1351.20" y2="245.90" stroke="#000" stroke-width="2.00" />
<line x1="837.50" y1="280.70" x2="845.50" y2="280.70" stroke="#000" stroke-width="2.00" />
<line x1="1355.70" y1="280.70" x2="1347.70" y2="280.70" stroke="#000" stroke-width="2.00" />
<line x1="837.50" y1="315.50" x2="842.00" y2="315.50" stroke="#000" stroke-width="2.00" />
<line x1="1355.70" y1="315.50" x2="1351.20" y2="315.50" stroke="#000" stroke-width="2.00" />
<line x1="837.50" y1="350.30" x2="845.50" y2="350.30" stroke="#000" stroke-width="2.00" />
<line x1="1355.70" y1="350.30" x2="1347.70" y2="350.30" stroke="#000" stroke-width="2.00" />
<line x1="837.50" y1="385.10" x2="842.00" y2="385.10" stroke="#000" stroke-width="2.00" />
<line x1="1355.70" y1="385.10" x2="1351.20" y2="385.10" stroke="#000" stroke-width="2.00" />
<line x1="837.50" y1="419.90" x2="845.50" y2="419.90" stroke="#000" stroke-width="2.00" />
<line x1="1355.70" y1="419.90" x2="1347.70" y2="419.90" stroke="#000" stroke-width="2.00" />
<line x1="837.50" y1="454.70" x2="842.00" y2="454.70" stroke="#000" stroke-width="2.00" />
<line x1="1355.70" y1="454.70" x2="1351.20" y2="454.70" stroke="#000" stroke-width="2.00" />
<text x="822.5" y="80.5" font-size="29.0" text-anchor="end" font-weight="normal" >23</text>
<text x="822.5" y="150.1" font-size="29.0" text-anchor="end" font-weight="normal" >20</text>
<text x="822.5" y="219.7" font-size="29.0" text-anchor="end" font-weight="normal" >17</text>
<text x="822.5" y="289.3" font-size="29.0" text-anchor="end" font-weight="normal" >14</text>
<text x="822.5" y="358.9" font-size="29.0" text-anchor="end" font-weight="normal" >11</text>
<text x="822.5" y="428.5" font-size="29.0" text-anchor="end" font-weight="normal" >8</text>
<text x="822.5" y="498.1" font-size="29.0" text-anchor="end" font-weight="normal" >5</text>
<text x="837.5" y="529.5" font-size="29.0" text-anchor="middle" font-weight="normal" >&#8211;3000</text>
<text x="923.9" y="529.5" font-size="29.0" text-anchor="middle" font-weight="normal" >&#8211;2000</text>
<text x="1010.2" y="529.5" font-size="29.0" text-anchor="middle" font-weight="normal" >&#8211;1000</text>
<text x="1096.6" y="529.5" font-size="29.0" text-anchor="middle" font-weight="normal" >0</text>
<text x="1183.0" y="529.5" font-size="29.0" text-anchor="middle" font-weight="normal" >1000</text>
<text x="1269.3" y="529.5" font-size="29.0" text-anchor="middle" font-weight="normal" >2000</text>
<text x="1355.7" y="529.5" font-size="29.0" text-anchor="middle" font-weight="normal" >3000</text>
<rect x="837.5" y="622.2" width="518.2" height="417.9" fill="none" stroke="#000" stroke-width="2.4"/>
<line x1="880.68" y1="1040.10" x2="880.68" y2="1035.60" stroke="#000" stroke-width="2.00" />
<line x1="880.68" y1="622.20" x2="880.68" y2="626.70" stroke="#000" stroke-width="2.00" />
<line x1="923.87" y1="1040.10" x2="923.87" y2="1032.10" stroke="#000" stroke-width="2.00" />
<line x1="923.87" y1="622.20" x2="923.87" y2="630.20" stroke="#000" stroke-width="2.00" />
<line x1="967.05" y1="1040.10" x2="967.05" y2="1035.60" stroke="#000" stroke-width="2.00" />
<line x1="967.05" y1="622.20" x2="967.05" y2="626.70" stroke="#000" stroke-width="2.00" />
<line x1="1010.23" y1="1040.10" x2="1010.23" y2="1032.10" stroke="#000" stroke-width="2.00" />
<line x1="1010.23" y1="622.20" x2="1010.23" y2="630.20" stroke="#000" stroke-width="2.00" />
<line x1="1053.42" y1="1040.10" x2="1053.42" y2="1035.60" stroke="#000" stroke-width="2.00" />
<line x1="1053.42" y1="622.20" x2="1053.42" y2="626.70" stroke="#000" stroke-width="2.00" />
<line x1="1096.60" y1="1040.10" x2="1096.60" y2="1032.10" stroke="#000" stroke-width="2.00" />
<line x1="1096.60" y1="622.20" x2="1096.60" y2="630.20" stroke="#000" stroke-width="2.00" />
<line x1="1139.78" y1="1040.10" x2="1139.78" y2="1035.60" stroke="#000" stroke-width="2.00" />
<line x1="1139.78" y1="622.20" x2="1139.78" y2="626.70" stroke="#000" stroke-width="2.00" />
<line x1="1182.97" y1="1040.10" x2="1182.97" y2="1032.10" stroke="#000" stroke-width="2.00" />
<line x1="1182.97" y1="622.20" x2="1182.97" y2="630.20" stroke="#000" stroke-width="2.00" />
<line x1="1226.15" y1="1040.10" x2="1226.15" y2="1035.60" stroke="#000" stroke-width="2.00" />
<line x1="1226.15" y1="622.20" x2="1226.15" y2="626.70" stroke="#000" stroke-width="2.00" />
<line x1="1269.33" y1="1040.10" x2="1269.33" y2="1032.10" stroke="#000" stroke-width="2.00" />
<line x1="1269.33" y1="622.20" x2="1269.33" y2="630.20" stroke="#000" stroke-width="2.00" />
<line x1="1312.52" y1="1040.10" x2="1312.52" y2="1035.60" stroke="#000" stroke-width="2.00" />
<line x1="1312.52" y1="622.20" x2="1312.52" y2="626.70" stroke="#000" stroke-width="2.00" />
<line x1="837.50" y1="657.03" x2="842.00" y2="657.03" stroke="#000" stroke-width="2.00" />
<line x1="1355.70" y1="657.03" x2="1351.20" y2="657.03" stroke="#000" stroke-width="2.00" />
<line x1="837.50" y1="691.85" x2="845.50" y2="691.85" stroke="#000" stroke-width="2.00" />
<line x1="1355.70" y1="691.85" x2="1347.70" y2="691.85" stroke="#000" stroke-width="2.00" />
<line x1="837.50" y1="726.67" x2="842.00" y2="726.67" stroke="#000" stroke-width="2.00" />
<line x1="1355.70" y1="726.67" x2="1351.20" y2="726.67" stroke="#000" stroke-width="2.00" />
<line x1="837.50" y1="761.50" x2="845.50" y2="761.50" stroke="#000" stroke-width="2.00" />
<line x1="1355.70" y1="761.50" x2="1347.70" y2="761.50" stroke="#000" stroke-width="2.00" />
<line x1="837.50" y1="796.33" x2="842.00" y2="796.33" stroke="#000" stroke-width="2.00" />
<line x1="1355.70" y1="796.33" x2="1351.20" y2="796.33" stroke="#000" stroke-width="2.00" />
<line x1="837.50" y1="831.15" x2="845.50" y2="831.15" stroke="#000" stroke-width="2.00" />
<line x1="1355.70" y1="831.15" x2="1347.70" y2="831.15" stroke="#000" stroke-width="2.00" />
<line x1="837.50" y1="865.97" x2="842.00" y2="865.97" stroke="#000" stroke-width="2.00" />
<line x1="1355.70" y1="865.97" x2="1351.20" y2="865.97" stroke="#000" stroke-width="2.00" />
<line x1="837.50" y1="900.80" x2="845.50" y2="900.80" stroke="#000" stroke-width="2.00" />
<line x1="1355.70" y1="900.80" x2="1347.70" y2="900.80" stroke="#000" stroke-width="2.00" />
<line x1="837.50" y1="935.62" x2="842.00" y2="935.62" stroke="#000" stroke-width="2.00" />
<line x1="1355.70" y1="935.62" x2="1351.20" y2="935.62" stroke="#000" stroke-width="2.00" />
<line x1="837.50" y1="970.45" x2="845.50" y2="970.45" stroke="#000" stroke-width="2.00" />
<line x1="1355.70" y1="970.45" x2="1347.70" y2="970.45" stroke="#000" stroke-width="2.00" />
<line x1="837.50" y1="1005.27" x2="842.00" y2="1005.27" stroke="#000" stroke-width="2.00" />
<line x1="1355.70" y1="1005.27" x2="1351.20" y2="1005.27" stroke="#000" stroke-width="2.00" />
<text x="822.5" y="630.8" font-size="29.0" text-anchor="end" font-weight="normal" >23</text>
<text x="822.5" y="700.5" font-size="29.0" text-anchor="end" font-weight="normal" >20</text>
<text x="822.5" y="770.1" font-size="29.0" text-anchor="end" font-weight="normal" >17</text>
<text x="822.5" y="839.8" font-size="29.0" text-anchor="end" font-weight="normal" >14</text>
<text x="822.5" y="909.4" font-size="29.0" text-anchor="end" font-weight="normal" >11</text>
<text x="822.5" y="979.0" font-size="29.0" text-anchor="end" font-weight="normal" >8</text>
<text x="822.5" y="1048.7" font-size="29.0" text-anchor="end" font-weight="normal" >5</text>
<text x="837.5" y="1080.1" font-size="29.0" text-anchor="middle" font-weight="normal" >&#8211;3000</text>
<text x="923.9" y="1080.1" font-size="29.0" text-anchor="middle" font-weight="normal" >&#8211;2000</text>
<text x="1010.2" y="1080.1" font-size="29.0" text-anchor="middle" font-weight="normal" >&#8211;1000</text>
<text x="1096.6" y="1080.1" font-size="29.0" text-anchor="middle" font-weight="normal" >0</text>
<text x="1183.0" y="1080.1" font-size="29.0" text-anchor="middle" font-weight="normal" >1000</text>
<text x="1269.3" y="1080.1" font-size="29.0" text-anchor="middle" font-weight="normal" >2000</text>
<text x="1355.7" y="1080.1" font-size="29.0" text-anchor="middle" font-weight="normal" >3000</text>
<text x="764.5" y="278.3" font-size="29.0" text-anchor="middle" font-weight="normal" transform="rotate(-90 764.5 278.3)">Amplitude (mV)</text>
<text x="767.0" y="833.4" font-size="29.0" text-anchor="middle" font-weight="normal" transform="rotate(-90 767.0 833.4)">Amplitude (mV)</text>
<text x="1098.9" y="570.6" font-size="29.0" text-anchor="middle" font-weight="normal" >(<tspan font-family='Liberation Serif' font-size="31.5">&#937;</tspan><tspan font-size="22" font-style="italic" dy="6.5">c</tspan><tspan dy="-6.5">-</tspan><tspan font-family='Liberation Serif' font-size="31.5">&#937;</tspan>)/2<tspan font-family='Liberation Serif' font-size="31">&#960;</tspan></text>
<text x="1096.5" y="1122.5" font-size="29.0" text-anchor="middle" font-weight="normal" >(<tspan font-family='Liberation Serif' font-size="31.5">&#937;</tspan><tspan font-size="22" font-style="italic" dy="6.5">c</tspan><tspan dy="-6.5">-</tspan><tspan font-family='Liberation Serif' font-size="31.5">&#937;</tspan>)/2<tspan font-family='Liberation Serif' font-size="31">&#960;</tspan></text>
<defs><clipPath id="cc"><rect x="837.5" y="71.9" width="518.2" height="417.6"/></clipPath><clipPath id="cd"><rect x="837.5" y="622.2" width="518.2" height="417.9"/></clipPath></defs>
<g clip-path="url(#cc)">
<path d="M871.6 274.0 L1001.6 250.2 L1038.1 225.3 L1054.5 202.4 L1068.5 180.2 L1070.8 155.7 L1075.9 133.1 L1079.8 112.1 L1083.0 97.5 L1088.0 77.0 L1105.0 77.0 L1109.6 97.5 L1113.9 112.0 L1116.7 133.1 L1121.8 155.7 L1124.5 180.2 L1138.1 202.4 L1154.9 225.3 L1191.4 250.2 L1321.4 274.0" fill="none" stroke="#f00000" stroke-width="1.50"  stroke-linejoin="round"/>
<path d="M871.6 274.0 L909.0 303.9 L926.9 325.3 L951.0 348.3 L970.8 371.2 L989.9 396.9 L1005.1 419.5 L1018.7 444.0 L1029.2 466.9 L1038.9 489.1" fill="none" stroke="#f00000" stroke-width="1.50" stroke-dasharray="5.5 5.3" stroke-linejoin="round"/>
<path d="M1321.4 274.0 L1284.0 303.9 L1266.1 325.3 L1242.0 348.3 L1222.2 371.2 L1202.3 396.9 L1187.5 419.5 L1174.3 444.0 L1163.4 466.9 L1153.7 489.1" fill="none" stroke="#f00000" stroke-width="1.50" stroke-dasharray="5.5 5.3" stroke-linejoin="round"/>
<path d="M1065.0 489.1 L1061.9 466.9 L1056.0 444.0 L1052.9 419.5 L1049.8 396.9 L1047.5 371.2 L1046.7 348.3 L1046.3 325.3 L1048.3 303.9 L1052.1 274.0 L1058.4 250.2 L1065.0 225.3 L1069.7 202.4 L1073.9 180.2 L1077.8 155.7 L1081.3 133.1 L1083.7 112.1 L1086.0 97.3 L1086.7 97.9 L1089.5 86.2 L1092.8 76.9 L1100.3 76.9 L1103.6 86.2 L1106.4 97.9 L1109.2 112.4 L1108.6 112.1 L1110.5 133.1 L1114.4 155.7 L1118.7 180.2 L1123.3 202.4 L1128.0 225.3 L1135.0 250.2 L1140.5 274.0 L1145.1 303.9 L1146.7 325.3 L1146.3 348.3 L1145.9 371.2 L1144.0 396.9 L1140.1 419.5 L1136.6 444.0 L1131.1 466.9 L1128.0 489.1" fill="none" stroke="#000" stroke-width="1.30"  stroke-linejoin="round"/>
<circle cx="871.6" cy="274.0" r="4.2" fill="url(#sr)"/>
<circle cx="1001.6" cy="250.2" r="4.2" fill="url(#sr)"/>
<circle cx="1038.1" cy="225.3" r="4.2" fill="url(#sr)"/>
<circle cx="1054.5" cy="202.4" r="4.2" fill="url(#sr)"/>
<circle cx="1068.5" cy="180.2" r="4.2" fill="url(#sr)"/>
<circle cx="1070.8" cy="155.7" r="4.2" fill="url(#sr)"/>
<circle cx="1075.9" cy="133.1" r="4.2" fill="url(#sr)"/>
<circle cx="1079.8" cy="112.1" r="4.2" fill="url(#sr)"/>
<circle cx="1321.4" cy="274.0" r="4.2" fill="url(#sr)"/>
<circle cx="1191.4" cy="250.2" r="4.2" fill="url(#sr)"/>
<circle cx="1154.9" cy="225.3" r="4.2" fill="url(#sr)"/>
<circle cx="1138.1" cy="202.4" r="4.2" fill="url(#sr)"/>
<circle cx="1124.5" cy="180.2" r="4.2" fill="url(#sr)"/>
<circle cx="1121.8" cy="155.7" r="4.2" fill="url(#sr)"/>
<circle cx="1116.7" cy="133.1" r="4.2" fill="url(#sr)"/>
<circle cx="1113.2" cy="112.1" r="4.2" fill="url(#sr)"/>
<circle cx="909.0" cy="303.9" r="4.2" fill="url(#sr)"/>
<circle cx="926.9" cy="325.3" r="4.2" fill="url(#sr)"/>
<circle cx="951.0" cy="348.3" r="4.2" fill="url(#sr)"/>
<circle cx="970.8" cy="371.2" r="4.2" fill="url(#sr)"/>
<circle cx="989.9" cy="396.9" r="4.2" fill="url(#sr)"/>
<circle cx="1005.1" cy="419.5" r="4.2" fill="url(#sr)"/>
<circle cx="1018.7" cy="444.0" r="4.2" fill="url(#sr)"/>
<circle cx="1029.2" cy="466.9" r="4.2" fill="url(#sr)"/>
<circle cx="1284.0" cy="303.9" r="4.2" fill="url(#sr)"/>
<circle cx="1266.1" cy="325.3" r="4.2" fill="url(#sr)"/>
<circle cx="1242.0" cy="348.3" r="4.2" fill="url(#sr)"/>
<circle cx="1222.2" cy="371.2" r="4.2" fill="url(#sr)"/>
<circle cx="1202.3" cy="396.9" r="4.2" fill="url(#sr)"/>
<circle cx="1187.5" cy="419.5" r="4.2" fill="url(#sr)"/>
<circle cx="1174.3" cy="444.0" r="4.2" fill="url(#sr)"/>
<circle cx="1163.4" cy="466.9" r="4.2" fill="url(#sr)"/>
<circle cx="1079.2" cy="112.0" r="4.2" fill="url(#sr)"/>
<circle cx="1083.0" cy="97.5" r="4.2" fill="url(#sr)"/>
<circle cx="1088.0" cy="77.0" r="4.2" fill="url(#sr)"/>
<circle cx="1113.9" cy="112.0" r="4.2" fill="url(#sr)"/>
<circle cx="1109.6" cy="97.5" r="4.2" fill="url(#sr)"/>
<circle cx="1105.0" cy="77.0" r="4.2" fill="url(#sr)"/>
<circle cx="1086.0" cy="97.3" r="4.2" fill="url(#sb)"/>
<circle cx="1083.7" cy="112.1" r="4.2" fill="url(#sb)"/>
<circle cx="1081.3" cy="133.1" r="4.2" fill="url(#sb)"/>
<circle cx="1077.8" cy="155.7" r="4.2" fill="url(#sb)"/>
<circle cx="1073.9" cy="180.2" r="4.2" fill="url(#sb)"/>
<circle cx="1069.7" cy="202.4" r="4.2" fill="url(#sb)"/>
<circle cx="1065.0" cy="225.3" r="4.2" fill="url(#sb)"/>
<circle cx="1058.4" cy="250.2" r="4.2" fill="url(#sb)"/>
<circle cx="1052.1" cy="274.0" r="4.2" fill="url(#sb)"/>
<circle cx="1048.3" cy="303.9" r="4.2" fill="url(#sb)"/>
<circle cx="1046.3" cy="325.3" r="4.2" fill="url(#sb)"/>
<circle cx="1046.7" cy="348.3" r="4.2" fill="url(#sb)"/>
<circle cx="1047.5" cy="371.2" r="4.2" fill="url(#sb)"/>
<circle cx="1049.8" cy="396.9" r="4.2" fill="url(#sb)"/>
<circle cx="1052.9" cy="419.5" r="4.2" fill="url(#sb)"/>
<circle cx="1056.0" cy="444.0" r="4.2" fill="url(#sb)"/>
<circle cx="1061.9" cy="466.9" r="4.2" fill="url(#sb)"/>
<circle cx="1106.2" cy="97.3" r="4.2" fill="url(#sb)"/>
<circle cx="1108.6" cy="112.1" r="4.2" fill="url(#sb)"/>
<circle cx="1110.5" cy="133.1" r="4.2" fill="url(#sb)"/>
<circle cx="1114.4" cy="155.7" r="4.2" fill="url(#sb)"/>
<circle cx="1118.7" cy="180.2" r="4.2" fill="url(#sb)"/>
<circle cx="1123.3" cy="202.4" r="4.2" fill="url(#sb)"/>
<circle cx="1128.0" cy="225.3" r="4.2" fill="url(#sb)"/>
<circle cx="1135.0" cy="250.2" r="4.2" fill="url(#sb)"/>
<circle cx="1140.5" cy="274.0" r="4.2" fill="url(#sb)"/>
<circle cx="1145.1" cy="303.9" r="4.2" fill="url(#sb)"/>
<circle cx="1146.7" cy="325.3" r="4.2" fill="url(#sb)"/>
<circle cx="1146.3" cy="348.3" r="4.2" fill="url(#sb)"/>
<circle cx="1145.9" cy="371.2" r="4.2" fill="url(#sb)"/>
<circle cx="1144.0" cy="396.9" r="4.2" fill="url(#sb)"/>
<circle cx="1140.1" cy="419.5" r="4.2" fill="url(#sb)"/>
<circle cx="1136.6" cy="444.0" r="4.2" fill="url(#sb)"/>
<circle cx="1131.1" cy="466.9" r="4.2" fill="url(#sb)"/>
<circle cx="1083.9" cy="112.4" r="4.2" fill="url(#sb)"/>
<circle cx="1086.7" cy="97.9" r="4.2" fill="url(#sb)"/>
<circle cx="1089.5" cy="86.2" r="4.2" fill="url(#sb)"/>
<circle cx="1092.8" cy="76.9" r="4.2" fill="url(#sb)"/>
<circle cx="1109.2" cy="112.4" r="4.2" fill="url(#sb)"/>
<circle cx="1106.4" cy="97.9" r="4.2" fill="url(#sb)"/>
<circle cx="1103.6" cy="86.2" r="4.2" fill="url(#sb)"/>
<circle cx="1100.3" cy="76.9" r="4.2" fill="url(#sb)"/>
</g>
<rect x="1083.2" y="73.1" width="26.9" height="18.3" fill="rgba(215,215,215,0.38)" stroke="#999" stroke-width="1" stroke-dasharray="3 2"/>
<line x1="1096.45" y1="71.70" x2="1096.45" y2="79.70" stroke="#000" stroke-width="2.00" />
<line x1="1110.60" y1="86.20" x2="1140.00" y2="93.40" stroke="#000" stroke-width="1.20" />
<path d="M1149.6 96.2 L1138.0 90.6 L1138.6 96.4 Z" fill="#000"/>
<line x1="841.90" y1="87.60" x2="861.40" y2="87.60" stroke="#f00000" stroke-width="1.50" />
<circle cx="851.4" cy="87.6" r="4.2" fill="url(#sr)"/>
<line x1="841.90" y1="116.10" x2="861.40" y2="116.10" stroke="#000" stroke-width="1.50" />
<circle cx="851.4" cy="116.1" r="4.2" fill="url(#sb)"/>
<text x="868.4" y="95.9" font-size="20.6" text-anchor="start" font-weight="normal" >Parametrically excited</text>
<text x="868.4" y="124.2" font-size="20.6" text-anchor="start" font-weight="normal" >Drictly excited</text>
<defs><clipPath id="ci"><rect x="1174.0" y="79.9" width="158.1" height="123.8"/></clipPath></defs>
<g clip-path="url(#ci)">
<path d="M1236.1 82.7 L1236.8 99.6 L1222.9 122.8 L1210.3 174.5 L1198.2 203.7" fill="none" stroke="#f00000" stroke-width="0.90"  stroke-linejoin="round"/>
<path d="M1272.4 82.7 L1270.9 99.6 L1284.5 122.8 L1297.3 174.5 L1309.4 203.7" fill="none" stroke="#f00000" stroke-width="0.90"  stroke-linejoin="round"/>
<path d="M1238.0 82.7 L1242.6 92.2 L1239.8 99.6 L1235.8 122.8 L1212.2 174.5 L1205.1 203.7" fill="none" stroke="#000" stroke-width="0.90"  stroke-linejoin="round"/>
<path d="M1269.3 82.7 L1264.5 92.2 L1267.1 99.6 L1271.3 122.8 L1295.1 174.5 L1302.2 203.7" fill="none" stroke="#000" stroke-width="0.90"  stroke-linejoin="round"/>
<circle cx="1236.1" cy="82.7" r="3.1" fill="url(#sr)"/>
<circle cx="1236.8" cy="99.6" r="3.1" fill="url(#sr)"/>
<circle cx="1222.9" cy="122.8" r="3.1" fill="url(#sr)"/>
<circle cx="1210.3" cy="174.5" r="3.1" fill="url(#sr)"/>
<circle cx="1272.4" cy="82.7" r="3.1" fill="url(#sr)"/>
<circle cx="1270.9" cy="99.6" r="3.1" fill="url(#sr)"/>
<circle cx="1284.5" cy="122.8" r="3.1" fill="url(#sr)"/>
<circle cx="1297.3" cy="174.5" r="3.1" fill="url(#sr)"/>
<circle cx="1238.0" cy="82.7" r="3.1" fill="url(#sb)"/>
<circle cx="1242.6" cy="92.2" r="3.1" fill="url(#sb)"/>
<circle cx="1239.8" cy="99.6" r="3.1" fill="url(#sb)"/>
<circle cx="1235.8" cy="122.8" r="3.1" fill="url(#sb)"/>
<circle cx="1212.2" cy="174.5" r="3.1" fill="url(#sb)"/>
<circle cx="1269.3" cy="82.7" r="3.1" fill="url(#sb)"/>
<circle cx="1264.5" cy="92.2" r="3.1" fill="url(#sb)"/>
<circle cx="1267.1" cy="99.6" r="3.1" fill="url(#sb)"/>
<circle cx="1271.3" cy="122.8" r="3.1" fill="url(#sb)"/>
<circle cx="1295.1" cy="174.5" r="3.1" fill="url(#sb)"/>
</g>
<line x1="1174.00" y1="81.90" x2="1174.00" y2="203.70" stroke="#222" stroke-width="1.20" />
<line x1="1174.00" y1="203.70" x2="1332.10" y2="203.70" stroke="#222" stroke-width="1.20" />
<line x1="1174.00" y1="82.70" x2="1177.50" y2="82.70" stroke="#222" stroke-width="1.00" />
<line x1="1174.00" y1="97.16" x2="1176.00" y2="97.16" stroke="#222" stroke-width="1.00" />
<line x1="1174.00" y1="111.62" x2="1177.50" y2="111.62" stroke="#222" stroke-width="1.00" />
<line x1="1174.00" y1="126.09" x2="1176.00" y2="126.09" stroke="#222" stroke-width="1.00" />
<line x1="1174.00" y1="140.55" x2="1177.50" y2="140.55" stroke="#222" stroke-width="1.00" />
<line x1="1174.00" y1="155.01" x2="1176.00" y2="155.01" stroke="#222" stroke-width="1.00" />
<line x1="1174.00" y1="169.48" x2="1177.50" y2="169.48" stroke="#222" stroke-width="1.00" />
<line x1="1174.00" y1="183.94" x2="1176.00" y2="183.94" stroke="#222" stroke-width="1.00" />
<line x1="1174.00" y1="198.40" x2="1177.50" y2="198.40" stroke="#222" stroke-width="1.00" />
<line x1="1174.00" y1="203.70" x2="1174.00" y2="200.20" stroke="#222" stroke-width="1.00" />
<line x1="1187.17" y1="203.70" x2="1187.17" y2="201.70" stroke="#222" stroke-width="1.00" />
<line x1="1200.35" y1="203.70" x2="1200.35" y2="200.20" stroke="#222" stroke-width="1.00" />
<line x1="1213.53" y1="203.70" x2="1213.53" y2="201.70" stroke="#222" stroke-width="1.00" />
<line x1="1226.70" y1="203.70" x2="1226.70" y2="200.20" stroke="#222" stroke-width="1.00" />
<line x1="1239.88" y1="203.70" x2="1239.88" y2="201.70" stroke="#222" stroke-width="1.00" />
<line x1="1253.05" y1="203.70" x2="1253.05" y2="200.20" stroke="#222" stroke-width="1.00" />
<line x1="1266.22" y1="203.70" x2="1266.22" y2="201.70" stroke="#222" stroke-width="1.00" />
<line x1="1279.40" y1="203.70" x2="1279.40" y2="200.20" stroke="#222" stroke-width="1.00" />
<line x1="1292.57" y1="203.70" x2="1292.57" y2="201.70" stroke="#222" stroke-width="1.00" />
<line x1="1305.75" y1="203.70" x2="1305.75" y2="200.20" stroke="#222" stroke-width="1.00" />
<line x1="1318.92" y1="203.70" x2="1318.92" y2="201.70" stroke="#222" stroke-width="1.00" />
<line x1="1332.10" y1="203.70" x2="1332.10" y2="200.20" stroke="#222" stroke-width="1.00" />
<text x="1145.4" y="87.7" font-size="11.6" text-anchor="start" font-weight="normal" fill="#111" textLength="22.6" lengthAdjust="spacingAndGlyphs">23.0</text>
<text x="1145.4" y="116.6" font-size="11.6" text-anchor="start" font-weight="normal" fill="#111" textLength="22.6" lengthAdjust="spacingAndGlyphs">22.8</text>
<text x="1145.4" y="145.6" font-size="11.6" text-anchor="start" font-weight="normal" fill="#111" textLength="22.6" lengthAdjust="spacingAndGlyphs">22.6</text>
<text x="1145.4" y="174.5" font-size="11.6" text-anchor="start" font-weight="normal" fill="#111" textLength="22.6" lengthAdjust="spacingAndGlyphs">22.4</text>
<text x="1145.4" y="203.4" font-size="11.6" text-anchor="start" font-weight="normal" fill="#111" textLength="22.6" lengthAdjust="spacingAndGlyphs">22.2</text>
<text x="1157.4" y="218.2" font-size="11.6" text-anchor="start" font-weight="normal" fill="#111" textLength="26.5" lengthAdjust="spacingAndGlyphs">&#8211;150</text>
<text x="1189.2" y="218.2" font-size="11.6" text-anchor="start" font-weight="normal" fill="#111" textLength="26.4" lengthAdjust="spacingAndGlyphs">&#8211;100</text>
<text x="1221.0" y="218.2" font-size="11.6" text-anchor="start" font-weight="normal" fill="#111" textLength="17.3" lengthAdjust="spacingAndGlyphs">-50</text>
<text x="1250.4" y="218.2" font-size="11.6" text-anchor="start" font-weight="normal" fill="#111" textLength="6.0" lengthAdjust="spacingAndGlyphs">0</text>
<text x="1270.9" y="218.2" font-size="11.6" text-anchor="start" font-weight="normal" fill="#111" textLength="14.3" lengthAdjust="spacingAndGlyphs">50</text>
<text x="1295.0" y="218.2" font-size="11.6" text-anchor="start" font-weight="normal" fill="#111" textLength="19.7" lengthAdjust="spacingAndGlyphs">100</text>
<text x="1323.2" y="218.2" font-size="11.6" text-anchor="start" font-weight="normal" fill="#111" textLength="19.0" lengthAdjust="spacingAndGlyphs">150</text>
<g clip-path="url(#cd)">
<path d="M1386.9 929.0 L1379.2 924.5 L1371.8 920.1 L1364.5 915.6 L1357.5 911.2 L1350.7 906.7 L1344.5 902.3 L1338.3 897.8 L1331.8 893.4 L1324.4 888.9 L1316.4 884.5 L1308.6 880.1 L1301.0 875.6 L1293.4 871.2 L1286.0 866.7 L1278.9 862.3 L1271.8 857.8 L1265.0 853.4 L1258.4 848.9 L1252.3 844.5 L1246.3 840.0 L1240.6 835.6 L1235.1 831.1 L1229.9 826.7 L1225.0 822.3 L1220.4 817.8 L1215.9 813.4 L1211.5 808.9 L1207.3 804.5 L1203.0 800.0 L1198.8 795.6 L1194.6 791.1 L1190.4 786.7 L1186.3 782.2 L1182.3 777.8 L1178.4 773.4 L1174.7 768.9 L1171.1 764.5 L1167.6 760.0 L1164.2 755.6 L1160.9 751.1 L1157.6 746.7 L1154.4 742.2 L1151.3 737.8 L1148.2 733.3 L1145.1 728.9 L1142.1 724.5 L1139.1 720.0 L1136.2 715.6 L1133.3 711.1 L1130.4 706.7 L1127.7 702.2 L1124.9 697.8 L1122.2 693.3 L1119.6 688.9 L1117.1 684.4 L1114.6 680.0 L1112.2 675.5 L1109.8 671.1 L1107.4 666.7 L1105.0 662.2 L1102.7 657.8 L1100.3 653.3 L1097.9 648.9 L1095.5 644.4 L1093.0 640.0 L1090.5 635.5 L1088.0 631.1 L1085.5 626.6 L1082.9 622.2" fill="none" stroke="#f00000" stroke-width="1.20"  stroke-linejoin="round"/>
<circle cx="1386.9" cy="929.0" r="2.3" fill="#f00000"/>
<circle cx="1379.2" cy="924.5" r="2.3" fill="#f00000"/>
<circle cx="1371.8" cy="920.1" r="2.3" fill="#f00000"/>
<circle cx="1364.5" cy="915.6" r="2.3" fill="#f00000"/>
<circle cx="1357.5" cy="911.2" r="2.3" fill="#f00000"/>
<circle cx="1350.7" cy="906.7" r="2.3" fill="#f00000"/>
<circle cx="1344.5" cy="902.3" r="2.3" fill="#f00000"/>
<circle cx="1338.3" cy="897.8" r="2.3" fill="#f00000"/>
<circle cx="1331.8" cy="893.4" r="2.3" fill="#f00000"/>
<circle cx="1324.4" cy="888.9" r="2.3" fill="#f00000"/>
<circle cx="1316.4" cy="884.5" r="2.3" fill="#f00000"/>
<circle cx="1308.6" cy="880.1" r="2.3" fill="#f00000"/>
<circle cx="1301.0" cy="875.6" r="2.3" fill="#f00000"/>
<circle cx="1293.4" cy="871.2" r="2.3" fill="#f00000"/>
<circle cx="1286.0" cy="866.7" r="2.3" fill="#f00000"/>
<circle cx="1278.9" cy="862.3" r="2.3" fill="#f00000"/>
<circle cx="1271.8" cy="857.8" r="2.3" fill="#f00000"/>
<circle cx="1265.0" cy="853.4" r="2.3" fill="#f00000"/>
<circle cx="1258.4" cy="848.9" r="2.3" fill="#f00000"/>
<circle cx="1252.3" cy="844.5" r="2.3" fill="#f00000"/>
<circle cx="1246.3" cy="840.0" r="2.3" fill="#f00000"/>
<circle cx="1240.6" cy="835.6" r="2.3" fill="#f00000"/>
<circle cx="1235.1" cy="831.1" r="2.3" fill="#f00000"/>
<circle cx="1229.9" cy="826.7" r="2.3" fill="#f00000"/>
<circle cx="1225.0" cy="822.3" r="2.3" fill="#f00000"/>
<circle cx="1220.4" cy="817.8" r="2.3" fill="#f00000"/>
<circle cx="1215.9" cy="813.4" r="2.3" fill="#f00000"/>
<circle cx="1211.5" cy="808.9" r="2.3" fill="#f00000"/>
<circle cx="1207.3" cy="804.5" r="2.3" fill="#f00000"/>
<circle cx="1203.0" cy="800.0" r="2.3" fill="#f00000"/>
<circle cx="1198.8" cy="795.6" r="2.3" fill="#f00000"/>
<circle cx="1194.6" cy="791.1" r="2.3" fill="#f00000"/>
<circle cx="1190.4" cy="786.7" r="2.3" fill="#f00000"/>
<circle cx="1186.3" cy="782.2" r="2.3" fill="#f00000"/>
<circle cx="1182.3" cy="777.8" r="2.3" fill="#f00000"/>
<circle cx="1178.4" cy="773.4" r="2.3" fill="#f00000"/>
<circle cx="1174.7" cy="768.9" r="2.3" fill="#f00000"/>
<circle cx="1171.1" cy="764.5" r="2.3" fill="#f00000"/>
<circle cx="1167.6" cy="760.0" r="2.3" fill="#f00000"/>
<circle cx="1164.2" cy="755.6" r="2.3" fill="#f00000"/>
<circle cx="1160.9" cy="751.1" r="2.3" fill="#f00000"/>
<circle cx="1157.6" cy="746.7" r="2.3" fill="#f00000"/>
<circle cx="1154.4" cy="742.2" r="2.3" fill="#f00000"/>
<circle cx="1151.3" cy="737.8" r="2.3" fill="#f00000"/>
<circle cx="1148.2" cy="733.3" r="2.3" fill="#f00000"/>
<circle cx="1145.1" cy="728.9" r="2.3" fill="#f00000"/>
<circle cx="1142.1" cy="724.5" r="2.3" fill="#f00000"/>
<circle cx="1139.1" cy="720.0" r="2.3" fill="#f00000"/>
<circle cx="1136.2" cy="715.6" r="2.3" fill="#f00000"/>
<circle cx="1133.3" cy="711.1" r="2.3" fill="#f00000"/>
<circle cx="1130.4" cy="706.7" r="2.3" fill="#f00000"/>
<circle cx="1127.7" cy="702.2" r="2.3" fill="#f00000"/>
<circle cx="1124.9" cy="697.8" r="2.3" fill="#f00000"/>
<circle cx="1122.2" cy="693.3" r="2.3" fill="#f00000"/>
<circle cx="1119.6" cy="688.9" r="2.3" fill="#f00000"/>
<circle cx="1117.1" cy="684.4" r="2.3" fill="#f00000"/>
<circle cx="1114.6" cy="680.0" r="2.3" fill="#f00000"/>
<circle cx="1112.2" cy="675.5" r="2.3" fill="#f00000"/>
<circle cx="1109.8" cy="671.1" r="2.3" fill="#f00000"/>
<circle cx="1107.4" cy="666.7" r="2.3" fill="#f00000"/>
<circle cx="1105.0" cy="662.2" r="2.3" fill="#f00000"/>
<circle cx="1102.7" cy="657.8" r="2.3" fill="#f00000"/>
<circle cx="1100.3" cy="653.3" r="2.3" fill="#f00000"/>
<circle cx="1097.9" cy="648.9" r="2.3" fill="#f00000"/>
<circle cx="1095.5" cy="644.4" r="2.3" fill="#f00000"/>
<circle cx="1093.0" cy="640.0" r="2.3" fill="#f00000"/>
<circle cx="1090.5" cy="635.5" r="2.3" fill="#f00000"/>
<circle cx="1088.0" cy="631.1" r="2.3" fill="#f00000"/>
<circle cx="1085.5" cy="626.6" r="2.3" fill="#f00000"/>
<circle cx="1082.9" cy="622.2" r="2.3" fill="#f00000"/>
<path d="M806.0 929.0 L813.7 924.5 L821.1 920.1 L828.4 915.6 L835.4 911.2 L842.2 906.7 L848.4 902.3 L854.6 897.8 L861.1 893.4 L868.5 888.9 L876.5 884.5 L884.3 880.1 L891.9 875.6 L899.5 871.2 L906.9 866.7 L914.0 862.3 L921.1 857.8 L927.9 853.4 L934.5 848.9 L940.6 844.5 L946.6 840.0 L952.3 835.6 L957.8 831.1 L963.0 826.7 L967.9 822.3 L972.5 817.8 L977.0 813.4 L981.4 808.9 L985.6 804.5 L989.9 800.0 L994.1 795.6 L998.3 791.1 L1002.5 786.7 L1006.6 782.2 L1010.6 777.8 L1014.5 773.4 L1018.2 768.9 L1021.8 764.5 L1025.3 760.0 L1028.7 755.6 L1032.0 751.1 L1035.3 746.7 L1038.5 742.2 L1041.6 737.8 L1044.7 733.3 L1047.8 728.9 L1050.8 724.5 L1053.8 720.0 L1056.7 715.6 L1059.6 711.1 L1062.5 706.7 L1065.2 702.2 L1068.0 697.8 L1070.7 693.3 L1073.3 688.9 L1075.8 684.4 L1078.3 680.0 L1080.7 675.5 L1083.1 671.1 L1085.5 666.7 L1087.9 662.2 L1090.2 657.8 L1092.6 653.3 L1095.0 648.9 L1097.4 644.4 L1099.9 640.0 L1102.4 635.5 L1104.9 631.1 L1107.4 626.6 L1110.0 622.2" fill="none" stroke="#f00000" stroke-width="1.20"  stroke-linejoin="round"/>
<circle cx="806.0" cy="929.0" r="2.3" fill="#f00000"/>
<circle cx="813.7" cy="924.5" r="2.3" fill="#f00000"/>
<circle cx="821.1" cy="920.1" r="2.3" fill="#f00000"/>
<circle cx="828.4" cy="915.6" r="2.3" fill="#f00000"/>
<circle cx="835.4" cy="911.2" r="2.3" fill="#f00000"/>
<circle cx="842.2" cy="906.7" r="2.3" fill="#f00000"/>
<circle cx="848.4" cy="902.3" r="2.3" fill="#f00000"/>
<circle cx="854.6" cy="897.8" r="2.3" fill="#f00000"/>
<circle cx="861.1" cy="893.4" r="2.3" fill="#f00000"/>
<circle cx="868.5" cy="888.9" r="2.3" fill="#f00000"/>
<circle cx="876.5" cy="884.5" r="2.3" fill="#f00000"/>
<circle cx="884.3" cy="880.1" r="2.3" fill="#f00000"/>
<circle cx="891.9" cy="875.6" r="2.3" fill="#f00000"/>
<circle cx="899.5" cy="871.2" r="2.3" fill="#f00000"/>
<circle cx="906.9" cy="866.7" r="2.3" fill="#f00000"/>
<circle cx="914.0" cy="862.3" r="2.3" fill="#f00000"/>
<circle cx="921.1" cy="857.8" r="2.3" fill="#f00000"/>
<circle cx="927.9" cy="853.4" r="2.3" fill="#f00000"/>
<circle cx="934.5" cy="848.9" r="2.3" fill="#f00000"/>
<circle cx="940.6" cy="844.5" r="2.3" fill="#f00000"/>
<circle cx="946.6" cy="840.0" r="2.3" fill="#f00000"/>
<circle cx="952.3" cy="835.6" r="2.3" fill="#f00000"/>
<circle cx="957.8" cy="831.1" r="2.3" fill="#f00000"/>
<circle cx="963.0" cy="826.7" r="2.3" fill="#f00000"/>
<circle cx="967.9" cy="822.3" r="2.3" fill="#f00000"/>
<circle cx="972.5" cy="817.8" r="2.3" fill="#f00000"/>
<circle cx="977.0" cy="813.4" r="2.3" fill="#f00000"/>
<circle cx="981.4" cy="808.9" r="2.3" fill="#f00000"/>
<circle cx="985.6" cy="804.5" r="2.3" fill="#f00000"/>
<circle cx="989.9" cy="800.0" r="2.3" fill="#f00000"/>
<circle cx="994.1" cy="795.6" r="2.3" fill="#f00000"/>
<circle cx="998.3" cy="791.1" r="2.3" fill="#f00000"/>
<circle cx="1002.5" cy="786.7" r="2.3" fill="#f00000"/>
<circle cx="1006.6" cy="782.2" r="2.3" fill="#f00000"/>
<circle cx="1010.6" cy="777.8" r="2.3" fill="#f00000"/>
<circle cx="1014.5" cy="773.4" r="2.3" fill="#f00000"/>
<circle cx="1018.2" cy="768.9" r="2.3" fill="#f00000"/>
<circle cx="1021.8" cy="764.5" r="2.3" fill="#f00000"/>
<circle cx="1025.3" cy="760.0" r="2.3" fill="#f00000"/>
<circle cx="1028.7" cy="755.6" r="2.3" fill="#f00000"/>
<circle cx="1032.0" cy="751.1" r="2.3" fill="#f00000"/>
<circle cx="1035.3" cy="746.7" r="2.3" fill="#f00000"/>
<circle cx="1038.5" cy="742.2" r="2.3" fill="#f00000"/>
<circle cx="1041.6" cy="737.8" r="2.3" fill="#f00000"/>
<circle cx="1044.7" cy="733.3" r="2.3" fill="#f00000"/>
<circle cx="1047.8" cy="728.9" r="2.3" fill="#f00000"/>
<circle cx="1050.8" cy="724.5" r="2.3" fill="#f00000"/>
<circle cx="1053.8" cy="720.0" r="2.3" fill="#f00000"/>
<circle cx="1056.7" cy="715.6" r="2.3" fill="#f00000"/>
<circle cx="1059.6" cy="711.1" r="2.3" fill="#f00000"/>
<circle cx="1062.5" cy="706.7" r="2.3" fill="#f00000"/>
<circle cx="1065.2" cy="702.2" r="2.3" fill="#f00000"/>
<circle cx="1068.0" cy="697.8" r="2.3" fill="#f00000"/>
<circle cx="1070.7" cy="693.3" r="2.3" fill="#f00000"/>
<circle cx="1073.3" cy="688.9" r="2.3" fill="#f00000"/>
<circle cx="1075.8" cy="684.4" r="2.3" fill="#f00000"/>
<circle cx="1078.3" cy="680.0" r="2.3" fill="#f00000"/>
<circle cx="1080.7" cy="675.5" r="2.3" fill="#f00000"/>
<circle cx="1083.1" cy="671.1" r="2.3" fill="#f00000"/>
<circle cx="1085.5" cy="666.7" r="2.3" fill="#f00000"/>
<circle cx="1087.9" cy="662.2" r="2.3" fill="#f00000"/>
<circle cx="1090.2" cy="657.8" r="2.3" fill="#f00000"/>
<circle cx="1092.6" cy="653.3" r="2.3" fill="#f00000"/>
<circle cx="1095.0" cy="648.9" r="2.3" fill="#f00000"/>
<circle cx="1097.4" cy="644.4" r="2.3" fill="#f00000"/>
<circle cx="1099.9" cy="640.0" r="2.3" fill="#f00000"/>
<circle cx="1102.4" cy="635.5" r="2.3" fill="#f00000"/>
<circle cx="1104.9" cy="631.1" r="2.3" fill="#f00000"/>
<circle cx="1107.4" cy="626.6" r="2.3" fill="#f00000"/>
<circle cx="1110.0" cy="622.2" r="2.3" fill="#f00000"/>
<path d="M1138.2 1040.1 L1138.7 1035.7 L1139.1 1031.2 L1139.5 1026.8 L1140.0 1022.3 L1140.3 1017.9 L1140.7 1013.4 L1141.0 1009.0 L1141.3 1004.5 L1141.6 1000.1 L1141.8 995.6 L1142.1 991.2 L1142.3 986.8 L1142.4 982.3 L1142.6 977.9 L1142.8 973.4 L1143.0 969.0 L1143.1 964.5 L1143.2 960.1 L1143.2 955.6 L1143.2 951.2 L1143.1 946.7 L1142.9 942.3 L1142.7 937.8 L1142.4 933.4 L1142.1 929.0 L1141.7 924.5 L1141.3 920.1 L1140.8 915.6 L1140.4 911.2 L1140.0 906.7 L1139.5 902.3 L1138.9 897.8 L1138.3 893.4 L1137.6 888.9 L1136.9 884.5 L1136.1 880.1 L1135.4 875.6 L1134.6 871.2 L1133.9 866.7 L1133.2 862.3 L1132.5 857.8 L1131.8 853.4 L1131.0 848.9 L1130.3 844.5 L1129.5 840.0 L1128.8 835.6 L1128.0 831.1 L1127.3 826.7 L1126.5 822.3 L1125.8 817.8 L1125.0 813.4 L1124.3 808.9 L1123.6 804.5 L1122.8 800.0 L1122.1 795.6 L1121.3 791.1 L1120.6 786.7 L1119.8 782.2 L1119.1 777.8 L1118.3 773.4 L1117.5 768.9 L1116.7 764.5 L1115.8 760.0 L1115.0 755.6 L1114.2 751.1 L1113.4 746.7 L1112.6 742.2 L1111.8 737.8 L1111.0 733.3 L1110.3 728.9 L1109.5 724.5 L1108.7 720.0 L1108.0 715.6 L1107.2 711.1 L1106.5 706.7 L1105.8 702.2 L1105.0 697.8 L1104.3 693.3 L1103.7 688.9 L1103.0 684.4 L1102.4 680.0 L1101.7 675.5 L1101.1 671.1 L1100.5 666.7 L1099.8 662.2 L1099.2 657.8 L1098.4 653.3 L1097.6 648.9 L1096.7 644.4 L1096.1 640.0 L1095.5 635.5 L1095.0 631.1 L1094.6 626.6 L1094.2 622.2" fill="none" stroke="#000" stroke-width="1.20"  stroke-linejoin="round"/>
<circle cx="1138.2" cy="1040.1" r="2.3" fill="#000"/>
<circle cx="1138.7" cy="1035.7" r="2.3" fill="#000"/>
<circle cx="1139.1" cy="1031.2" r="2.3" fill="#000"/>
<circle cx="1139.5" cy="1026.8" r="2.3" fill="#000"/>
<circle cx="1140.0" cy="1022.3" r="2.3" fill="#000"/>
<circle cx="1140.3" cy="1017.9" r="2.3" fill="#000"/>
<circle cx="1140.7" cy="1013.4" r="2.3" fill="#000"/>
<circle cx="1141.0" cy="1009.0" r="2.3" fill="#000"/>
<circle cx="1141.3" cy="1004.5" r="2.3" fill="#000"/>
<circle cx="1141.6" cy="1000.1" r="2.3" fill="#000"/>
<circle cx="1141.8" cy="995.6" r="2.3" fill="#000"/>
<circle cx="1142.1" cy="991.2" r="2.3" fill="#000"/>
<circle cx="1142.3" cy="986.8" r="2.3" fill="#000"/>
<circle cx="1142.4" cy="982.3" r="2.3" fill="#000"/>
<circle cx="1142.6" cy="977.9" r="2.3" fill="#000"/>
<circle cx="1142.8" cy="973.4" r="2.3" fill="#000"/>
<circle cx="1143.0" cy="969.0" r="2.3" fill="#000"/>
<circle cx="1143.1" cy="964.5" r="2.3" fill="#000"/>
<circle cx="1143.2" cy="960.1" r="2.3" fill="#000"/>
<circle cx="1143.2" cy="955.6" r="2.3" fill="#000"/>
<circle cx="1143.2" cy="951.2" r="2.3" fill="#000"/>
<circle cx="1143.1" cy="946.7" r="2.3" fill="#000"/>
<circle cx="1142.9" cy="942.3" r="2.3" fill="#000"/>
<circle cx="1142.7" cy="937.8" r="2.3" fill="#000"/>
<circle cx="1142.4" cy="933.4" r="2.3" fill="#000"/>
<circle cx="1142.1" cy="929.0" r="2.3" fill="#000"/>
<circle cx="1141.7" cy="924.5" r="2.3" fill="#000"/>
<circle cx="1141.3" cy="920.1" r="2.3" fill="#000"/>
<circle cx="1140.8" cy="915.6" r="2.3" fill="#000"/>
<circle cx="1140.4" cy="911.2" r="2.3" fill="#000"/>
<circle cx="1140.0" cy="906.7" r="2.3" fill="#000"/>
<circle cx="1139.5" cy="902.3" r="2.3" fill="#000"/>
<circle cx="1138.9" cy="897.8" r="2.3" fill="#000"/>
<circle cx="1138.3" cy="893.4" r="2.3" fill="#000"/>
<circle cx="1137.6" cy="888.9" r="2.3" fill="#000"/>
<circle cx="1136.9" cy="884.5" r="2.3" fill="#000"/>
<circle cx="1136.1" cy="880.1" r="2.3" fill="#000"/>
<circle cx="1135.4" cy="875.6" r="2.3" fill="#000"/>
<circle cx="1134.6" cy="871.2" r="2.3" fill="#000"/>
<circle cx="1133.9" cy="866.7" r="2.3" fill="#000"/>
<circle cx="1133.2" cy="862.3" r="2.3" fill="#000"/>
<circle cx="1132.5" cy="857.8" r="2.3" fill="#000"/>
<circle cx="1131.8" cy="853.4" r="2.3" fill="#000"/>
<circle cx="1131.0" cy="848.9" r="2.3" fill="#000"/>
<circle cx="1130.3" cy="844.5" r="2.3" fill="#000"/>
<circle cx="1129.5" cy="840.0" r="2.3" fill="#000"/>
<circle cx="1128.8" cy="835.6" r="2.3" fill="#000"/>
<circle cx="1128.0" cy="831.1" r="2.3" fill="#000"/>
<circle cx="1127.3" cy="826.7" r="2.3" fill="#000"/>
<circle cx="1126.5" cy="822.3" r="2.3" fill="#000"/>
<circle cx="1125.8" cy="817.8" r="2.3" fill="#000"/>
<circle cx="1125.0" cy="813.4" r="2.3" fill="#000"/>
<circle cx="1124.3" cy="808.9" r="2.3" fill="#000"/>
<circle cx="1123.6" cy="804.5" r="2.3" fill="#000"/>
<circle cx="1122.8" cy="800.0" r="2.3" fill="#000"/>
<circle cx="1122.1" cy="795.6" r="2.3" fill="#000"/>
<circle cx="1121.3" cy="791.1" r="2.3" fill="#000"/>
<circle cx="1120.6" cy="786.7" r="2.3" fill="#000"/>
<circle cx="1119.8" cy="782.2" r="2.3" fill="#000"/>
<circle cx="1119.1" cy="777.8" r="2.3" fill="#000"/>
<circle cx="1118.3" cy="773.4" r="2.3" fill="#000"/>
<circle cx="1117.5" cy="768.9" r="2.3" fill="#000"/>
<circle cx="1116.7" cy="764.5" r="2.3" fill="#000"/>
<circle cx="1115.8" cy="760.0" r="2.3" fill="#000"/>
<circle cx="1115.0" cy="755.6" r="2.3" fill="#000"/>
<circle cx="1114.2" cy="751.1" r="2.3" fill="#000"/>
<circle cx="1113.4" cy="746.7" r="2.3" fill="#000"/>
<circle cx="1112.6" cy="742.2" r="2.3" fill="#000"/>
<circle cx="1111.8" cy="737.8" r="2.3" fill="#000"/>
<circle cx="1111.0" cy="733.3" r="2.3" fill="#000"/>
<circle cx="1110.3" cy="728.9" r="2.3" fill="#000"/>
<circle cx="1109.5" cy="724.5" r="2.3" fill="#000"/>
<circle cx="1108.7" cy="720.0" r="2.3" fill="#000"/>
<circle cx="1108.0" cy="715.6" r="2.3" fill="#000"/>
<circle cx="1107.2" cy="711.1" r="2.3" fill="#000"/>
<circle cx="1106.5" cy="706.7" r="2.3" fill="#000"/>
<circle cx="1105.8" cy="702.2" r="2.3" fill="#000"/>
<circle cx="1105.0" cy="697.8" r="2.3" fill="#000"/>
<circle cx="1104.3" cy="693.3" r="2.3" fill="#000"/>
<circle cx="1103.7" cy="688.9" r="2.3" fill="#000"/>
<circle cx="1103.0" cy="684.4" r="2.3" fill="#000"/>
<circle cx="1102.4" cy="680.0" r="2.3" fill="#000"/>
<circle cx="1101.7" cy="675.5" r="2.3" fill="#000"/>
<circle cx="1101.1" cy="671.1" r="2.3" fill="#000"/>
<circle cx="1100.5" cy="666.7" r="2.3" fill="#000"/>
<circle cx="1099.8" cy="662.2" r="2.3" fill="#000"/>
<circle cx="1099.2" cy="657.8" r="2.3" fill="#000"/>
<circle cx="1098.4" cy="653.3" r="2.3" fill="#000"/>
<circle cx="1097.6" cy="648.9" r="2.3" fill="#000"/>
<circle cx="1096.7" cy="644.4" r="2.3" fill="#000"/>
<circle cx="1096.1" cy="640.0" r="2.3" fill="#000"/>
<circle cx="1095.5" cy="635.5" r="2.3" fill="#000"/>
<circle cx="1095.0" cy="631.1" r="2.3" fill="#000"/>
<circle cx="1094.6" cy="626.6" r="2.3" fill="#000"/>
<circle cx="1094.2" cy="622.2" r="2.3" fill="#000"/>
<path d="M1054.7 1040.1 L1054.2 1035.7 L1053.8 1031.2 L1053.4 1026.8 L1052.9 1022.3 L1052.6 1017.9 L1052.2 1013.4 L1051.9 1009.0 L1051.6 1004.5 L1051.3 1000.1 L1051.1 995.6 L1050.8 991.2 L1050.6 986.8 L1050.5 982.3 L1050.3 977.9 L1050.1 973.4 L1049.9 969.0 L1049.8 964.5 L1049.7 960.1 L1049.7 955.6 L1049.7 951.2 L1049.8 946.7 L1050.0 942.3 L1050.2 937.8 L1050.5 933.4 L1050.8 929.0 L1051.2 924.5 L1051.6 920.1 L1052.1 915.6 L1052.5 911.2 L1052.9 906.7 L1053.4 902.3 L1054.0 897.8 L1054.6 893.4 L1055.3 888.9 L1056.0 884.5 L1056.8 880.1 L1057.5 875.6 L1058.3 871.2 L1059.0 866.7 L1059.7 862.3 L1060.4 857.8 L1061.1 853.4 L1061.9 848.9 L1062.6 844.5 L1063.4 840.0 L1064.1 835.6 L1064.9 831.1 L1065.6 826.7 L1066.4 822.3 L1067.1 817.8 L1067.9 813.4 L1068.6 808.9 L1069.3 804.5 L1070.1 800.0 L1070.8 795.6 L1071.6 791.1 L1072.3 786.7 L1073.1 782.2 L1073.8 777.8 L1074.6 773.4 L1075.4 768.9 L1076.2 764.5 L1077.1 760.0 L1077.9 755.6 L1078.7 751.1 L1079.5 746.7 L1080.3 742.2 L1081.1 737.8 L1081.9 733.3 L1082.6 728.9 L1083.4 724.5 L1084.2 720.0 L1084.9 715.6 L1085.7 711.1 L1086.4 706.7 L1087.1 702.2 L1087.9 697.8 L1088.6 693.3 L1089.2 688.9 L1089.9 684.4 L1090.5 680.0 L1091.2 675.5 L1091.8 671.1 L1092.4 666.7 L1093.1 662.2 L1093.7 657.8 L1094.5 653.3 L1095.3 648.9 L1096.2 644.4 L1096.8 640.0 L1097.4 635.5 L1097.9 631.1 L1098.3 626.6 L1098.7 622.2" fill="none" stroke="#000" stroke-width="1.20"  stroke-linejoin="round"/>
<circle cx="1054.7" cy="1040.1" r="2.3" fill="#000"/>
<circle cx="1054.2" cy="1035.7" r="2.3" fill="#000"/>
<circle cx="1053.8" cy="1031.2" r="2.3" fill="#000"/>
<circle cx="1053.4" cy="1026.8" r="2.3" fill="#000"/>
<circle cx="1052.9" cy="1022.3" r="2.3" fill="#000"/>
<circle cx="1052.6" cy="1017.9" r="2.3" fill="#000"/>
<circle cx="1052.2" cy="1013.4" r="2.3" fill="#000"/>
<circle cx="1051.9" cy="1009.0" r="2.3" fill="#000"/>
<circle cx="1051.6" cy="1004.5" r="2.3" fill="#000"/>
<circle cx="1051.3" cy="1000.1" r="2.3" fill="#000"/>
<circle cx="1051.1" cy="995.6" r="2.3" fill="#000"/>
<circle cx="1050.8" cy="991.2" r="2.3" fill="#000"/>
<circle cx="1050.6" cy="986.8" r="2.3" fill="#000"/>
<circle cx="1050.5" cy="982.3" r="2.3" fill="#000"/>
<circle cx="1050.3" cy="977.9" r="2.3" fill="#000"/>
<circle cx="1050.1" cy="973.4" r="2.3" fill="#000"/>
<circle cx="1049.9" cy="969.0" r="2.3" fill="#000"/>
<circle cx="1049.8" cy="964.5" r="2.3" fill="#000"/>
<circle cx="1049.7" cy="960.1" r="2.3" fill="#000"/>
<circle cx="1049.7" cy="955.6" r="2.3" fill="#000"/>
<circle cx="1049.7" cy="951.2" r="2.3" fill="#000"/>
<circle cx="1049.8" cy="946.7" r="2.3" fill="#000"/>
<circle cx="1050.0" cy="942.3" r="2.3" fill="#000"/>
<circle cx="1050.2" cy="937.8" r="2.3" fill="#000"/>
<circle cx="1050.5" cy="933.4" r="2.3" fill="#000"/>
<circle cx="1050.8" cy="929.0" r="2.3" fill="#000"/>
<circle cx="1051.2" cy="924.5" r="2.3" fill="#000"/>
<circle cx="1051.6" cy="920.1" r="2.3" fill="#000"/>
<circle cx="1052.1" cy="915.6" r="2.3" fill="#000"/>
<circle cx="1052.5" cy="911.2" r="2.3" fill="#000"/>
<circle cx="1052.9" cy="906.7" r="2.3" fill="#000"/>
<circle cx="1053.4" cy="902.3" r="2.3" fill="#000"/>
<circle cx="1054.0" cy="897.8" r="2.3" fill="#000"/>
<circle cx="1054.6" cy="893.4" r="2.3" fill="#000"/>
<circle cx="1055.3" cy="888.9" r="2.3" fill="#000"/>
<circle cx="1056.0" cy="884.5" r="2.3" fill="#000"/>
<circle cx="1056.8" cy="880.1" r="2.3" fill="#000"/>
<circle cx="1057.5" cy="875.6" r="2.3" fill="#000"/>
<circle cx="1058.3" cy="871.2" r="2.3" fill="#000"/>
<circle cx="1059.0" cy="866.7" r="2.3" fill="#000"/>
<circle cx="1059.7" cy="862.3" r="2.3" fill="#000"/>
<circle cx="1060.4" cy="857.8" r="2.3" fill="#000"/>
<circle cx="1061.1" cy="853.4" r="2.3" fill="#000"/>
<circle cx="1061.9" cy="848.9" r="2.3" fill="#000"/>
<circle cx="1062.6" cy="844.5" r="2.3" fill="#000"/>
<circle cx="1063.4" cy="840.0" r="2.3" fill="#000"/>
<circle cx="1064.1" cy="835.6" r="2.3" fill="#000"/>
<circle cx="1064.9" cy="831.1" r="2.3" fill="#000"/>
<circle cx="1065.6" cy="826.7" r="2.3" fill="#000"/>
<circle cx="1066.4" cy="822.3" r="2.3" fill="#000"/>
<circle cx="1067.1" cy="817.8" r="2.3" fill="#000"/>
<circle cx="1067.9" cy="813.4" r="2.3" fill="#000"/>
<circle cx="1068.6" cy="808.9" r="2.3" fill="#000"/>
<circle cx="1069.3" cy="804.5" r="2.3" fill="#000"/>
<circle cx="1070.1" cy="800.0" r="2.3" fill="#000"/>
<circle cx="1070.8" cy="795.6" r="2.3" fill="#000"/>
<circle cx="1071.6" cy="791.1" r="2.3" fill="#000"/>
<circle cx="1072.3" cy="786.7" r="2.3" fill="#000"/>
<circle cx="1073.1" cy="782.2" r="2.3" fill="#000"/>
<circle cx="1073.8" cy="777.8" r="2.3" fill="#000"/>
<circle cx="1074.6" cy="773.4" r="2.3" fill="#000"/>
<circle cx="1075.4" cy="768.9" r="2.3" fill="#000"/>
<circle cx="1076.2" cy="764.5" r="2.3" fill="#000"/>
<circle cx="1077.1" cy="760.0" r="2.3" fill="#000"/>
<circle cx="1077.9" cy="755.6" r="2.3" fill="#000"/>
<circle cx="1078.7" cy="751.1" r="2.3" fill="#000"/>
<circle cx="1079.5" cy="746.7" r="2.3" fill="#000"/>
<circle cx="1080.3" cy="742.2" r="2.3" fill="#000"/>
<circle cx="1081.1" cy="737.8" r="2.3" fill="#000"/>
<circle cx="1081.9" cy="733.3" r="2.3" fill="#000"/>
<circle cx="1082.6" cy="728.9" r="2.3" fill="#000"/>
<circle cx="1083.4" cy="724.5" r="2.3" fill="#000"/>
<circle cx="1084.2" cy="720.0" r="2.3" fill="#000"/>
<circle cx="1084.9" cy="715.6" r="2.3" fill="#000"/>
<circle cx="1085.7" cy="711.1" r="2.3" fill="#000"/>
<circle cx="1086.4" cy="706.7" r="2.3" fill="#000"/>
<circle cx="1087.1" cy="702.2" r="2.3" fill="#000"/>
<circle cx="1087.9" cy="697.8" r="2.3" fill="#000"/>
<circle cx="1088.6" cy="693.3" r="2.3" fill="#000"/>
<circle cx="1089.2" cy="688.9" r="2.3" fill="#000"/>
<circle cx="1089.9" cy="684.4" r="2.3" fill="#000"/>
<circle cx="1090.5" cy="680.0" r="2.3" fill="#000"/>
<circle cx="1091.2" cy="675.5" r="2.3" fill="#000"/>
<circle cx="1091.8" cy="671.1" r="2.3" fill="#000"/>
<circle cx="1092.4" cy="666.7" r="2.3" fill="#000"/>
<circle cx="1093.1" cy="662.2" r="2.3" fill="#000"/>
<circle cx="1093.7" cy="657.8" r="2.3" fill="#000"/>
<circle cx="1094.5" cy="653.3" r="2.3" fill="#000"/>
<circle cx="1095.3" cy="648.9" r="2.3" fill="#000"/>
<circle cx="1096.2" cy="644.4" r="2.3" fill="#000"/>
<circle cx="1096.8" cy="640.0" r="2.3" fill="#000"/>
<circle cx="1097.4" cy="635.5" r="2.3" fill="#000"/>
<circle cx="1097.9" cy="631.1" r="2.3" fill="#000"/>
<circle cx="1098.3" cy="626.6" r="2.3" fill="#000"/>
<circle cx="1098.7" cy="622.2" r="2.3" fill="#000"/>
</g>
<line x1="840.20" y1="637.40" x2="859.60" y2="637.40" stroke="#f00000" stroke-width="1.30" />
<circle cx="849.6" cy="637.4" r="2.6" fill="#f00000"/>
<line x1="840.20" y1="666.50" x2="859.60" y2="666.50" stroke="#000" stroke-width="1.30" />
<circle cx="849.6" cy="666.5" r="2.6" fill="#000"/>
<text x="869.8" y="645.0" font-size="20.6" text-anchor="start" font-weight="normal" >Parametrically excited</text>
<text x="869.8" y="674.0" font-size="20.6" text-anchor="start" font-weight="normal" >Drictly excited</text>
</svg>
</body></html>
